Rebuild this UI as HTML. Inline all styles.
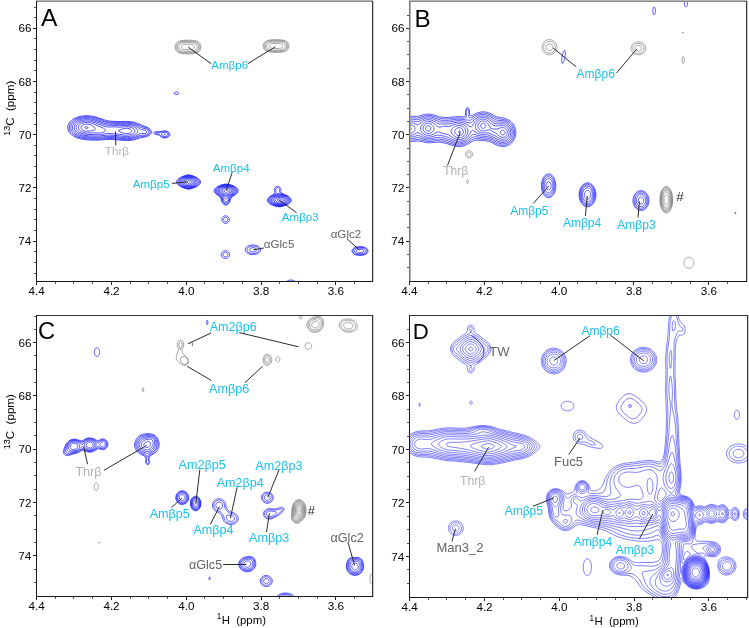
<!DOCTYPE html>
<html><head><meta charset="utf-8"><style>
html,body{margin:0;padding:0;background:#fff;width:749px;height:628px;overflow:hidden}
svg{display:block;will-change:transform}
text{font-family:"Liberation Sans",sans-serif}
</style></head><body>
<svg width="749" height="628" viewBox="0 0 749 628">
<rect width="749" height="628" fill="#fff"/>
<clipPath id="clipA"><rect x="37" y="2" width="335" height="279"/></clipPath>
<clipPath id="clipB"><rect x="410" y="2" width="336" height="279"/></clipPath>
<clipPath id="clipC"><rect x="37" y="316" width="335" height="280"/></clipPath>
<clipPath id="clipD"><rect x="410" y="316" width="337" height="281"/></clipPath>
<rect x="36.00" y="282.00" width="1.00" height="3.00" fill="#222"/>
<text x="28.40" y="295.20" font-size="11.70">4.4</text>
<rect x="55.00" y="282.00" width="1.00" height="2.00" fill="#555"/>
<rect x="73.00" y="282.00" width="1.00" height="2.00" fill="#555"/>
<rect x="92.00" y="282.00" width="1.00" height="2.00" fill="#555"/>
<rect x="111.00" y="282.00" width="1.00" height="3.00" fill="#222"/>
<text x="103.39" y="295.20" font-size="11.70">4.2</text>
<rect x="130.00" y="282.00" width="1.00" height="2.00" fill="#555"/>
<rect x="148.00" y="282.00" width="1.00" height="2.00" fill="#555"/>
<rect x="167.00" y="282.00" width="1.00" height="2.00" fill="#555"/>
<rect x="186.00" y="282.00" width="1.00" height="3.00" fill="#222"/>
<text x="178.18" y="295.20" font-size="11.70">4.0</text>
<rect x="204.00" y="282.00" width="1.00" height="2.00" fill="#555"/>
<rect x="223.00" y="282.00" width="1.00" height="2.00" fill="#555"/>
<rect x="242.00" y="282.00" width="1.00" height="2.00" fill="#555"/>
<rect x="261.00" y="282.00" width="1.00" height="3.00" fill="#222"/>
<text x="252.98" y="295.20" font-size="11.70">3.8</text>
<rect x="279.00" y="282.00" width="1.00" height="2.00" fill="#555"/>
<rect x="298.00" y="282.00" width="1.00" height="2.00" fill="#555"/>
<rect x="317.00" y="282.00" width="1.00" height="2.00" fill="#555"/>
<rect x="335.00" y="282.00" width="1.00" height="3.00" fill="#222"/>
<text x="327.84" y="295.20" font-size="11.70">3.6</text>
<rect x="354.00" y="282.00" width="1.00" height="2.00" fill="#555"/>
<rect x="34.00" y="7.00" width="2.00" height="1.00" fill="#555"/>
<rect x="34.00" y="17.00" width="2.00" height="1.00" fill="#555"/>
<rect x="33.00" y="28.00" width="3.00" height="1.00" fill="#222"/>
<text x="18.50" y="32.40" font-size="11.70">66</text>
<rect x="34.00" y="38.00" width="2.00" height="1.00" fill="#555"/>
<rect x="34.00" y="49.00" width="2.00" height="1.00" fill="#555"/>
<rect x="34.00" y="60.00" width="2.00" height="1.00" fill="#555"/>
<rect x="34.00" y="70.00" width="2.00" height="1.00" fill="#555"/>
<rect x="33.00" y="81.00" width="3.00" height="1.00" fill="#222"/>
<text x="18.49" y="85.60" font-size="11.70">68</text>
<rect x="34.00" y="92.00" width="2.00" height="1.00" fill="#555"/>
<rect x="34.00" y="102.00" width="2.00" height="1.00" fill="#555"/>
<rect x="34.00" y="113.00" width="2.00" height="1.00" fill="#555"/>
<rect x="34.00" y="124.00" width="2.00" height="1.00" fill="#555"/>
<rect x="33.00" y="134.00" width="3.00" height="1.00" fill="#222"/>
<text x="18.44" y="138.80" font-size="11.70">70</text>
<rect x="34.00" y="145.00" width="2.00" height="1.00" fill="#555"/>
<rect x="34.00" y="155.00" width="2.00" height="1.00" fill="#555"/>
<rect x="34.00" y="166.00" width="2.00" height="1.00" fill="#555"/>
<rect x="34.00" y="177.00" width="2.00" height="1.00" fill="#555"/>
<rect x="33.00" y="187.00" width="3.00" height="1.00" fill="#222"/>
<text x="18.57" y="192.00" font-size="11.70">72</text>
<rect x="34.00" y="198.00" width="2.00" height="1.00" fill="#555"/>
<rect x="34.00" y="209.00" width="2.00" height="1.00" fill="#555"/>
<rect x="34.00" y="219.00" width="2.00" height="1.00" fill="#555"/>
<rect x="34.00" y="230.00" width="2.00" height="1.00" fill="#555"/>
<rect x="33.00" y="241.00" width="3.00" height="1.00" fill="#222"/>
<text x="18.33" y="245.20" font-size="11.70">74</text>
<rect x="34.00" y="251.00" width="2.00" height="1.00" fill="#555"/>
<rect x="34.00" y="262.00" width="2.00" height="1.00" fill="#555"/>
<rect x="34.00" y="273.00" width="2.00" height="1.00" fill="#555"/>
<path d="M177.2 94.5L176.8 94.6L176.0 94.6L175.5 94.5L174.8 94.2L174.5 94.0L174.2 93.8L174.1 93.5L174.1 93.2L174.2 93.0L174.3 92.8L174.8 92.4L175.2 92.2L175.8 92.1L176.2 92.0L176.8 92.0L177.2 92.1L177.8 92.2L178.2 92.5L178.5 92.8L178.6 93.0L178.7 93.2L178.7 93.5L178.6 93.8L178.2 94.1L177.8 94.3ZM129.0 140.5L126.8 140.6L124.2 140.5L122.0 140.3L115.2 139.7L112.8 139.5L110.2 139.4L107.0 139.5L101.8 139.9L99.0 140.1L95.8 140.1L92.0 140.1L88.5 139.9L85.5 139.6L83.0 139.3L80.5 138.8L79.0 138.4L77.5 138.0L76.0 137.4L74.8 136.8L73.5 136.1L72.5 135.4L71.5 134.7L70.5 133.7L69.8 132.9L69.1 132.0L68.5 131.0L68.1 130.0L67.9 129.0L67.7 128.0L67.7 127.0L67.9 125.8L68.3 124.5L68.8 123.5L69.5 122.5L70.3 121.5L71.3 120.5L72.5 119.6L73.8 118.8L75.2 118.0L76.8 117.4L78.2 116.9L80.0 116.4L81.8 116.1L83.5 115.9L85.2 115.7L87.0 115.7L89.0 115.8L90.5 116.0L92.0 116.2L93.5 116.5L95.2 116.9L98.5 117.8L104.0 119.7L105.5 120.2L107.5 120.7L109.2 121.0L112.2 121.3L117.5 121.5L120.2 121.5L125.8 121.4L128.5 121.5L130.2 121.6L131.8 121.8L133.2 122.1L134.8 122.4L136.2 122.8L137.8 123.4L142.5 125.5L146.5 126.9L148.0 127.6L148.7 128.0L149.2 128.4L150.1 129.2L150.7 130.2L151.6 132.0L151.7 132.5L151.7 132.8L151.6 133.0L151.2 133.5L150.7 134.0L149.9 134.8L149.0 135.5L148.2 135.9L147.2 136.4L146.5 136.6L145.5 136.9L142.0 137.5L140.8 137.7L139.5 138.1L136.2 139.2L134.0 139.8L131.8 140.2L130.5 140.4ZM166.5 137.8L165.5 137.9L164.2 138.0L163.2 137.8L162.2 137.5L161.6 137.2L161.0 136.9L160.5 136.5L159.4 135.5L158.8 135.1L157.8 134.8L155.5 134.2L154.8 134.0L154.3 133.8L153.9 133.5L153.6 133.2L153.5 133.0L153.5 132.8L153.7 132.5L154.1 132.2L154.8 132.0L155.5 131.8L156.8 131.7L159.2 131.7L160.0 131.6L161.0 131.5L162.8 131.0L163.8 130.9L164.8 130.8L165.5 130.8L166.5 131.0L167.2 131.3L168.0 131.6L168.5 131.9L168.9 132.2L169.3 132.8L169.6 133.2L169.8 133.8L169.9 134.2L169.9 134.8L169.7 135.2L169.5 135.8L169.2 136.2L168.8 136.7L168.3 137.0L167.8 137.3L167.2 137.5ZM189.8 189.0L188.8 189.2L188.2 189.2L186.8 188.9L184.8 188.3L183.0 187.7L181.5 187.1L180.2 186.4L179.0 185.6L178.2 185.0L177.5 184.2L177.0 183.5L176.7 182.8L176.6 182.2L176.6 181.5L176.9 180.8L177.3 180.0L178.0 179.2L179.0 178.4L180.2 177.6L181.8 176.8L183.2 176.2L185.0 175.6L186.8 175.1L188.5 174.8L189.5 174.9L191.2 175.3L193.0 175.9L194.5 176.4L196.0 177.1L197.2 177.8L198.4 178.5L199.2 179.2L199.7 179.8L200.2 180.5L200.5 181.2L200.6 182.0L200.5 182.8L200.2 183.5L199.9 184.0L199.2 184.7L198.5 185.4L197.6 186.0L196.5 186.7L195.5 187.2L194.0 187.8L192.5 188.3L191.2 188.7ZM226.0 205.0L225.5 205.0L225.0 204.9L224.2 204.6L223.5 204.2L222.8 203.5L222.3 202.8L221.9 202.0L221.6 201.0L221.0 198.8L220.6 198.0L220.3 197.5L219.9 197.0L219.4 196.5L218.8 196.0L216.5 194.4L215.7 193.8L215.3 193.2L214.9 192.8L214.4 192.0L214.3 191.5L214.2 190.8L214.2 190.2L214.4 189.8L214.6 189.2L215.1 188.5L215.6 188.0L216.2 187.5L216.8 187.0L217.8 186.4L219.5 185.6L220.8 185.1L221.8 184.8L223.2 184.4L224.2 184.2L225.2 184.1L226.2 184.0L227.2 184.1L228.5 184.3L230.8 184.8L231.8 185.2L233.0 185.6L234.7 186.5L235.6 187.0L236.2 187.5L236.8 188.0L237.3 188.5L237.6 189.0L237.9 189.5L238.1 190.2L238.2 190.8L238.1 191.5L237.8 192.2L237.4 193.0L236.9 193.5L236.4 194.0L235.5 194.7L233.0 196.2L232.3 196.8L231.7 197.2L231.3 197.8L231.0 198.2L230.6 199.0L230.0 201.0L229.7 202.0L229.2 202.8L228.8 203.5L228.2 204.0L227.5 204.6L226.8 204.9ZM280.0 206.8L279.2 206.8L278.2 206.7L277.2 206.6L276.0 206.3L274.5 205.9L273.5 205.6L272.2 205.1L271.2 204.6L269.7 203.8L269.1 203.2L268.5 202.8L268.1 202.2L267.6 201.5L267.4 201.0L267.3 200.5L267.3 199.8L267.6 199.0L267.8 198.5L268.4 197.8L269.0 197.2L269.9 196.5L272.6 194.8L273.3 194.2L273.9 193.8L274.3 193.2L274.5 192.8L274.6 192.2L274.6 191.8L274.4 190.5L274.3 189.8L274.4 189.0L274.6 188.2L275.1 187.5L275.8 186.9L276.5 186.5L277.2 186.3L277.8 186.3L278.2 186.4L279.0 186.6L279.8 187.1L280.3 187.8L280.7 188.5L280.9 189.2L280.9 190.0L280.9 191.2L281.0 191.8L281.2 192.2L281.5 192.8L282.1 193.2L283.0 193.8L287.0 195.6L288.0 196.1L289.0 196.8L289.9 197.5L290.6 198.2L291.0 199.0L291.3 199.8L291.3 200.2L291.2 201.0L291.0 201.5L290.7 202.0L290.3 202.5L289.8 203.0L289.2 203.5L288.5 204.0L287.8 204.4L286.8 204.9L285.8 205.3L284.5 205.8L282.2 206.4L281.0 206.6ZM226.5 223.3L225.8 223.4L225.0 223.4L224.2 223.2L223.5 222.8L222.9 222.2L222.5 221.8L222.2 221.2L221.9 220.5L221.8 219.8L221.8 219.0L222.0 218.2L222.4 217.5L223.0 216.8L223.5 216.4L224.0 216.2L224.8 215.9L225.5 215.8L226.2 215.9L227.0 216.1L227.5 216.3L228.1 216.8L228.6 217.2L229.0 218.0L229.3 218.8L229.4 219.5L229.3 220.2L229.1 221.0L228.9 221.5L228.3 222.2L227.8 222.7L227.2 223.0ZM254.5 254.5L253.5 254.6L252.2 254.6L251.2 254.5L250.2 254.3L249.2 254.0L248.5 253.7L247.6 253.2L246.8 252.8L246.2 252.2L245.7 251.5L245.4 251.0L245.2 250.2L245.2 249.5L245.3 249.0L245.6 248.2L245.9 247.8L246.4 247.2L247.0 246.7L247.8 246.3L248.5 245.9L249.2 245.6L250.2 245.3L251.2 245.1L252.2 245.0L253.2 245.0L254.2 245.1L255.2 245.2L256.2 245.4L257.2 245.8L258.0 246.1L258.7 246.5L259.2 246.9L259.8 247.5L260.2 248.0L260.5 248.5L260.7 249.2L260.8 250.0L260.7 250.5L260.6 251.0L260.3 251.5L259.9 252.0L259.4 252.5L258.8 253.0L258.0 253.5L257.2 253.8L256.2 254.2L255.5 254.3ZM362.5 255.3L361.2 255.4L360.0 255.4L358.8 255.4L357.5 255.3L356.5 255.1L355.8 254.9L355.0 254.7L354.2 254.3L353.5 253.8L352.9 253.2L352.5 252.7L352.2 252.0L352.0 251.5L352.0 250.8L352.2 250.0L352.4 249.5L352.7 249.0L353.2 248.5L353.8 248.0L354.2 247.7L355.0 247.3L355.8 247.1L356.5 246.9L357.5 246.7L358.8 246.6L360.0 246.6L361.2 246.6L362.5 246.7L363.5 246.9L364.2 247.1L365.0 247.3L365.8 247.7L366.5 248.2L367.0 248.7L367.5 249.2L367.7 249.8L367.9 250.2L368.0 251.0L367.9 251.8L367.7 252.2L367.5 252.8L367.0 253.3L366.5 253.8L365.8 254.2L365.0 254.7L364.2 254.9L363.5 255.1ZM226.5 258.3L225.8 258.4L225.0 258.4L224.2 258.3L223.5 258.0L222.8 257.5L222.1 257.0L221.8 256.5L221.4 255.8L221.2 255.0L221.2 254.2L221.4 253.5L221.6 253.0L222.0 252.4L222.5 251.9L223.0 251.5L223.8 251.1L224.5 250.9L225.2 250.8L226.2 250.9L227.0 251.1L227.8 251.4L228.5 252.0L229.0 252.6L229.3 253.2L229.6 254.0L229.6 254.8L229.5 255.5L229.2 256.2L228.8 256.9L228.1 257.5L227.3 258.0ZM286.7 281.5L287.0 281.2L287.5 280.9L288.5 280.4L289.8 280.1L291.0 280.0L292.2 280.1L293.5 280.4L294.5 280.9L295.0 281.2L295.3 281.5M130.0 139.5L127.5 139.7L124.8 139.6L122.2 139.5L118.0 139.0L115.2 138.8L112.2 138.6L109.8 138.5L106.8 138.6L101.5 139.0L99.2 139.2L96.5 139.2L93.0 139.2L89.5 139.0L86.5 138.8L83.8 138.5L81.5 138.1L80.0 137.7L78.8 137.3L77.5 136.9L76.0 136.2L74.8 135.5L73.8 134.9L72.9 134.2L72.0 133.5L71.2 132.7L70.5 131.8L70.1 131.0L69.6 130.0L69.3 129.0L69.2 128.0L69.2 127.0L69.4 126.0L69.6 125.0L70.1 124.0L70.7 123.0L71.5 122.1L72.5 121.1L73.5 120.3L74.5 119.6L75.8 119.0L77.0 118.4L78.5 117.9L80.0 117.4L81.5 117.1L83.0 116.9L84.8 116.7L86.5 116.6L88.2 116.7L90.0 116.9L91.5 117.1L93.0 117.3L94.5 117.7L97.8 118.6L104.8 121.0L106.5 121.5L108.5 121.9L111.2 122.1L118.0 122.4L120.5 122.4L125.5 122.3L128.0 122.3L130.8 122.6L133.2 123.0L134.8 123.4L136.2 123.9L138.0 124.6L140.8 126.0L141.8 126.4L143.0 126.8L145.8 127.6L147.0 128.1L148.0 128.7L148.8 129.2L149.4 130.0L149.8 130.8L150.1 131.5L150.2 132.0L150.1 132.8L149.8 133.2L149.3 134.0L148.8 134.5L148.1 135.0L147.2 135.4L146.2 135.8L145.2 136.0L141.8 136.5L140.5 136.7L139.2 137.0L136.2 138.1L134.5 138.7L132.2 139.2ZM165.5 137.3L164.8 137.3L164.0 137.2L163.2 137.1L162.5 136.8L162.0 136.6L161.5 136.2L160.9 135.8L160.0 134.8L159.5 134.4L158.8 134.1L157.0 133.8L156.2 133.6L155.9 133.5L155.6 133.2L155.5 133.0L155.6 132.8L155.8 132.7L156.1 132.5L156.5 132.4L157.5 132.4L159.2 132.5L160.0 132.5L160.8 132.3L163.0 131.7L164.0 131.5L164.8 131.5L165.5 131.5L166.2 131.7L167.0 131.9L167.5 132.2L167.9 132.5L168.2 132.8L168.6 133.2L168.8 133.6L168.9 134.0L168.9 134.5L168.8 135.0L168.6 135.5L168.4 135.8L168.0 136.2L167.6 136.5L167.2 136.8L166.6 137.0ZM188.8 188.8L188.0 188.7L186.5 188.4L185.0 187.9L183.5 187.4L182.2 186.8L181.0 186.1L180.0 185.5L179.1 184.8L178.6 184.2L178.1 183.5L177.9 183.0L177.7 182.2L177.7 181.8L177.9 181.0L178.3 180.2L178.9 179.5L179.7 178.8L180.5 178.2L181.6 177.5L183.0 176.9L184.2 176.4L185.8 175.9L187.2 175.5L188.5 175.2L189.5 175.4L191.2 175.8L193.0 176.4L194.2 176.9L195.6 177.5L196.8 178.2L197.5 178.8L198.3 179.5L198.9 180.2L199.2 180.8L199.5 181.5L199.5 182.2L199.4 182.8L199.1 183.5L198.6 184.2L198.1 184.8L197.2 185.4L196.4 186.0L195.2 186.7L194.2 187.1L193.0 187.6L191.5 188.1L189.8 188.6ZM226.5 204.1L226.0 204.2L225.5 204.1L224.8 204.0L224.0 203.6L223.6 203.2L223.2 202.8L222.8 202.2L222.5 201.5L222.2 200.8L221.5 198.5L221.3 198.0L221.0 197.4L220.5 196.8L220.0 196.2L217.3 194.2L216.2 193.2L215.8 192.8L215.4 192.0L215.2 191.2L215.2 190.8L215.2 190.2L215.4 189.8L215.6 189.2L215.9 188.8L216.4 188.2L216.9 187.8L217.6 187.2L218.4 186.8L219.2 186.3L220.2 185.8L222.2 185.1L223.2 184.9L224.5 184.6L225.5 184.5L226.2 184.4L228.0 184.6L229.2 184.9L230.2 185.2L232.2 185.9L233.2 186.3L234.0 186.8L234.8 187.2L235.5 187.8L236.0 188.2L236.5 188.8L236.8 189.2L237.0 189.8L237.2 190.2L237.2 190.8L237.2 191.5L237.0 192.0L236.5 192.8L236.0 193.4L235.3 194.0L234.7 194.5L232.5 195.9L231.8 196.5L231.2 197.0L230.8 197.5L230.4 198.0L230.1 198.5L229.9 199.2L229.3 201.0L229.0 201.8L228.8 202.3L228.2 203.0L227.8 203.4L227.2 203.8ZM280.8 206.3L279.2 206.4L278.5 206.3L277.2 206.1L276.0 205.9L275.0 205.6L273.8 205.2L272.8 204.8L271.8 204.3L271.0 203.9L270.2 203.3L269.8 202.9L269.3 202.5L268.9 202.0L268.6 201.5L268.3 200.8L268.3 200.0L268.4 199.2L268.8 198.5L269.4 197.8L270.0 197.2L270.9 196.5L273.8 194.8L274.9 194.0L275.5 193.5L275.9 193.0L276.2 192.5L276.2 192.0L275.7 190.2L275.6 189.8L275.7 189.2L275.9 188.8L276.2 188.2L276.8 187.8L277.2 187.7L277.8 187.6L278.0 187.7L278.5 187.9L279.0 188.2L279.4 188.8L279.5 189.2L279.6 189.8L279.6 190.2L279.5 191.2L279.5 191.8L279.7 192.2L280.1 192.8L280.8 193.2L281.7 193.8L286.0 195.7L287.0 196.2L287.9 196.8L288.9 197.5L289.6 198.2L290.1 199.0L290.3 199.8L290.3 200.2L290.3 200.8L290.1 201.2L289.9 201.8L289.5 202.2L289.1 202.8L288.0 203.6L287.2 204.1L286.5 204.5L284.8 205.2L282.8 205.8ZM226.0 221.8L225.2 221.8L225.0 221.7L224.5 221.5L224.2 221.2L223.8 220.8L223.6 220.5L223.4 220.0L223.4 219.2L223.6 218.8L223.8 218.4L224.0 218.1L224.4 217.8L224.8 217.6L225.2 217.4L226.0 217.4L226.5 217.6L226.8 217.8L227.2 218.2L227.5 218.5L227.7 219.0L227.8 219.2L227.8 220.0L227.6 220.5L227.5 220.8L227.2 221.0L226.8 221.5L226.5 221.6ZM253.5 253.5L252.5 253.5L251.8 253.4L251.0 253.3L250.2 253.1L249.5 252.8L248.8 252.5L248.2 252.1L247.9 251.8L247.4 251.2L247.2 250.8L247.0 250.2L247.0 249.8L247.0 249.2L247.2 248.8L247.5 248.2L248.0 247.8L248.5 247.3L249.0 247.0L249.5 246.8L250.2 246.5L251.0 246.3L251.8 246.2L253.2 246.1L254.8 246.2L255.5 246.4L256.2 246.7L257.0 247.0L257.4 247.2L257.8 247.5L258.2 248.0L258.5 248.3L258.8 248.8L259.0 249.2L259.0 249.8L259.0 250.2L258.8 250.8L258.4 251.5L258.0 251.9L257.5 252.3L257.0 252.6L256.2 252.9L255.0 253.3L254.2 253.4ZM362.8 254.5L361.8 254.7L360.8 254.7L359.2 254.7L358.0 254.6L357.0 254.5L356.2 254.3L355.5 254.0L355.0 253.8L354.5 253.5L353.9 253.0L353.5 252.5L353.2 252.0L353.1 251.5L353.0 250.8L353.1 250.2L353.3 249.8L353.7 249.2L354.0 248.9L354.5 248.5L355.0 248.2L355.5 248.0L356.2 247.7L357.0 247.5L357.8 247.4L358.8 247.3L359.8 247.3L361.0 247.3L362.0 247.4L363.0 247.5L363.8 247.7L364.5 248.0L365.0 248.2L365.5 248.5L366.0 248.9L366.3 249.2L366.7 249.8L366.9 250.2L367.0 250.8L367.0 251.2L366.9 251.8L366.7 252.2L366.3 252.8L366.0 253.1L365.5 253.5L365.0 253.8L364.2 254.1L363.5 254.4ZM225.8 256.8L225.2 256.8L224.8 256.7L224.2 256.5L224.0 256.4L223.5 256.0L223.3 255.8L223.2 255.5L223.0 255.0L223.0 254.8L223.0 254.2L223.2 253.8L223.3 253.5L223.5 253.2L224.0 252.8L224.8 252.5L225.2 252.4L225.8 252.4L226.2 252.5L226.8 252.8L227.2 253.2L227.5 253.5L227.7 254.0L227.8 254.2L227.8 254.8L227.7 255.2L227.5 255.7L227.3 256.0L227.0 256.3L226.6 256.5L226.2 256.7ZM289.6 281.5L290.2 281.3L291.0 281.3L291.8 281.3L292.4 281.5M130.0 138.5L127.5 138.7L124.8 138.7L122.8 138.5L118.2 138.0L116.0 137.8L112.2 137.6L109.5 137.5L108.0 137.5L106.5 137.6L101.8 138.0L99.5 138.2L96.8 138.2L93.5 138.2L89.8 138.0L86.8 137.8L84.5 137.6L82.2 137.2L80.8 136.8L79.5 136.5L78.5 136.1L77.2 135.6L76.0 134.9L75.0 134.3L74.2 133.8L73.4 133.0L72.6 132.2L72.1 131.5L71.6 130.8L71.1 129.8L70.9 128.8L70.8 128.0L70.8 127.0L70.9 126.2L71.2 125.2L71.5 124.5L72.1 123.5L72.8 122.7L73.5 121.9L74.5 121.1L75.5 120.4L76.8 119.7L78.0 119.2L79.2 118.7L80.5 118.4L82.0 118.0L83.5 117.8L85.0 117.7L86.5 117.6L88.2 117.7L89.8 117.8L91.2 118.0L92.8 118.3L94.2 118.7L97.5 119.6L102.7 121.5L104.3 122.0L106.1 122.5L107.8 122.8L110.2 123.0L118.5 123.4L120.8 123.4L125.5 123.2L127.8 123.3L130.2 123.5L132.5 123.9L134.2 124.4L136.0 125.0L137.5 125.7L140.2 127.2L141.2 127.6L142.5 128.0L145.0 128.6L146.3 129.0L147.0 129.3L147.8 129.9L148.2 130.5L148.6 131.0L148.7 131.5L148.8 132.0L148.7 132.5L148.5 133.0L148.1 133.5L147.8 133.9L147.2 134.2L146.5 134.6L145.8 134.8L144.8 135.0L141.5 135.3L140.2 135.5L139.0 135.8L135.8 137.1L134.2 137.6L132.2 138.2ZM165.8 136.3L165.0 136.4L164.5 136.4L164.0 136.4L163.2 136.1L162.6 135.8L162.0 135.2L161.8 135.0L161.6 134.5L161.5 134.0L161.5 133.8L161.7 133.5L161.9 133.2L162.2 133.0L162.8 132.8L163.5 132.5L164.2 132.4L165.0 132.4L165.8 132.5L166.5 132.8L166.9 133.0L167.2 133.3L167.5 133.8L167.7 134.2L167.6 134.8L167.4 135.2L166.9 135.8L166.5 136.0ZM188.8 188.3L188.2 188.3L187.2 188.1L186.0 187.7L185.0 187.4L183.2 186.6L181.6 185.8L180.5 184.9L180.0 184.5L179.6 184.0L179.3 183.5L179.0 183.0L178.9 182.5L178.8 182.0L178.9 181.5L179.0 181.0L179.3 180.5L179.6 180.0L180.3 179.2L180.9 178.8L181.5 178.3L182.2 177.9L183.2 177.4L185.0 176.6L186.8 176.1L187.8 175.8L188.5 175.7L189.0 175.8L190.0 176.0L191.2 176.3L192.2 176.6L194.0 177.4L195.6 178.2L196.8 179.1L197.2 179.5L197.6 180.0L197.9 180.5L198.2 181.0L198.3 181.5L198.4 182.0L198.3 182.5L198.2 183.0L197.8 183.8L197.4 184.2L196.9 184.8L195.8 185.6L195.0 186.1L194.0 186.6L192.2 187.4L190.5 187.9L189.5 188.2ZM226.5 203.0L225.8 203.1L225.0 203.0L224.5 202.8L224.2 202.5L223.8 202.0L223.4 201.5L223.1 201.0L222.9 200.2L222.2 198.2L222.0 197.8L221.7 197.2L221.2 196.7L220.6 196.0L218.1 194.0L217.5 193.5L217.1 193.0L216.7 192.5L216.4 192.0L216.2 191.2L216.2 190.8L216.2 190.2L216.4 189.8L216.6 189.2L217.0 188.8L217.4 188.2L218.0 187.8L219.1 187.0L220.8 186.2L222.5 185.6L224.5 185.1L225.5 184.9L226.2 184.8L227.0 184.9L228.0 185.1L230.0 185.6L231.8 186.2L233.3 187.0L234.5 187.8L235.0 188.2L235.4 188.8L235.8 189.2L236.0 189.8L236.2 190.2L236.2 190.8L236.1 191.5L236.0 192.0L235.7 192.5L235.1 193.2L234.6 193.8L233.9 194.2L231.1 196.2L230.5 196.8L230.1 197.2L229.7 197.8L229.4 198.5L228.7 200.5L228.2 201.5L227.9 202.0L227.5 202.4L227.0 202.8ZM281.0 205.8L280.0 205.9L279.2 206.0L278.0 205.8L276.8 205.6L275.2 205.2L273.8 204.6L272.5 204.0L271.6 203.5L270.8 202.9L270.1 202.2L269.6 201.5L269.4 201.0L269.3 200.5L269.3 199.8L269.4 199.2L269.8 198.5L270.5 197.8L271.0 197.2L272.0 196.5L273.0 195.9L275.0 194.8L276.5 194.1L277.5 193.7L278.2 193.5L279.0 193.5L279.5 193.6L282.2 194.6L284.0 195.3L285.2 195.9L286.2 196.4L287.2 197.0L288.0 197.7L288.6 198.2L288.9 198.8L289.2 199.5L289.3 200.0L289.3 200.8L289.1 201.2L288.7 202.0L288.0 202.7L287.4 203.2L286.6 203.8L285.7 204.2L284.8 204.7L283.5 205.1L282.0 205.6ZM254.2 251.8L253.2 251.9L252.2 251.9L251.2 251.7L250.5 251.3L250.1 251.0L249.9 250.8L249.6 250.2L249.5 250.0L249.5 249.5L249.8 249.0L250.2 248.5L250.8 248.2L251.5 247.9L252.2 247.7L253.2 247.7L254.0 247.7L254.8 247.9L255.4 248.2L255.8 248.5L256.0 248.8L256.4 249.2L256.5 249.8L256.4 250.2L256.1 250.8L255.6 251.2L255.0 251.6ZM362.0 253.8L360.5 253.9L358.5 253.8L357.2 253.6L356.7 253.5L356.1 253.2L355.2 252.7L355.0 252.5L354.6 252.0L354.5 251.8L354.3 251.2L354.3 250.8L354.5 250.2L354.8 249.8L355.0 249.5L355.6 249.0L356.5 248.6L357.8 248.3L359.2 248.1L361.5 248.2L362.8 248.4L363.3 248.5L363.9 248.8L364.8 249.3L365.0 249.5L365.4 250.0L365.5 250.2L365.7 250.8L365.7 251.2L365.5 251.8L365.2 252.2L365.0 252.5L364.7 252.8L364.2 253.1L363.2 253.5ZM129.5 137.5L127.2 137.7L124.8 137.6L122.8 137.5L117.0 136.8L112.0 136.5L109.5 136.4L108.0 136.4L106.5 136.5L100.2 137.1L98.5 137.2L96.8 137.2L92.2 137.1L88.2 136.9L85.5 136.7L83.2 136.3L82.0 136.0L80.8 135.7L79.8 135.4L78.5 134.9L77.5 134.4L76.5 133.8L75.7 133.2L74.8 132.5L74.2 131.9L73.7 131.2L73.2 130.5L72.9 129.8L72.6 129.0L72.4 128.2L72.4 127.2L72.5 126.5L72.7 125.8L73.1 124.8L73.5 124.0L74.1 123.2L74.9 122.5L75.8 121.8L76.8 121.1L77.8 120.6L78.8 120.1L80.0 119.7L81.2 119.3L82.5 119.0L83.8 118.8L85.2 118.7L86.8 118.7L88.2 118.7L89.5 118.9L91.0 119.1L92.5 119.4L93.8 119.7L96.8 120.6L102.1 122.5L103.8 123.1L105.5 123.6L107.2 123.9L109.5 124.1L113.8 124.2L119.0 124.4L121.0 124.4L125.5 124.3L127.5 124.3L129.8 124.5L131.8 124.8L133.8 125.4L134.8 125.8L135.7 126.2L137.2 127.1L139.8 128.8L140.8 129.4L141.2 129.6L142.0 129.7L144.5 130.1L145.0 130.2L145.5 130.4L146.0 130.7L146.2 130.9L146.5 131.2L146.6 131.5L146.7 132.0L146.5 132.5L146.3 132.8L146.0 133.0L145.5 133.3L145.0 133.4L144.2 133.5L143.5 133.5L141.5 133.5L140.8 133.5L140.2 133.7L139.0 134.1L135.8 135.8L134.0 136.5L133.0 136.8L131.8 137.2ZM165.0 134.7L164.8 134.7L164.5 134.7L164.3 134.5L164.3 134.2L164.5 134.1L164.8 134.1L165.0 134.1L165.2 134.2L165.2 134.5ZM188.8 187.8L188.5 187.8L187.5 187.6L185.8 187.1L184.0 186.3L182.5 185.5L181.5 184.7L181.0 184.2L180.6 183.8L180.3 183.2L180.1 182.8L180.0 182.0L180.1 181.2L180.3 180.8L180.6 180.2L181.0 179.8L181.5 179.3L182.5 178.5L183.8 177.8L185.2 177.1L187.0 176.5L188.5 176.2L189.0 176.3L189.8 176.4L191.5 177.0L193.2 177.7L194.7 178.5L195.8 179.3L196.2 179.8L196.6 180.2L196.9 180.8L197.1 181.2L197.2 182.0L197.1 182.8L196.9 183.2L196.6 183.8L196.2 184.2L195.8 184.7L194.8 185.4L193.5 186.2L192.0 186.8L190.2 187.4ZM226.5 201.5L226.0 201.7L225.5 201.7L225.0 201.5L224.5 201.0L224.2 200.7L224.0 200.2L223.2 198.2L222.7 197.2L222.3 196.8L221.6 196.0L219.2 194.0L218.1 193.0L217.6 192.2L217.4 191.8L217.2 191.2L217.2 190.8L217.3 190.2L217.4 189.8L217.9 189.0L218.3 188.5L218.8 188.1L219.2 187.7L220.0 187.2L221.2 186.6L223.0 185.9L224.8 185.5L225.5 185.4L226.2 185.3L227.8 185.5L229.5 186.0L231.2 186.6L232.5 187.3L233.2 187.8L233.8 188.2L234.5 189.0L235.0 189.8L235.1 190.2L235.2 190.8L235.1 191.2L235.0 191.8L234.8 192.2L234.4 192.8L234.0 193.2L233.4 193.8L230.4 196.0L229.8 196.5L229.3 197.0L228.9 197.5L228.5 198.2L227.8 200.0L227.5 200.5L227.0 201.2ZM279.5 205.5L279.0 205.5L278.0 205.4L276.2 205.0L274.5 204.3L273.0 203.6L272.4 203.2L271.8 202.8L271.0 202.0L270.6 201.2L270.4 200.8L270.3 200.2L270.4 199.5L270.6 199.0L270.9 198.5L271.6 197.8L272.8 196.8L274.2 195.9L276.0 195.1L277.5 194.6L278.8 194.4L279.2 194.4L279.8 194.5L280.5 194.7L281.8 195.1L283.8 195.8L284.8 196.3L285.6 196.8L286.7 197.5L287.5 198.2L288.0 199.0L288.2 199.5L288.3 200.0L288.3 200.5L288.1 201.0L287.8 201.8L287.1 202.5L286.5 203.0L286.0 203.4L285.2 203.8L284.5 204.2L282.8 204.8L281.0 205.3ZM361.8 252.5L360.8 252.6L359.5 252.7L358.5 252.6L357.8 252.4L357.4 252.2L357.0 252.0L356.6 251.8L356.5 251.5L356.4 251.2L356.3 251.0L356.4 250.8L356.5 250.5L356.6 250.2L356.9 250.0L357.5 249.7L358.2 249.5L359.2 249.4L360.5 249.3L361.5 249.4L362.2 249.6L362.6 249.8L363.0 250.0L363.4 250.2L363.5 250.5L363.6 250.8L363.7 251.0L363.6 251.2L363.5 251.5L363.4 251.8L363.1 252.0L362.5 252.3ZM128.0 136.5L126.5 136.6L124.8 136.5L123.2 136.3L119.2 135.8L117.5 135.6L109.0 135.1L106.8 135.2L101.2 135.8L99.5 136.0L97.8 136.0L94.5 136.0L88.5 135.8L86.0 135.6L84.0 135.3L81.8 134.7L80.8 134.4L79.8 134.0L78.8 133.6L78.0 133.1L77.2 132.6L76.4 132.0L75.9 131.5L75.3 130.8L75.0 130.2L74.6 129.5L74.3 128.8L74.2 128.0L74.2 127.2L74.3 126.5L74.5 125.8L74.8 125.0L75.2 124.4L75.7 123.8L76.5 123.0L77.1 122.5L77.9 122.0L78.8 121.5L79.8 121.1L80.8 120.7L81.8 120.4L82.8 120.2L84.0 120.0L85.0 119.9L86.2 119.8L87.5 119.8L88.8 119.9L90.2 120.1L91.8 120.4L93.2 120.8L96.0 121.6L101.0 123.5L103.2 124.3L105.2 124.9L107.0 125.2L108.8 125.3L113.8 125.4L119.2 125.7L121.2 125.6L125.0 125.4L126.8 125.4L128.5 125.5L130.2 125.8L131.5 126.0L132.5 126.3L133.5 126.7L134.2 127.1L135.0 127.5L135.7 128.0L136.3 128.5L137.0 129.2L137.5 130.0L137.7 130.5L137.8 131.0L137.7 131.5L137.6 132.0L137.3 132.5L136.9 133.0L136.1 133.8L135.4 134.2L134.5 134.8L133.6 135.2L132.5 135.7L131.5 136.0L130.2 136.2L129.2 136.4ZM189.5 187.1L188.8 187.2L188.5 187.2L187.5 187.0L185.8 186.4L184.8 186.0L184.0 185.5L182.9 184.8L182.1 184.0L181.6 183.2L181.4 182.8L181.3 182.2L181.3 181.8L181.4 181.2L181.7 180.5L182.3 179.8L183.2 179.0L184.4 178.2L185.8 177.6L187.2 177.1L188.5 176.8L188.8 176.8L189.5 176.9L191.0 177.4L192.5 178.1L193.7 178.8L194.6 179.5L195.3 180.2L195.8 181.0L195.9 181.8L195.9 182.5L195.6 183.2L195.1 184.0L194.3 184.8L193.3 185.5L192.2 186.1L191.0 186.6ZM226.2 198.9L226.0 198.9L225.8 198.9L225.5 198.9L225.2 198.7L224.8 198.2L223.7 197.0L223.0 196.2L220.3 194.0L219.5 193.2L218.9 192.5L218.6 192.0L218.4 191.2L218.3 190.8L218.4 190.2L218.6 189.8L219.0 189.0L219.8 188.2L220.8 187.6L222.0 186.9L223.5 186.4L225.0 186.0L226.2 185.8L227.5 186.0L229.0 186.4L230.5 187.0L231.8 187.6L232.6 188.2L233.4 189.0L233.8 189.8L234.0 190.2L234.1 190.8L234.0 191.5L233.8 192.0L233.5 192.5L233.0 193.1L232.0 194.0L229.6 195.8L228.6 196.5L227.9 197.2L226.8 198.5ZM279.2 205.0L278.0 204.8L276.2 204.4L275.0 203.9L273.7 203.2L272.7 202.5L272.0 201.8L271.6 201.0L271.4 200.2L271.5 199.8L271.6 199.2L272.1 198.5L272.8 197.8L273.8 197.0L275.0 196.3L276.5 195.7L277.2 195.4L278.0 195.2L278.8 195.1L279.2 195.1L280.5 195.3L282.2 195.9L283.8 196.5L285.1 197.2L286.0 198.0L286.7 198.8L287.0 199.5L287.2 200.2L287.0 201.0L286.6 201.8L285.9 202.5L284.9 203.2L283.8 203.8L282.2 204.4L280.5 204.9ZM126.5 135.3L125.2 135.2L123.8 135.0L119.8 134.4L118.0 134.1L113.2 133.8L108.8 133.4L107.8 133.4L106.8 133.5L105.8 133.7L101.8 134.4L100.2 134.6L98.8 134.7L97.0 134.7L88.8 134.5L86.5 134.4L84.8 134.1L82.8 133.7L81.0 133.1L79.5 132.3L78.9 132.0L78.2 131.5L77.7 131.0L77.2 130.5L76.8 129.8L76.5 129.2L76.3 128.8L76.2 128.0L76.1 127.2L76.2 126.8L76.4 126.0L76.6 125.5L77.0 124.9L77.5 124.3L78.1 123.8L78.7 123.2L80.0 122.5L80.8 122.1L81.8 121.8L83.5 121.3L84.5 121.2L85.5 121.1L87.5 121.1L88.8 121.2L90.2 121.4L91.5 121.7L93.0 122.1L95.0 122.8L99.5 124.5L102.8 125.7L105.0 126.5L106.5 126.8L107.5 127.0L108.5 127.0L113.5 126.9L115.0 126.9L117.8 127.1L119.2 127.2L121.0 127.1L125.2 126.7L126.8 126.7L128.0 126.8L129.0 126.9L130.0 127.1L131.0 127.4L132.0 127.8L132.8 128.2L133.3 128.5L133.9 129.0L134.3 129.5L134.6 130.0L134.8 130.5L134.9 131.0L134.8 131.5L134.7 132.0L134.4 132.5L133.9 133.0L133.3 133.5L132.8 133.8L132.0 134.2L131.2 134.5L130.2 134.8L128.5 135.1L127.5 135.2ZM189.0 186.6L188.5 186.6L187.8 186.4L187.0 186.2L185.8 185.7L184.6 185.0L184.0 184.5L183.2 183.8L182.8 183.0L182.5 182.2L182.6 181.5L182.9 180.8L183.4 180.0L184.0 179.5L185.0 178.8L186.0 178.2L187.2 177.7L188.5 177.4L188.8 177.4L189.2 177.5L190.5 177.9L191.7 178.5L192.8 179.1L193.5 179.8L194.2 180.5L194.4 181.0L194.7 181.8L194.6 182.5L194.3 183.2L193.8 184.0L193.2 184.5L192.2 185.2L191.3 185.8L190.2 186.2ZM226.8 196.5L226.2 196.7L226.0 196.7L225.5 196.6L225.0 196.4L224.0 195.8L222.5 194.8L221.2 193.8L220.7 193.2L220.3 192.8L219.9 192.2L219.7 191.8L219.5 191.0L219.6 190.2L219.9 189.5L220.5 188.8L221.2 188.2L222.2 187.6L223.5 187.0L224.8 186.7L226.0 186.4L226.5 186.4L227.0 186.5L228.5 186.9L229.8 187.4L230.9 188.0L231.6 188.5L232.3 189.2L232.7 190.0L232.9 190.8L232.8 191.2L232.6 192.0L232.1 192.8L231.6 193.2L230.7 194.0L229.5 194.9L227.8 196.0ZM280.5 204.3L279.2 204.4L278.5 204.3L277.5 204.1L276.5 203.8L275.5 203.4L274.8 203.0L274.0 202.5L273.5 202.0L273.1 201.5L272.8 201.0L272.7 200.5L272.7 200.0L272.8 199.5L273.0 199.0L273.3 198.5L273.8 198.0L274.5 197.5L275.2 197.0L276.0 196.6L276.8 196.3L277.8 196.0L278.5 195.9L279.2 195.8L280.0 195.9L280.8 196.1L282.2 196.6L283.6 197.2L284.7 198.0L285.4 198.8L285.7 199.2L285.9 199.8L285.9 200.2L285.9 200.8L285.5 201.5L285.1 202.0L284.8 202.3L284.2 202.8L283.5 203.2L282.8 203.6L282.0 203.8ZM90.8 133.0L89.0 133.0L87.5 133.0L86.2 132.9L85.0 132.7L83.8 132.4L82.8 132.1L81.8 131.7L80.9 131.2L80.0 130.6L79.4 130.0L79.0 129.5L78.6 128.8L78.4 128.0L78.4 127.2L78.5 126.5L78.9 125.8L79.2 125.2L79.5 124.9L79.9 124.5L80.5 124.1L81.5 123.5L82.8 123.0L84.2 122.6L85.8 122.5L87.2 122.4L89.0 122.6L90.8 123.0L92.8 123.6L94.3 124.2L98.0 125.9L102.2 127.6L103.5 128.2L104.3 128.8L104.9 129.2L105.1 129.5L105.4 130.0L105.4 130.2L105.4 130.5L105.3 130.8L105.1 131.0L104.5 131.5L103.8 131.9L103.1 132.2L102.4 132.5L101.5 132.7L100.2 132.9L99.0 133.0L94.2 132.9ZM128.2 133.5L127.0 133.6L125.8 133.6L124.5 133.4L123.2 133.1L122.1 132.8L120.4 132.0L119.1 131.2L118.8 131.0L118.7 130.8L118.8 130.5L119.1 130.2L120.2 129.8L122.3 129.0L124.0 128.6L125.5 128.4L126.8 128.3L128.0 128.4L129.2 128.7L130.0 129.0L130.5 129.2L131.2 129.8L131.5 130.1L131.7 130.5L131.8 130.8L131.8 131.2L131.6 131.8L131.4 132.0L131.0 132.4L130.5 132.8L129.5 133.2ZM189.2 185.8L188.8 185.9L188.5 185.9L188.0 185.8L187.0 185.4L185.8 184.8L185.2 184.2L184.5 183.5L184.2 183.0L183.9 182.2L183.9 181.8L184.2 181.0L184.7 180.2L185.2 179.8L185.8 179.2L186.8 178.7L187.8 178.3L188.5 178.1L189.0 178.2L190.0 178.5L191.0 179.0L191.7 179.5L192.3 180.0L192.7 180.5L193.0 181.0L193.3 181.8L193.2 182.5L193.0 183.0L192.7 183.5L192.3 184.0L191.7 184.5L191.0 185.0L190.0 185.5ZM226.8 195.3L226.2 195.4L226.0 195.4L225.5 195.3L225.0 195.2L224.0 194.7L223.0 194.0L222.1 193.2L221.4 192.5L221.0 191.8L220.8 191.0L220.8 190.5L220.9 190.2L221.1 189.8L221.5 189.2L222.2 188.6L223.0 188.1L224.0 187.6L225.0 187.3L226.0 187.1L226.8 187.2L227.8 187.4L228.8 187.8L229.8 188.3L230.5 188.9L231.1 189.5L231.4 190.0L231.5 190.2L231.6 190.8L231.5 191.2L231.4 191.8L231.1 192.2L230.5 193.0L229.8 193.6L228.8 194.3L227.8 194.9ZM279.5 203.8L278.8 203.7L277.5 203.4L276.5 203.0L275.6 202.5L274.9 202.0L274.5 201.5L274.2 201.0L274.1 200.8L274.0 200.2L274.0 199.8L274.1 199.5L274.4 199.0L274.8 198.5L275.5 197.9L276.2 197.4L277.2 197.0L278.2 196.7L279.2 196.5L280.2 196.7L281.2 197.0L282.2 197.4L283.2 198.0L283.8 198.5L284.2 199.0L284.5 199.5L284.6 199.8L284.6 200.2L284.6 200.5L284.4 201.0L284.1 201.5L283.7 202.0L283.0 202.5L282.1 203.0L281.2 203.4L280.2 203.6ZM90.2 131.0L88.2 131.2L87.2 131.2L86.2 131.2L85.2 131.0L84.5 130.8L83.8 130.6L83.0 130.2L82.5 129.9L82.0 129.5L81.5 129.0L81.2 128.5L81.0 128.0L81.0 127.5L81.1 127.0L81.3 126.5L81.5 126.1L81.8 125.8L82.2 125.4L82.8 125.0L83.3 124.8L84.0 124.5L84.8 124.3L85.5 124.2L87.0 124.1L88.5 124.3L90.0 124.7L91.4 125.2L92.3 125.8L93.0 126.2L94.2 127.2L94.7 127.8L95.1 128.2L95.3 128.8L95.3 129.0L95.2 129.2L95.0 129.5L94.7 129.8L94.1 130.0L92.5 130.5L91.5 130.8ZM188.5 185.0L188.0 184.8L187.3 184.5L186.8 184.1L186.3 183.8L186.0 183.4L185.7 183.0L185.5 182.5L185.4 182.0L185.5 181.5L185.7 181.0L186.0 180.6L186.3 180.2L186.8 179.9L187.3 179.5L188.0 179.2L188.5 179.0L188.8 179.0L189.0 179.1L189.8 179.4L190.3 179.8L190.9 180.2L191.2 180.6L191.5 181.0L191.7 181.5L191.8 182.0L191.7 182.5L191.5 183.0L191.2 183.4L190.9 183.8L190.3 184.2L189.8 184.6L189.0 184.9L188.8 185.0ZM226.2 194.3L225.8 194.2L225.0 194.0L224.2 193.6L223.5 193.1L222.9 192.5L222.6 192.0L222.4 191.5L222.3 191.0L222.3 190.5L222.5 190.0L222.9 189.5L223.4 189.0L224.0 188.6L224.8 188.2L225.5 188.0L226.2 187.9L227.0 188.1L227.8 188.3L228.5 188.7L229.0 189.0L229.5 189.5L229.9 190.0L230.0 190.5L230.1 191.0L230.0 191.5L229.7 192.0L229.4 192.5L228.9 193.0L228.2 193.4L227.5 193.9L226.8 194.2ZM280.2 202.8L279.8 202.9L279.2 203.0L278.2 202.8L277.6 202.5L277.1 202.2L276.5 201.9L276.1 201.5L275.7 201.0L275.6 200.8L275.5 200.2L275.6 199.8L275.7 199.5L276.0 199.0L276.2 198.8L276.8 198.2L277.5 197.9L278.5 197.5L279.2 197.4L280.0 197.5L281.0 197.8L281.7 198.2L282.4 198.8L282.8 199.2L283.0 199.8L283.1 200.0L283.1 200.5L282.9 201.0L282.5 201.5L281.9 202.0L281.0 202.5ZM87.5 128.3L87.0 128.4L86.5 128.5L86.0 128.4L85.5 128.2L85.2 128.0L85.0 127.8L85.0 127.5L85.1 127.2L85.3 127.0L85.5 126.9L86.0 126.7L86.8 126.7L87.2 126.8L87.6 127.0L87.8 127.1L87.9 127.2L88.0 127.5L88.0 127.8L87.9 128.0ZM189.0 183.6L188.8 183.7L188.5 183.7L188.1 183.5L187.6 183.0L187.4 182.8L187.3 182.2L187.3 181.8L187.3 181.5L187.5 181.2L187.8 180.8L188.0 180.6L188.5 180.3L188.8 180.3L189.1 180.5L189.4 180.8L189.8 181.2L189.9 181.8L189.9 182.2L189.8 182.8L189.4 183.2ZM226.8 192.8L226.2 192.9L226.0 192.9L225.6 192.8L225.2 192.6L224.8 192.2L224.5 192.0L224.2 191.5L224.2 191.2L224.1 190.8L224.2 190.5L224.5 190.0L224.7 189.8L225.1 189.5L225.5 189.3L226.0 189.1L226.2 189.1L226.8 189.2L227.2 189.5L227.5 189.6L227.9 190.0L228.0 190.2L228.2 190.8L228.2 191.2L228.0 191.8L227.5 192.3L227.2 192.5ZM279.5 201.8L279.2 201.8L278.8 201.7L278.4 201.5L278.0 201.2L277.8 201.0L277.6 200.8L277.5 200.2L277.6 199.8L277.9 199.2L278.2 199.0L278.5 198.8L279.0 198.6L279.2 198.6L279.8 198.7L280.4 199.0L280.7 199.2L280.9 199.5L281.1 200.0L281.1 200.5L280.8 201.0L280.6 201.2L280.2 201.5Z" fill="none" stroke="#0505ff" stroke-width="0.70" stroke-linejoin="round"/>
<path d="M279.5 52.3L273.8 52.3L272.0 52.2L270.5 52.1L269.0 51.9L267.8 51.6L266.7 51.2L265.8 50.8L265.0 50.2L264.3 49.5L263.8 48.8L263.5 48.2L263.4 47.8L263.3 47.2L263.2 46.5L263.2 45.0L263.5 44.0L263.7 43.5L263.9 43.0L264.5 42.2L265.0 41.8L265.7 41.2L266.5 40.9L267.5 40.5L268.5 40.2L269.8 40.0L271.2 39.8L273.5 39.7L277.5 39.7L279.8 39.8L281.5 39.9L283.0 40.1L284.2 40.4L285.5 40.9L286.5 41.4L287.3 42.0L287.9 42.8L288.3 43.5L288.7 44.5L288.8 45.5L288.8 47.0L288.5 48.0L288.3 48.5L288.1 49.0L287.5 49.8L286.8 50.4L286.0 50.9L285.0 51.4L284.0 51.7L282.8 51.9L281.2 52.1ZM191.5 53.8L189.5 53.8L185.8 53.8L184.0 53.7L182.5 53.6L181.0 53.4L179.8 53.0L178.8 52.7L177.8 52.1L176.9 51.5L176.2 50.7L175.9 50.2L175.7 49.8L175.4 48.8L175.2 47.5L175.2 46.5L175.3 45.8L175.4 45.0L175.6 44.5L175.8 44.0L176.1 43.5L176.7 42.8L177.2 42.2L177.9 41.8L178.8 41.3L179.8 41.0L180.8 40.7L182.0 40.5L183.5 40.3L185.8 40.2L189.5 40.2L191.5 40.2L193.2 40.4L194.8 40.6L196.0 40.9L197.2 41.3L198.2 41.9L199.1 42.5L199.8 43.3L200.1 43.8L200.3 44.2L200.6 45.2L200.8 46.5L200.8 48.0L200.6 48.8L200.5 49.2L200.1 50.2L199.6 51.0L198.8 51.8L198.0 52.3L197.0 52.8L196.0 53.1L194.8 53.4L193.2 53.6ZM281.0 51.5L279.5 51.6L277.5 51.7L273.8 51.7L271.8 51.6L270.2 51.4L269.0 51.2L268.0 50.9L267.0 50.5L266.1 50.0L265.5 49.5L264.9 48.8L264.5 48.0L264.2 47.0L264.2 45.8L264.3 44.8L264.4 44.2L264.6 43.8L265.0 43.1L265.5 42.5L266.1 42.0L266.8 41.6L267.5 41.2L268.5 40.9L269.5 40.7L270.8 40.5L272.2 40.4L274.2 40.3L278.0 40.3L280.2 40.4L281.8 40.6L283.0 40.8L284.0 41.1L285.0 41.5L285.9 42.0L286.5 42.5L287.1 43.2L287.5 44.0L287.8 45.0L287.8 46.0L287.8 47.0L287.5 48.0L287.1 48.8L286.8 49.3L286.0 49.9L285.2 50.4L284.5 50.8L283.5 51.1L282.2 51.4ZM192.5 53.0L190.5 53.1L187.0 53.1L185.0 53.1L183.2 53.0L182.0 52.8L180.8 52.6L179.8 52.2L178.8 51.8L178.0 51.2L177.2 50.5L176.7 49.8L176.5 49.2L176.4 48.8L176.2 47.8L176.2 46.2L176.4 45.2L176.5 44.8L176.8 44.2L177.2 43.5L177.7 43.0L178.3 42.5L179.2 42.0L180.0 41.7L181.0 41.4L182.0 41.2L183.2 41.0L185.0 40.9L187.0 40.9L190.5 40.9L192.5 41.0L194.0 41.2L195.2 41.4L196.2 41.8L197.2 42.2L198.0 42.8L198.8 43.5L199.3 44.2L199.6 45.0L199.8 46.0L199.8 47.5L199.7 48.5L199.4 49.5L199.0 50.2L198.5 50.8L197.8 51.4L197.0 51.9L196.0 52.3L195.0 52.6L193.8 52.9ZM280.8 50.8L279.5 50.9L277.8 50.9L274.2 50.9L272.2 50.9L271.0 50.7L270.0 50.6L269.0 50.3L268.0 50.0L267.1 49.5L266.5 49.0L266.0 48.4L265.6 47.8L265.4 47.0L265.3 46.0L265.4 45.0L265.6 44.2L265.9 43.8L266.2 43.2L266.8 42.8L267.5 42.3L268.2 41.9L269.0 41.7L270.0 41.4L271.0 41.3L272.2 41.1L274.0 41.1L277.5 41.1L279.5 41.1L280.8 41.2L282.0 41.4L283.0 41.7L284.0 42.0L284.9 42.5L285.5 43.0L286.0 43.6L286.4 44.2L286.6 45.0L286.7 46.0L286.6 47.0L286.4 47.8L286.1 48.2L285.8 48.8L285.2 49.2L284.5 49.8L283.8 50.1L282.8 50.4L281.8 50.6ZM191.5 52.3L189.8 52.3L186.5 52.3L184.8 52.3L183.5 52.2L182.2 52.0L181.2 51.8L180.2 51.4L179.5 51.0L178.8 50.5L178.2 50.0L177.8 49.2L177.5 48.5L177.4 47.5L177.4 46.2L177.6 45.2L177.9 44.5L178.3 44.0L178.8 43.5L179.4 43.0L180.2 42.6L181.0 42.3L182.0 42.0L183.0 41.9L184.0 41.8L185.8 41.7L188.8 41.7L190.8 41.7L192.2 41.8L193.5 42.0L194.8 42.2L195.8 42.6L196.5 43.0L197.2 43.5L197.8 44.0L198.2 44.8L198.5 45.5L198.6 46.5L198.6 47.5L198.5 48.5L198.2 49.2L197.8 50.0L197.2 50.5L196.6 51.0L195.8 51.4L195.0 51.7L194.0 52.0L192.8 52.2ZM280.8 49.8L279.5 49.9L278.2 50.0L273.5 50.0L272.2 49.9L271.2 49.8L270.2 49.6L269.5 49.3L268.7 49.0L268.0 48.5L267.5 48.0L267.2 47.6L267.0 47.0L266.9 46.2L266.9 45.5L267.1 44.8L267.3 44.2L267.7 43.8L268.2 43.3L268.7 43.0L269.2 42.7L270.0 42.5L271.5 42.2L272.8 42.1L274.0 42.0L278.8 42.1L280.0 42.1L280.9 42.2L281.8 42.4L282.5 42.7L283.2 43.0L283.8 43.3L284.3 43.8L284.7 44.2L284.9 44.8L285.1 45.5L285.1 46.2L285.0 47.0L284.8 47.5L284.5 48.0L284.0 48.5L283.7 48.8L283.2 49.0L282.5 49.3L281.8 49.6ZM191.0 51.3L187.0 51.3L184.5 51.2L183.5 51.1L182.5 50.9L181.8 50.7L181.0 50.4L180.3 50.0L179.8 49.5L179.4 49.0L179.2 48.5L179.0 47.8L178.9 46.8L179.0 46.0L179.3 45.2L179.6 44.8L180.0 44.3L180.5 43.9L181.0 43.6L181.8 43.3L182.5 43.1L183.2 42.9L184.2 42.8L185.5 42.7L187.2 42.7L190.0 42.7L191.5 42.8L192.8 42.9L193.8 43.1L194.5 43.4L195.3 43.8L195.8 44.1L196.2 44.5L196.6 45.0L196.9 45.8L197.1 46.5L197.1 47.5L196.9 48.2L196.6 49.0L196.2 49.5L195.8 49.9L195.2 50.3L194.5 50.6L193.8 50.9L193.0 51.0L192.0 51.2ZM277.8 48.5L275.0 48.5L273.5 48.5L272.0 48.3L271.1 48.0L270.6 47.8L270.2 47.5L270.0 47.2L269.8 47.0L269.7 46.8L269.6 46.2L269.6 45.8L269.7 45.2L270.0 44.8L270.2 44.5L270.6 44.2L271.1 44.0L271.8 43.8L272.2 43.7L274.0 43.5L277.8 43.5L279.5 43.6L280.2 43.8L281.0 44.0L281.5 44.3L282.0 44.8L282.2 45.1L282.4 45.5L282.4 46.2L282.3 46.8L282.2 47.0L281.8 47.5L281.4 47.8L281.0 48.0L280.2 48.2L279.0 48.4ZM191.8 49.5L190.8 49.6L189.8 49.7L186.5 49.7L184.8 49.6L183.5 49.3L183.0 49.1L182.5 48.8L182.1 48.5L181.9 48.2L181.7 48.0L181.6 47.5L181.6 46.8L181.7 46.2L181.9 45.8L182.1 45.5L182.4 45.2L182.7 45.0L183.5 44.7L184.5 44.4L186.2 44.3L189.8 44.3L191.2 44.4L192.5 44.7L193.0 44.9L193.5 45.2L193.9 45.5L194.1 45.8L194.3 46.0L194.4 46.5L194.4 47.0L194.4 47.5L194.3 48.0L194.1 48.2L193.6 48.8L193.3 49.0L192.8 49.2Z" fill="none" stroke="#808080" stroke-width="0.70" stroke-linejoin="round"/>
<text x="40.95" y="25.80" font-size="24.56">A</text>
<line x1="188.20" y1="47.10" x2="211.30" y2="63.80" stroke="#2a2a2a" stroke-width="1.00"/>
<line x1="275.40" y1="46.70" x2="247.60" y2="63.80" stroke="#2a2a2a" stroke-width="1.00"/>
<text x="211.21" y="68.60" font-size="11.60" fill="#1ac2ea">Amβp6</text>
<line x1="115.50" y1="131.40" x2="115.80" y2="145.40" stroke="#2a2a2a" stroke-width="1.00"/>
<text x="104.86" y="154.60" font-size="11.60" fill="#b3b3b3">Thrβ</text>
<line x1="172.00" y1="183.40" x2="187.70" y2="181.80" stroke="#2a2a2a" stroke-width="1.00"/>
<text x="132.64" y="188.10" font-size="11.60" fill="#1ac2ea">Amβp5</text>
<line x1="232.20" y1="172.20" x2="226.20" y2="190.60" stroke="#2a2a2a" stroke-width="1.00"/>
<text x="212.67" y="171.60" font-size="11.60" fill="#1ac2ea">Amβp4</text>
<line x1="278.40" y1="199.60" x2="296.50" y2="212.60" stroke="#2a2a2a" stroke-width="1.00"/>
<text x="281.76" y="221.20" font-size="11.60" fill="#1ac2ea">Amβp3</text>
<line x1="253.40" y1="249.70" x2="263.80" y2="248.00" stroke="#2a2a2a" stroke-width="1.00"/>
<text x="263.82" y="248.20" font-size="11.60" fill="#636363">αGlc5</text>
<line x1="346.70" y1="238.50" x2="359.50" y2="250.20" stroke="#2a2a2a" stroke-width="1.00"/>
<text x="330.67" y="238.30" font-size="11.60" fill="#636363">αGlc2</text>
<rect x="36.00" y="0.00" width="337.00" height="1.00" fill="#b4b4b4"/>
<rect x="36.00" y="1.00" width="337.00" height="1.00" fill="#8a8a8a"/>
<rect x="36.00" y="1.00" width="1.00" height="281.00" fill="#1a1a1a"/>
<rect x="372.00" y="1.00" width="1.00" height="281.00" fill="#333"/>
<rect x="373.00" y="1.00" width="0.60" height="281.00" fill="#aaa"/>
<rect x="36.00" y="281.00" width="337.00" height="1.00" fill="#1a1a1a"/>
<rect x="409.00" y="282.00" width="1.00" height="3.00" fill="#222"/>
<text x="401.30" y="295.20" font-size="11.70">4.4</text>
<rect x="428.00" y="282.00" width="1.00" height="2.00" fill="#555"/>
<rect x="446.00" y="282.00" width="1.00" height="2.00" fill="#555"/>
<rect x="465.00" y="282.00" width="1.00" height="2.00" fill="#555"/>
<rect x="484.00" y="282.00" width="1.00" height="3.00" fill="#222"/>
<text x="476.29" y="295.20" font-size="11.70">4.2</text>
<rect x="502.00" y="282.00" width="1.00" height="2.00" fill="#555"/>
<rect x="521.00" y="282.00" width="1.00" height="2.00" fill="#555"/>
<rect x="540.00" y="282.00" width="1.00" height="2.00" fill="#555"/>
<rect x="559.00" y="282.00" width="1.00" height="3.00" fill="#222"/>
<text x="551.08" y="295.20" font-size="11.70">4.0</text>
<rect x="577.00" y="282.00" width="1.00" height="2.00" fill="#555"/>
<rect x="596.00" y="282.00" width="1.00" height="2.00" fill="#555"/>
<rect x="615.00" y="282.00" width="1.00" height="2.00" fill="#555"/>
<rect x="633.00" y="282.00" width="1.00" height="3.00" fill="#222"/>
<text x="625.88" y="295.20" font-size="11.70">3.8</text>
<rect x="652.00" y="282.00" width="1.00" height="2.00" fill="#555"/>
<rect x="671.00" y="282.00" width="1.00" height="2.00" fill="#555"/>
<rect x="690.00" y="282.00" width="1.00" height="2.00" fill="#555"/>
<rect x="708.00" y="282.00" width="1.00" height="3.00" fill="#222"/>
<text x="700.74" y="295.20" font-size="11.70">3.6</text>
<rect x="727.00" y="282.00" width="1.00" height="2.00" fill="#555"/>
<rect x="407.00" y="15.00" width="2.00" height="1.00" fill="#555"/>
<rect x="406.00" y="28.00" width="3.00" height="1.00" fill="#222"/>
<text x="391.50" y="32.40" font-size="11.70">66</text>
<rect x="407.00" y="41.00" width="2.00" height="1.00" fill="#555"/>
<rect x="407.00" y="54.00" width="2.00" height="1.00" fill="#555"/>
<rect x="407.00" y="68.00" width="2.00" height="1.00" fill="#555"/>
<rect x="406.00" y="81.00" width="3.00" height="1.00" fill="#222"/>
<text x="391.49" y="85.60" font-size="11.70">68</text>
<rect x="407.00" y="94.00" width="2.00" height="1.00" fill="#555"/>
<rect x="407.00" y="108.00" width="2.00" height="1.00" fill="#555"/>
<rect x="407.00" y="121.00" width="2.00" height="1.00" fill="#555"/>
<rect x="406.00" y="134.00" width="3.00" height="1.00" fill="#222"/>
<text x="391.44" y="138.80" font-size="11.70">70</text>
<rect x="407.00" y="148.00" width="2.00" height="1.00" fill="#555"/>
<rect x="407.00" y="161.00" width="2.00" height="1.00" fill="#555"/>
<rect x="407.00" y="174.00" width="2.00" height="1.00" fill="#555"/>
<rect x="406.00" y="187.00" width="3.00" height="1.00" fill="#222"/>
<text x="391.57" y="192.00" font-size="11.70">72</text>
<rect x="407.00" y="201.00" width="2.00" height="1.00" fill="#555"/>
<rect x="407.00" y="214.00" width="2.00" height="1.00" fill="#555"/>
<rect x="407.00" y="227.00" width="2.00" height="1.00" fill="#555"/>
<rect x="406.00" y="241.00" width="3.00" height="1.00" fill="#222"/>
<text x="391.33" y="245.20" font-size="11.70">74</text>
<rect x="407.00" y="254.00" width="2.00" height="1.00" fill="#555"/>
<rect x="407.00" y="267.00" width="2.00" height="1.00" fill="#555"/>
<path d="M687.1 1.5L687.3 2.2L687.5 3.0L687.5 4.0L687.4 4.8L687.2 5.5L687.0 5.9L686.8 6.2L686.5 6.6L686.2 6.7L686.0 6.8L685.8 6.8L685.5 6.7L685.2 6.5L685.0 6.2L684.7 5.8L684.5 5.0L684.3 4.2L684.3 3.2L684.5 2.2L684.7 1.5M654.2 14.9L654.0 14.9L653.8 14.8L653.5 14.4L653.2 13.9L653.0 12.8L652.8 11.2L652.9 9.8L653.0 8.8L653.1 8.2L653.2 7.9L653.5 7.4L653.8 7.0L654.0 6.9L654.2 6.9L654.5 7.1L654.8 7.4L655.0 8.0L655.2 9.0L655.4 10.5L655.3 12.0L655.2 12.8L655.1 13.5L654.8 14.4L654.5 14.7ZM562.8 63.3L562.5 63.4L562.2 63.4L562.1 63.2L562.0 63.0L561.8 62.2L561.7 61.2L561.7 60.2L561.7 59.0L561.9 57.8L562.3 55.5L562.5 54.5L563.0 52.9L563.2 52.3L563.8 51.3L564.0 51.0L564.2 50.7L564.5 50.6L564.8 50.6L565.0 50.9L565.2 51.5L565.3 52.0L565.4 53.0L565.3 54.0L565.3 55.2L565.1 56.2L564.7 58.5L564.5 59.5L564.0 61.1L563.8 61.7L563.2 62.7L563.0 63.0ZM409.5 116.9L410.8 116.5L412.2 116.3L413.5 116.3L416.5 116.3L418.2 116.2L419.8 115.9L423.2 114.8L424.8 114.5L426.5 114.2L428.2 114.1L430.2 114.2L432.2 114.5L434.2 115.1L437.9 116.2L439.7 116.8L441.8 117.2L443.8 117.4L446.2 117.5L448.8 117.4L450.8 117.2L455.5 116.7L457.8 116.6L459.8 116.6L462.8 116.8L463.8 116.8L464.2 116.6L464.8 116.3L465.0 116.0L465.2 115.5L465.4 115.0L465.5 114.2L465.7 111.0L466.0 109.5L466.4 108.5L466.8 107.8L467.0 107.6L467.2 107.4L467.5 107.4L467.8 107.4L467.9 107.5L468.2 107.8L468.5 108.1L468.8 108.8L469.1 109.5L469.3 110.5L469.7 113.8L469.9 114.5L470.0 114.9L470.2 115.4L470.5 115.6L470.8 115.7L471.2 115.7L472.0 115.5L472.8 115.2L475.0 114.0L476.2 113.4L477.5 112.8L479.0 112.4L480.2 112.1L481.8 111.9L483.2 111.8L484.8 111.9L486.0 112.1L487.0 112.3L488.0 112.6L489.2 113.1L491.0 113.9L495.0 116.0L496.0 116.4L497.0 116.8L498.0 117.1L499.0 117.3L502.8 117.9L504.5 118.3L506.2 118.8L508.0 119.6L509.0 120.2L509.8 120.6L510.5 121.2L511.2 121.8L511.9 122.5L512.6 123.2L513.2 124.0L513.7 124.8L514.1 125.5L514.6 126.5L515.0 127.5L515.3 128.5L515.6 129.5L515.7 130.5L515.8 131.5L515.9 132.5L515.8 133.8L515.7 135.0L515.4 136.2L515.1 137.5L514.5 138.8L513.9 140.0L513.3 141.0L512.5 142.0L511.5 143.0L510.7 143.8L509.5 144.6L508.5 145.2L507.5 145.6L506.2 146.1L505.0 146.3L503.8 146.5L502.5 146.5L501.0 146.4L499.5 146.1L498.2 145.8L497.2 145.4L496.0 144.9L492.1 142.8L491.0 142.2L489.8 141.7L488.2 141.2L487.0 141.0L485.5 140.8L478.5 140.2L477.2 140.2L476.0 140.2L475.0 140.4L474.0 140.6L473.2 140.9L472.2 141.4L467.8 144.2L466.5 144.8L465.2 145.3L463.8 145.9L462.2 146.2L460.8 146.5L459.0 146.6L458.0 146.6L456.8 146.4L454.5 146.1L452.2 145.5L447.8 143.9L445.5 143.3L443.2 142.8L440.8 142.4L439.0 142.2L437.2 142.2L435.5 142.3L431.2 142.7L429.8 142.8L428.5 142.8L427.0 142.7L425.5 142.4L424.0 142.1L420.8 141.3L419.0 141.1L418.2 141.0L417.2 141.0L413.8 141.4L412.5 141.5L411.0 141.4L410.2 141.2L409.5 141.0M549.2 197.8L548.5 197.8L547.8 197.7L547.2 197.6L546.5 197.3L545.8 196.8L545.2 196.4L544.6 195.8L544.0 195.0L543.5 194.2L543.0 193.2L542.5 192.2L542.2 191.2L541.9 190.2L541.7 189.0L541.5 187.8L541.4 186.5L541.4 185.2L541.5 184.0L541.6 182.8L541.8 181.8L542.1 180.5L542.5 179.5L542.9 178.5L543.4 177.5L543.9 176.8L544.5 175.9L545.2 175.2L545.8 174.8L546.2 174.5L547.0 174.1L547.8 173.9L548.5 173.8L549.2 173.8L550.0 174.0L550.8 174.3L551.2 174.6L552.0 175.2L552.5 175.7L553.0 176.3L553.5 177.0L554.0 177.9L554.4 178.8L554.8 179.8L555.1 180.8L555.4 181.8L555.6 183.0L555.7 184.0L555.8 185.2L555.8 186.2L555.7 187.5L555.6 188.5L555.4 189.8L555.2 190.8L554.9 191.8L554.5 192.8L554.0 193.7L553.5 194.6L553.0 195.3L552.5 195.9L551.9 196.5L551.2 197.0L550.5 197.4L549.8 197.6ZM588.2 206.8L587.5 206.8L586.5 206.7L585.8 206.5L585.0 206.3L584.2 205.9L583.5 205.4L582.8 204.7L582.0 203.9L581.4 203.0L580.8 202.0L580.3 201.0L579.9 200.0L579.6 199.0L579.4 197.8L579.2 196.5L579.1 195.5L579.1 194.2L579.2 193.0L579.4 191.8L579.6 190.8L579.9 189.8L580.3 188.5L580.8 187.5L581.3 186.8L581.8 186.0L582.5 185.2L583.2 184.4L584.0 183.9L584.8 183.5L585.5 183.1L586.5 182.9L587.2 182.8L588.2 182.8L589.0 183.0L589.8 183.2L590.5 183.6L591.2 184.1L592.0 184.7L592.6 185.2L593.2 186.0L593.8 186.8L594.3 187.8L594.8 188.8L595.1 189.8L595.4 190.8L595.6 191.8L595.8 193.0L595.9 194.0L595.9 195.2L595.8 196.2L595.7 197.5L595.5 198.5L595.2 199.5L594.9 200.5L594.5 201.5L593.9 202.5L593.3 203.5L592.8 204.2L592.2 204.8L591.5 205.4L590.8 205.9L590.0 206.3L589.0 206.6ZM642.0 210.5L641.2 210.6L640.2 210.6L639.5 210.4L638.8 210.2L638.0 209.9L637.2 209.4L636.7 209.0L636.0 208.4L635.4 207.8L634.9 207.0L634.4 206.2L633.9 205.2L633.6 204.5L633.3 203.5L633.1 202.5L633.0 201.5L633.0 200.5L633.0 199.5L633.2 198.5L633.4 197.5L633.7 196.5L634.1 195.5L634.5 194.8L635.0 194.0L635.6 193.2L636.2 192.6L636.8 192.1L637.5 191.6L638.2 191.2L639.0 190.9L639.8 190.7L640.5 190.6L641.2 190.6L642.0 190.7L642.8 190.8L643.5 191.1L644.2 191.5L645.0 191.9L645.7 192.5L646.2 193.1L646.8 193.8L647.3 194.5L647.8 195.2L648.1 196.0L648.4 196.8L648.7 197.8L648.9 198.8L649.0 199.8L649.0 200.8L648.9 201.8L648.9 202.5L648.7 203.5L648.4 204.5L648.1 205.2L647.7 206.0L647.2 206.8L646.8 207.5L646.2 208.1L645.6 208.8L645.0 209.3L644.2 209.7L643.5 210.1L642.8 210.4ZM735.5 213.6L735.2 213.6L735.0 213.4L734.9 213.2L734.8 213.0L734.9 212.8L735.0 212.6L735.2 212.4L735.5 212.4L735.8 212.5L735.9 212.8L736.0 213.0L735.9 213.2L735.8 213.5ZM409.5 118.3L410.8 118.0L412.0 117.8L413.2 117.7L416.5 117.9L417.5 117.9L418.2 117.8L419.8 117.4L423.0 116.3L424.8 115.8L426.5 115.5L428.2 115.4L430.0 115.5L431.0 115.6L432.0 115.8L434.0 116.3L437.8 117.7L439.2 118.1L441.2 118.6L443.2 118.8L446.0 118.9L448.8 118.8L450.8 118.6L455.5 118.0L458.0 117.9L460.5 117.9L463.8 118.2L464.8 118.2L465.2 118.0L465.8 117.8L466.0 117.5L466.2 117.2L466.4 116.8L466.5 116.2L466.5 115.8L466.2 112.8L466.3 111.8L466.3 111.0L466.5 110.2L466.8 109.5L467.1 109.0L467.2 108.8L467.5 108.8L467.8 108.8L468.0 109.0L468.3 109.5L468.6 110.2L468.8 111.2L468.8 112.2L468.9 113.5L468.7 115.8L468.8 116.5L468.9 117.0L469.1 117.2L469.3 117.5L469.8 117.8L470.0 117.8L470.5 117.8L471.0 117.7L471.5 117.6L472.5 117.0L474.8 115.6L476.0 114.9L477.2 114.3L478.8 113.8L480.2 113.4L481.5 113.2L482.8 113.1L484.2 113.1L485.5 113.3L486.5 113.5L487.8 113.9L488.8 114.3L490.8 115.2L494.8 117.5L495.8 117.9L496.6 118.2L497.5 118.5L498.5 118.7L502.5 119.3L504.2 119.6L506.0 120.1L507.5 120.8L509.0 121.6L509.8 122.2L510.4 122.8L511.6 124.0L512.2 124.8L512.7 125.5L513.5 127.0L513.8 127.8L514.2 128.8L514.4 129.8L514.6 130.8L514.7 132.5L514.7 133.8L514.5 135.0L514.2 136.2L513.9 137.2L513.5 138.2L512.9 139.2L512.3 140.2L511.5 141.3L510.8 142.0L509.8 142.9L508.8 143.6L507.8 144.1L506.8 144.6L505.8 144.9L504.8 145.1L503.5 145.3L502.2 145.3L501.0 145.2L499.8 144.9L498.5 144.5L497.5 144.1L496.2 143.5L492.5 141.5L491.2 140.9L489.8 140.3L488.2 139.8L487.2 139.6L486.0 139.4L481.8 139.1L477.0 138.6L475.8 138.6L474.8 138.7L473.8 139.0L473.0 139.2L472.2 139.6L471.5 140.1L468.8 142.0L467.2 143.0L466.0 143.6L464.5 144.3L463.2 144.7L462.0 145.0L460.8 145.2L459.2 145.3L458.2 145.3L457.0 145.2L456.0 145.1L454.8 144.8L452.5 144.2L448.0 142.6L446.0 142.0L443.2 141.3L440.8 140.9L439.0 140.8L437.2 140.8L435.5 140.9L431.2 141.4L429.8 141.5L428.5 141.5L427.0 141.4L425.2 141.1L423.8 140.7L420.5 139.8L419.5 139.6L418.8 139.5L418.0 139.4L417.0 139.5L414.0 139.9L412.5 140.1L411.8 140.0L411.0 140.0L410.2 139.8L409.5 139.6M549.8 196.3L549.0 196.4L548.2 196.4L547.5 196.3L547.0 196.1L546.3 195.8L545.8 195.3L545.2 194.9L544.8 194.3L544.2 193.6L543.8 192.8L543.4 192.0L543.0 191.0L542.7 190.0L542.5 189.0L542.3 188.0L542.3 187.0L542.2 186.0L542.2 184.8L542.3 183.8L542.5 182.8L542.7 181.8L543.0 180.8L543.3 179.8L543.7 179.0L544.1 178.2L544.6 177.5L545.2 176.8L545.8 176.3L546.2 175.9L547.0 175.5L547.5 175.3L548.2 175.2L549.0 175.2L549.5 175.3L550.2 175.5L550.8 175.8L551.2 176.1L551.8 176.5L552.2 177.1L552.8 177.7L553.5 179.0L553.9 179.8L554.2 180.8L554.7 182.5L554.8 183.5L554.9 184.5L555.0 186.5L554.8 188.5L554.6 189.5L554.3 190.5L553.8 192.1L553.0 193.5L552.5 194.2L552.0 194.8L551.5 195.3L551.0 195.7L550.5 196.0ZM588.2 205.8L587.5 205.8L586.8 205.8L586.0 205.6L585.2 205.4L584.5 205.0L583.8 204.5L583.0 203.8L582.5 203.2L582.0 202.5L581.4 201.5L580.9 200.5L580.6 199.8L580.3 198.8L580.1 197.8L579.9 196.8L579.8 195.5L579.8 194.2L579.8 193.2L580.0 192.2L580.2 191.2L580.5 190.2L580.8 189.2L581.3 188.2L581.8 187.4L582.2 186.7L582.8 186.0L583.5 185.4L584.2 184.8L585.0 184.4L585.8 184.0L586.5 183.9L587.2 183.8L588.0 183.8L588.8 183.9L589.5 184.1L590.0 184.4L590.8 184.8L591.4 185.2L592.0 185.8L592.6 186.5L593.1 187.2L593.6 188.0L594.0 188.8L594.4 189.8L594.7 190.8L594.9 191.8L595.1 192.8L595.2 194.0L595.2 195.2L595.2 196.2L595.0 197.2L594.8 198.2L594.6 199.2L594.2 200.2L593.8 201.2L593.4 202.0L592.9 202.8L592.2 203.5L591.8 204.0L591.0 204.6L590.5 205.0L589.8 205.4L589.0 205.6ZM642.5 209.3L642.0 209.4L641.2 209.5L640.5 209.5L639.8 209.3L639.0 209.1L638.2 208.8L637.5 208.3L637.0 207.9L636.5 207.5L635.9 206.8L635.4 206.0L635.0 205.3L634.6 204.5L634.4 203.8L634.2 203.0L634.0 202.0L633.9 201.2L633.9 200.2L634.0 199.5L634.1 198.5L634.3 197.5L634.6 196.8L634.9 196.0L635.3 195.2L635.8 194.6L636.3 194.0L636.8 193.5L637.5 192.9L638.1 192.5L638.8 192.2L639.5 191.9L640.2 191.8L641.0 191.7L641.8 191.8L642.5 191.9L643.0 192.1L643.8 192.4L644.2 192.7L645.3 193.5L645.8 194.0L646.2 194.6L646.7 195.2L647.1 196.0L647.4 196.8L647.7 197.5L647.8 198.2L648.0 199.2L648.1 200.0L648.1 201.0L647.9 202.5L647.6 204.0L647.3 204.8L646.9 205.5L646.5 206.2L646.0 206.9L645.5 207.5L645.0 207.9L644.5 208.3L643.8 208.8L643.0 209.1ZM409.5 119.9L410.0 119.7L410.8 119.5L411.5 119.3L412.2 119.3L413.5 119.3L416.5 119.7L417.2 119.7L418.0 119.6L418.8 119.4L419.5 119.2L423.0 117.8L424.8 117.2L426.5 116.8L427.5 116.7L428.5 116.7L430.2 116.8L432.0 117.2L434.0 117.8L437.2 119.1L438.8 119.6L440.5 120.0L442.2 120.3L443.8 120.4L445.5 120.4L448.5 120.3L450.8 120.1L455.8 119.4L457.2 119.2L458.8 119.2L461.0 119.3L465.0 119.9L467.2 120.0L468.8 120.2L469.5 120.3L470.0 120.2L470.5 120.1L471.5 119.6L472.5 119.0L474.5 117.5L475.8 116.7L477.2 115.8L478.5 115.3L480.0 114.8L481.5 114.5L483.0 114.4L484.5 114.5L485.5 114.7L486.5 114.9L487.5 115.2L488.5 115.6L489.5 116.1L490.5 116.7L493.2 118.4L494.2 119.0L495.2 119.5L496.0 119.8L497.0 120.1L498.0 120.3L502.0 120.6L504.0 120.9L505.0 121.2L506.0 121.5L507.0 122.0L508.0 122.6L509.2 123.5L510.2 124.4L511.2 125.5L512.0 126.8L512.6 128.0L513.1 129.5L513.4 131.0L513.5 132.5L513.4 133.8L513.3 134.8L513.0 135.8L512.7 136.8L512.3 137.8L511.8 138.8L511.1 139.8L510.5 140.5L509.8 141.2L509.0 141.8L508.2 142.4L507.2 142.9L506.2 143.3L505.2 143.6L504.2 143.8L503.2 143.9L502.0 143.9L501.0 143.8L500.0 143.6L498.8 143.2L497.8 142.8L496.8 142.3L493.6 140.5L492.0 139.7L490.2 138.9L488.5 138.4L487.5 138.2L486.2 138.0L482.5 137.7L481.0 137.6L477.0 136.9L475.8 136.8L474.8 136.8L474.0 136.9L473.2 137.1L472.5 137.4L471.2 138.2L468.5 140.5L467.2 141.4L466.0 142.1L464.5 142.9L463.2 143.4L462.0 143.7L460.8 143.9L459.2 144.0L458.2 144.0L457.2 143.9L456.2 143.8L455.0 143.5L452.8 142.8L448.5 141.2L446.4 140.5L443.8 139.8L440.8 139.3L438.8 139.2L437.0 139.2L435.5 139.4L431.2 140.0L429.8 140.1L428.5 140.1L426.8 140.0L425.0 139.6L423.5 139.2L420.2 138.0L419.5 137.8L418.8 137.7L418.0 137.6L417.0 137.7L413.8 138.4L412.5 138.5L411.8 138.5L411.0 138.5L410.2 138.3L409.5 138.0M549.2 194.8L548.8 194.9L548.0 194.8L547.5 194.7L547.0 194.5L546.5 194.2L546.0 193.8L545.5 193.3L545.1 192.8L544.8 192.2L544.4 191.5L543.8 190.0L543.6 189.2L543.4 188.2L543.2 186.5L543.2 184.8L543.4 183.0L543.7 182.0L543.9 181.2L544.2 180.5L544.5 179.8L545.0 179.0L545.4 178.5L545.8 178.1L546.2 177.6L546.8 177.3L547.2 177.0L547.8 176.8L548.5 176.7L549.0 176.8L549.5 176.9L550.0 177.0L550.5 177.3L551.0 177.7L551.5 178.1L552.2 179.1L552.7 179.8L553.0 180.5L553.5 181.9L553.9 183.5L554.0 185.2L554.0 187.0L553.7 188.8L553.3 190.2L552.8 191.7L552.4 192.2L552.0 192.9L551.2 193.7L550.8 194.1L550.2 194.4L549.8 194.7ZM589.0 204.5L588.5 204.6L587.8 204.7L587.0 204.7L586.2 204.6L585.5 204.3L584.8 203.9L584.1 203.5L583.5 202.9L583.0 202.4L582.5 201.7L582.0 200.9L581.6 200.0L581.3 199.2L581.0 198.2L580.8 197.2L580.6 196.2L580.5 195.2L580.6 194.2L580.6 193.2L580.8 192.2L581.0 191.2L581.3 190.2L581.7 189.2L582.1 188.5L582.5 187.9L583.0 187.2L583.7 186.5L584.2 186.0L584.8 185.7L585.5 185.3L586.2 185.0L587.0 184.9L587.8 184.9L588.2 184.9L589.0 185.1L589.5 185.3L590.2 185.7L590.8 186.0L591.2 186.4L591.8 187.0L592.2 187.5L592.7 188.2L593.2 189.0L593.5 189.8L593.8 190.5L594.1 191.5L594.4 193.2L594.4 194.2L594.5 195.2L594.3 197.0L594.1 198.0L593.9 198.8L593.6 199.5L593.2 200.4L592.5 201.8L592.0 202.4L591.4 203.0L590.9 203.5L590.2 203.9L589.8 204.2ZM642.0 208.1L641.5 208.1L640.8 208.2L639.8 208.0L639.0 207.8L638.5 207.5L638.0 207.2L637.5 206.8L637.0 206.3L636.6 205.8L636.2 205.2L635.8 204.5L635.5 203.8L635.3 203.0L635.1 202.2L635.0 201.5L635.0 200.0L635.1 199.2L635.2 198.5L635.4 197.8L635.7 197.0L636.0 196.4L636.4 195.8L636.8 195.2L637.2 194.7L637.8 194.2L638.2 193.9L639.2 193.4L639.8 193.2L640.5 193.1L641.2 193.0L641.8 193.1L642.8 193.4L643.8 193.9L644.3 194.2L644.8 194.8L645.2 195.2L645.6 195.8L646.0 196.4L646.3 197.0L646.7 198.2L646.9 199.0L647.0 199.8L647.0 201.2L646.9 202.0L646.8 202.8L646.4 204.0L645.8 205.2L645.0 206.3L644.5 206.8L644.0 207.2L643.0 207.7ZM409.5 121.6L410.0 121.4L410.8 121.1L411.5 121.0L412.2 121.0L413.5 121.1L416.5 121.7L417.2 121.8L418.0 121.7L418.8 121.5L419.5 121.2L422.8 119.5L424.5 118.8L425.5 118.5L426.5 118.3L427.5 118.2L428.5 118.1L429.2 118.2L430.2 118.3L432.0 118.7L433.8 119.3L436.8 120.7L438.0 121.2L439.5 121.7L441.0 121.9L442.5 122.0L444.5 122.1L446.8 122.1L448.5 122.0L450.8 121.7L454.5 121.0L456.0 120.8L457.8 120.6L459.2 120.6L460.8 120.7L462.5 121.0L464.2 121.4L468.2 122.7L469.0 122.8L469.8 122.8L470.2 122.8L470.8 122.6L471.2 122.4L471.8 122.0L472.5 121.4L474.6 119.5L475.8 118.5L477.0 117.7L478.2 117.0L479.8 116.4L481.2 116.0L482.8 115.9L484.2 115.9L485.2 116.1L486.2 116.3L487.2 116.7L488.2 117.1L490.0 118.1L492.5 119.9L493.5 120.6L494.5 121.1L495.5 121.5L496.5 121.8L497.5 122.0L498.5 122.0L501.8 122.1L503.5 122.3L504.5 122.6L505.5 122.9L506.5 123.3L507.2 123.7L508.2 124.4L509.2 125.3L510.0 126.2L510.8 127.5L511.4 128.8L511.8 130.0L512.1 131.2L512.1 132.5L512.1 133.5L512.0 134.5L511.7 135.5L511.5 136.2L511.0 137.2L510.6 138.0L510.1 138.8L509.5 139.5L508.8 140.2L508.1 140.8L507.2 141.3L506.5 141.7L505.5 142.1L504.8 142.3L504.0 142.4L503.0 142.5L502.0 142.5L501.0 142.4L500.0 142.1L499.0 141.8L497.5 141.1L494.3 139.2L492.8 138.5L490.5 137.5L488.8 136.9L487.8 136.7L486.5 136.5L482.8 136.2L480.8 136.0L479.0 135.6L475.5 134.7L474.2 134.5L473.5 134.5L473.0 134.6L472.5 134.8L471.8 135.3L470.8 136.2L468.7 138.2L467.6 139.2L466.4 140.2L465.0 141.1L463.8 141.7L462.2 142.2L460.8 142.5L459.2 142.7L458.2 142.7L457.2 142.6L456.2 142.4L455.2 142.2L454.2 141.9L453.0 141.4L449.0 139.7L447.0 138.9L445.5 138.5L444.0 138.2L441.9 137.8L440.2 137.5L438.5 137.4L437.0 137.4L435.5 137.7L432.5 138.3L431.2 138.5L429.8 138.7L428.5 138.7L426.8 138.5L425.0 138.1L423.2 137.5L420.0 136.0L419.2 135.7L418.5 135.6L417.8 135.5L417.0 135.6L416.2 135.8L414.0 136.6L413.2 136.8L412.5 136.9L411.8 136.9L411.0 136.8L410.2 136.6L409.5 136.3M549.5 192.8L548.8 192.9L548.2 192.9L547.8 192.8L547.0 192.4L546.2 191.7L545.9 191.2L545.5 190.8L545.0 189.6L544.6 188.2L544.4 186.8L544.3 185.2L544.5 183.8L544.8 182.5L545.3 181.2L545.6 180.8L546.0 180.2L546.8 179.4L547.5 178.9L548.0 178.8L548.5 178.7L549.2 178.8L550.0 179.1L550.8 179.7L551.4 180.5L552.0 181.5L552.4 182.5L552.7 183.8L552.8 185.0L552.9 186.2L552.7 187.5L552.5 188.8L552.0 190.0L551.5 191.0L550.9 191.8L550.2 192.4ZM588.8 203.3L588.2 203.4L587.5 203.4L586.8 203.4L586.2 203.3L585.6 203.0L585.0 202.7L584.5 202.3L584.0 201.8L583.5 201.3L583.1 200.8L582.7 200.0L582.3 199.2L581.8 197.8L581.7 197.0L581.5 196.0L581.5 195.2L581.5 194.2L581.6 193.2L581.7 192.5L582.1 191.0L582.4 190.2L582.8 189.5L583.2 188.8L583.6 188.2L584.0 187.8L584.6 187.2L585.2 186.8L585.8 186.5L586.2 186.3L587.0 186.2L587.8 186.2L588.2 186.2L588.8 186.3L589.2 186.5L589.8 186.8L590.2 187.1L590.8 187.5L591.2 188.0L591.8 188.7L592.1 189.2L592.7 190.5L593.2 192.0L593.5 193.5L593.5 194.2L593.5 195.2L593.4 196.8L593.0 198.2L592.8 199.0L592.5 199.8L591.8 200.9L591.3 201.5L590.8 202.0L590.2 202.5L589.8 202.8L589.2 203.1ZM641.2 206.5L640.8 206.5L640.2 206.5L639.8 206.3L639.2 206.1L638.5 205.6L637.8 204.9L637.1 204.0L636.7 203.0L636.4 202.0L636.3 200.8L636.3 199.5L636.6 198.5L637.0 197.4L637.6 196.5L638.3 195.8L638.8 195.4L639.2 195.1L640.0 194.8L640.5 194.7L641.0 194.7L641.5 194.7L642.0 194.8L642.8 195.1L643.5 195.6L644.2 196.3L644.9 197.2L645.4 198.2L645.6 199.2L645.7 200.5L645.7 201.8L645.4 202.8L645.0 203.8L644.5 204.6L643.8 205.4L643.0 206.0L642.2 206.3L641.8 206.5ZM409.5 123.6L410.2 123.1L411.0 122.9L411.8 122.8L412.5 122.9L413.2 123.0L414.0 123.3L416.0 124.3L416.8 124.5L417.5 124.7L418.0 124.6L418.5 124.5L419.2 124.0L422.2 121.8L423.2 121.1L424.2 120.6L425.2 120.2L426.5 119.8L427.5 119.7L428.8 119.7L430.2 119.8L431.2 120.1L432.0 120.3L433.8 121.1L436.5 122.7L437.8 123.3L439.0 123.8L439.8 123.9L440.5 124.0L441.8 124.0L446.8 124.0L448.5 123.9L449.5 123.8L450.8 123.6L455.0 122.6L457.0 122.2L458.2 122.1L459.2 122.1L460.2 122.2L461.2 122.3L462.2 122.5L463.2 122.8L465.0 123.5L466.8 124.5L470.0 126.6L470.5 126.8L471.0 126.9L471.2 126.9L471.5 126.8L471.8 126.6L472.0 126.3L472.5 125.6L473.9 123.2L474.9 121.8L476.0 120.5L477.2 119.4L478.0 118.9L478.8 118.5L479.5 118.1L480.2 117.8L481.0 117.6L482.0 117.4L482.8 117.4L483.8 117.4L484.8 117.5L485.8 117.8L486.8 118.1L487.8 118.6L489.2 119.6L491.8 121.6L492.8 122.4L493.9 123.0L495.0 123.5L496.0 123.7L497.2 123.9L498.5 123.9L501.2 123.7L503.0 123.9L504.0 124.0L504.8 124.2L505.5 124.5L506.2 124.9L507.2 125.5L508.1 126.2L508.8 127.0L509.5 128.0L510.0 129.0L510.4 130.2L510.6 131.2L510.7 132.5L510.7 133.5L510.6 134.2L510.4 135.0L510.1 135.8L509.8 136.5L509.4 137.2L509.0 137.8L508.5 138.4L507.9 139.0L507.3 139.5L506.8 139.9L506.0 140.3L505.2 140.6L504.5 140.8L503.8 140.9L503.0 141.0L502.0 141.0L501.2 140.8L500.5 140.7L499.5 140.3L498.0 139.6L495.2 138.0L494.0 137.4L490.8 136.0L488.8 135.2L487.8 135.0L486.8 134.8L483.2 134.7L482.0 134.6L480.5 134.3L479.2 133.9L478.2 133.5L477.1 133.0L475.8 132.2L473.5 130.8L473.0 130.6L472.5 130.4L472.2 130.4L472.0 130.5L471.8 130.6L471.5 130.9L471.0 131.6L469.4 134.5L468.4 136.0L467.2 137.5L466.0 138.6L465.2 139.2L464.5 139.7L463.8 140.1L463.0 140.4L461.5 140.9L460.5 141.1L459.8 141.2L458.8 141.2L457.8 141.1L456.8 141.0L455.8 140.7L454.8 140.4L453.5 139.9L449.5 137.9L448.5 137.4L447.5 137.1L445.4 136.5L440.8 135.5L439.5 135.3L438.8 135.2L438.0 135.2L436.8 135.3L435.5 135.6L433.0 136.4L431.5 136.8L430.0 137.1L428.5 137.1L427.5 137.1L426.5 136.9L425.5 136.6L424.5 136.2L423.5 135.8L422.6 135.2L419.5 133.1L418.8 132.8L418.2 132.6L417.8 132.6L417.0 132.8L416.2 133.2L414.9 134.0L414.0 134.5L413.2 134.8L412.5 135.0L411.8 135.1L411.0 135.0L410.2 134.8L409.5 134.4M548.8 190.0L548.2 190.0L547.8 189.8L547.2 189.4L547.0 189.0L546.5 188.2L546.3 187.5L546.1 186.8L546.1 186.0L546.1 185.0L546.2 184.2L546.5 183.5L546.8 182.9L547.0 182.5L547.5 182.0L548.0 181.7L548.5 181.6L549.0 181.6L549.5 181.9L550.0 182.2L550.2 182.6L550.6 183.2L550.9 184.0L551.0 184.8L551.1 185.5L551.1 186.2L551.0 187.1L550.8 188.0L550.5 188.6L550.2 189.0L549.8 189.6L549.2 189.9ZM587.8 201.8L587.2 201.8L586.8 201.7L586.2 201.6L585.8 201.3L585.0 200.8L584.2 200.0L583.6 199.0L583.1 197.8L582.8 196.5L582.6 195.0L582.7 193.5L582.9 192.2L583.4 191.0L584.0 189.9L584.8 189.0L585.5 188.4L586.0 188.2L586.5 188.0L587.0 187.9L587.5 187.8L588.0 187.9L588.5 188.0L589.2 188.3L589.8 188.6L590.2 189.0L590.9 189.8L591.5 190.8L592.0 192.0L592.3 193.2L592.4 194.5L592.3 196.0L592.1 197.2L591.6 198.5L591.1 199.5L590.8 200.0L590.3 200.5L589.5 201.2L588.8 201.6L588.2 201.7ZM641.5 204.1L640.8 204.1L640.2 204.0L639.8 203.7L639.2 203.3L638.8 202.8L638.5 202.2L638.3 201.5L638.2 201.0L638.2 200.2L638.3 199.8L638.5 199.0L638.8 198.5L639.2 197.9L639.7 197.5L640.2 197.2L640.8 197.1L641.2 197.1L641.8 197.2L642.2 197.5L642.8 197.9L643.1 198.2L643.4 198.8L643.6 199.2L643.8 200.0L643.8 200.8L643.7 201.5L643.5 202.2L643.2 202.7L642.8 203.2L642.5 203.6L642.0 203.9ZM503.5 139.3L502.8 139.3L501.8 139.2L501.0 139.1L500.0 138.7L498.8 138.1L496.2 136.5L495.0 135.8L489.8 133.5L488.8 133.2L488.0 133.0L487.0 132.9L483.8 132.9L482.8 132.9L482.0 132.8L481.0 132.6L480.2 132.3L479.5 132.0L478.8 131.6L478.2 131.2L477.6 130.8L477.1 130.2L476.7 129.8L476.0 128.8L475.7 127.8L475.6 127.2L475.5 126.5L475.5 126.0L475.6 125.2L476.0 124.0L476.4 123.2L476.6 122.8L477.2 121.9L478.0 121.1L478.8 120.5L479.8 119.9L480.8 119.4L481.8 119.2L482.8 119.1L484.0 119.1L485.0 119.3L485.8 119.6L486.5 119.9L487.2 120.3L488.0 120.9L488.7 121.5L490.8 123.5L491.6 124.2L492.8 125.0L494.0 125.5L495.5 125.9L496.2 126.0L497.0 126.0L498.2 125.9L501.0 125.6L502.0 125.5L502.8 125.6L503.5 125.7L504.2 125.9L505.0 126.1L505.8 126.5L506.5 127.0L507.3 127.8L507.9 128.5L508.5 129.5L508.8 130.5L509.1 131.5L509.1 132.8L509.0 133.8L508.8 134.8L508.4 135.8L507.8 136.8L507.1 137.5L506.2 138.2L505.5 138.7L504.5 139.1ZM460.2 139.5L459.2 139.6L458.0 139.6L457.0 139.4L455.8 139.0L454.8 138.6L453.6 138.0L452.4 137.2L450.0 135.6L449.2 135.2L448.5 134.8L447.8 134.5L447.0 134.3L444.2 133.9L443.0 133.6L441.8 133.2L439.5 132.2L439.0 132.0L438.5 131.9L437.8 131.9L437.0 132.2L436.0 132.6L434.1 133.8L433.0 134.3L431.8 134.8L430.8 135.2L429.5 135.4L428.5 135.4L427.2 135.3L426.2 135.1L425.0 134.6L424.2 134.2L423.7 133.8L423.1 133.2L422.5 132.8L422.1 132.2L421.5 131.5L421.1 130.8L420.9 130.2L420.6 129.5L420.6 129.0L420.5 128.0L420.6 127.5L420.8 126.8L421.3 125.8L421.9 124.8L422.8 123.8L423.6 123.0L424.5 122.4L425.5 121.9L426.5 121.6L427.8 121.3L429.0 121.4L430.0 121.5L431.0 121.8L432.0 122.2L433.0 122.8L433.9 123.5L434.9 124.2L436.8 126.0L437.5 126.5L438.2 126.9L439.0 127.1L439.5 127.1L440.0 127.0L442.5 126.5L443.8 126.3L445.0 126.3L448.0 126.4L448.8 126.4L449.5 126.3L451.0 125.9L453.8 124.8L455.0 124.4L456.2 124.0L457.5 123.8L458.8 123.7L459.8 123.8L461.0 123.9L462.0 124.2L463.2 124.7L464.5 125.4L465.6 126.2L466.6 127.2L467.2 128.2L467.7 129.2L467.8 130.0L467.9 130.5L467.9 131.8L467.7 133.0L467.4 133.8L467.1 134.5L466.3 135.8L465.8 136.5L465.3 137.0L464.2 137.9L463.0 138.7L461.8 139.2L461.0 139.4ZM409.5 126.1L409.8 125.8L410.2 125.4L411.0 125.1L411.8 125.1L412.2 125.2L412.8 125.3L413.2 125.6L413.7 126.0L414.3 126.8L414.6 127.2L414.8 127.8L414.9 128.2L415.0 128.8L414.9 129.5L414.8 130.0L414.6 130.5L414.3 131.0L413.8 131.8L413.2 132.2L412.8 132.5L412.5 132.7L412.0 132.8L411.5 132.9L411.0 132.8L410.2 132.5L409.9 132.2L409.5 131.9M588.2 199.1L587.5 199.2L587.0 199.2L586.5 199.0L586.2 198.8L585.8 198.4L585.2 197.8L584.9 197.2L584.6 196.5L584.4 195.5L584.4 194.8L584.5 193.8L584.7 193.0L585.0 192.2L585.5 191.4L586.0 190.9L586.5 190.6L586.8 190.5L587.2 190.4L587.8 190.4L588.2 190.5L588.8 190.8L589.3 191.2L589.8 191.8L590.1 192.5L590.4 193.2L590.5 194.0L590.6 194.8L590.5 195.8L590.4 196.5L590.1 197.2L589.8 197.8L589.2 198.4L588.8 198.8ZM503.8 137.3L503.0 137.4L502.0 137.3L501.0 137.0L500.2 136.7L499.5 136.2L498.9 135.8L496.8 133.8L496.0 133.3L495.2 132.8L493.5 132.0L492.5 131.5L491.8 131.0L490.8 130.1L490.2 129.8L489.8 129.7L489.0 129.7L488.2 129.9L485.5 130.6L484.5 130.8L483.8 130.9L482.8 130.9L482.0 130.7L481.2 130.5L480.5 130.2L479.8 129.7L479.0 128.9L478.5 128.2L478.1 127.2L478.0 126.5L478.0 125.5L478.2 124.5L478.5 123.8L479.0 123.0L479.4 122.5L480.0 122.0L480.8 121.5L481.5 121.2L482.2 121.1L483.0 121.0L484.0 121.1L484.8 121.3L485.5 121.6L486.2 122.1L487.1 122.8L487.7 123.5L488.2 124.2L488.8 125.2L489.8 127.0L490.2 127.8L490.8 128.3L491.2 128.5L491.8 128.7L494.8 129.1L496.0 129.2L496.5 129.1L497.2 129.0L500.2 127.9L501.0 127.7L501.8 127.6L502.5 127.6L503.2 127.6L504.0 127.8L504.8 128.2L505.3 128.5L505.9 129.0L506.3 129.5L506.8 130.2L507.1 131.0L507.3 131.8L507.3 132.5L507.3 133.2L507.1 134.0L507.0 134.5L506.6 135.2L506.2 135.8L505.7 136.2L505.1 136.8L504.5 137.0ZM429.8 133.3L428.8 133.5L427.8 133.4L426.8 133.2L425.8 132.8L425.0 132.2L424.2 131.5L423.7 130.8L423.3 129.8L423.1 128.8L423.1 127.8L423.3 126.8L423.7 126.0L424.2 125.2L425.0 124.4L425.8 123.9L426.8 123.5L427.8 123.3L428.2 123.2L429.0 123.3L430.0 123.5L431.0 124.0L432.0 124.7L432.8 125.5L433.4 126.5L433.8 127.5L433.9 128.0L434.0 128.5L434.0 129.2L433.8 129.8L433.6 130.2L433.2 131.0L432.5 131.8L431.6 132.5L430.8 133.0ZM460.0 137.8L458.8 137.8L458.0 137.7L457.2 137.6L456.0 137.1L454.8 136.4L453.6 135.5L453.1 135.0L452.5 134.2L451.7 133.0L451.3 132.2L451.2 131.8L451.1 131.0L451.2 130.2L451.6 129.5L452.0 129.0L452.4 128.5L453.6 127.5L454.7 126.8L456.0 126.1L457.2 125.8L458.0 125.6L458.8 125.6L460.0 125.6L461.2 125.9L462.0 126.2L462.5 126.4L463.5 127.1L463.9 127.5L464.4 128.0L464.8 128.5L465.1 129.0L465.3 129.5L465.5 130.2L465.6 130.8L465.7 131.5L465.6 132.2L465.5 132.8L465.3 133.5L465.1 134.0L464.8 134.7L464.4 135.2L464.0 135.8L463.5 136.2L462.5 136.9L461.9 137.2L461.2 137.5L460.8 137.6ZM411.2 129.4L411.0 129.4L410.9 129.2L410.8 129.0L410.9 128.8L411.0 128.6L411.2 128.6L411.4 128.8L411.4 129.0L411.4 129.2ZM483.8 128.3L483.2 128.3L482.8 128.3L482.2 128.2L481.9 128.0L481.5 127.7L481.0 127.2L480.9 127.0L480.7 126.5L480.6 126.0L480.6 125.5L480.8 125.0L480.9 124.8L481.2 124.2L481.5 124.0L481.9 123.8L482.2 123.6L482.8 123.5L483.2 123.5L483.8 123.5L484.2 123.7L484.6 124.0L485.0 124.3L485.3 124.8L485.5 125.2L485.6 125.8L485.7 126.2L485.5 126.8L485.3 127.2L485.1 127.5L484.8 127.8L484.2 128.1ZM428.2 131.0L427.8 131.0L427.2 130.8L426.8 130.6L426.4 130.2L426.2 130.0L425.8 129.5L425.7 129.0L425.6 128.5L425.6 128.0L425.7 127.5L425.9 127.0L426.2 126.5L426.6 126.2L427.0 126.0L427.5 125.8L428.0 125.7L428.5 125.7L429.0 125.8L429.5 126.0L430.0 126.4L430.3 126.8L430.6 127.2L430.8 127.8L430.9 128.2L430.9 128.8L430.7 129.2L430.5 129.8L430.1 130.2L429.8 130.5L429.2 130.8L428.8 131.0ZM460.5 135.5L459.8 135.7L458.8 135.7L458.0 135.6L457.2 135.3L456.5 134.8L455.9 134.2L455.5 133.8L455.1 133.0L454.8 132.2L454.8 131.5L454.9 130.8L455.1 130.2L455.5 129.5L456.0 129.0L456.6 128.5L457.2 128.1L458.0 127.9L459.0 127.7L460.0 127.8L460.8 128.0L461.5 128.4L462.2 129.0L462.8 129.6L463.1 130.2L463.3 131.0L463.4 131.5L463.4 132.0L463.2 132.8L462.9 133.5L462.5 134.2L461.9 134.8L461.2 135.2ZM503.5 134.8L503.0 134.9L502.5 134.9L501.8 134.7L501.5 134.5L501.0 134.1L500.7 133.8L500.5 133.2L500.3 132.8L500.3 132.2L500.4 131.8L500.5 131.5L500.8 131.1L501.0 130.8L501.4 130.5L501.8 130.3L502.2 130.2L502.8 130.1L503.2 130.2L503.8 130.4L504.2 130.7L504.5 131.0L504.8 131.3L504.9 131.8L505.0 132.2L505.1 132.8L504.9 133.5L504.6 134.0L504.4 134.2L504.0 134.6ZM459.8 132.6L459.5 132.6L459.2 132.6L459.0 132.5L458.7 132.2L458.5 132.0L458.5 131.8L458.6 131.5L458.7 131.2L459.0 131.0L459.2 130.9L459.5 130.9L459.8 131.0L460.0 131.2L460.2 131.5L460.3 131.8L460.2 132.0L460.0 132.4Z" fill="none" stroke="#0505ff" stroke-width="0.65" stroke-linejoin="round"/>
<path d="M683.2 33.3L683.0 33.4L682.8 33.3L682.6 33.2L682.4 33.0L682.4 32.8L682.5 32.5L682.8 32.3L683.0 32.2L683.2 32.3L683.5 32.5L683.6 32.8L683.6 33.0L683.4 33.2ZM550.2 54.8L549.5 54.8L548.8 54.8L548.0 54.6L547.2 54.5L546.0 53.9L545.3 53.5L544.8 53.1L544.2 52.6L543.7 52.0L543.2 51.4L542.9 50.8L542.4 49.5L542.2 48.8L542.0 48.0L542.0 47.2L542.0 46.5L542.1 45.8L542.3 45.0L542.8 43.8L543.2 43.0L543.6 42.5L544.2 41.8L544.8 41.3L545.2 40.9L546.0 40.5L546.5 40.2L547.2 39.9L548.0 39.8L548.8 39.6L549.5 39.6L550.2 39.6L551.0 39.8L551.8 39.9L553.0 40.5L553.8 40.9L554.2 41.3L554.8 41.8L555.4 42.5L555.8 43.0L556.2 43.8L556.7 45.0L556.9 45.8L557.0 46.5L557.0 47.2L557.0 48.0L556.8 48.8L556.6 49.5L556.1 50.8L555.8 51.4L555.3 52.0L554.8 52.6L554.2 53.1L553.7 53.5L553.0 53.9L551.8 54.5L551.0 54.6ZM639.2 54.8L638.5 54.8L637.8 54.8L636.5 54.6L635.2 54.2L634.5 53.8L634.0 53.5L633.0 52.8L632.5 52.2L632.1 51.8L631.5 50.8L631.3 50.2L631.1 49.5L631.0 49.0L631.0 48.2L631.1 47.5L631.2 47.0L631.5 46.0L631.8 45.5L632.2 44.8L632.8 44.3L633.2 43.8L634.2 43.1L635.5 42.5L636.8 42.2L637.5 42.0L638.2 42.0L639.0 42.0L639.8 42.1L640.5 42.3L641.2 42.5L642.5 43.1L643.5 43.8L644.0 44.2L644.5 44.8L644.8 45.2L645.3 46.0L645.5 46.5L645.7 47.2L645.8 47.8L645.8 48.5L645.7 49.2L645.6 49.8L645.4 50.5L645.2 51.0L644.8 51.7L644.3 52.2L643.8 52.8L643.2 53.2L642.8 53.6L642.0 54.0L640.8 54.5L640.0 54.6ZM683.5 63.4L683.2 63.5L683.0 63.4L682.8 63.2L682.5 62.8L682.2 61.8L682.1 60.5L682.2 59.0L682.2 58.2L682.4 57.8L682.5 57.3L682.8 56.8L683.0 56.6L683.2 56.5L683.5 56.6L683.8 57.0L684.0 57.5L684.2 58.5L684.3 59.5L684.3 61.0L684.1 62.0L684.0 62.4L683.8 63.0ZM470.0 157.8L469.2 157.9L468.5 157.8L467.8 157.6L467.2 157.4L466.7 157.0L466.3 156.5L465.9 156.0L465.6 155.2L465.5 154.5L465.5 153.8L465.7 153.0L466.0 152.5L466.5 151.8L467.0 151.4L467.5 151.1L468.2 150.8L469.0 150.7L469.8 150.8L470.5 151.0L471.0 151.2L471.6 151.8L472.1 152.2L472.3 152.8L472.6 153.5L472.7 154.2L472.6 155.0L472.4 155.8L472.1 156.2L471.7 156.8L471.2 157.2L470.7 157.5ZM467.5 183.5L467.2 183.4L467.0 183.2L466.8 182.8L466.6 182.2L466.5 181.5L466.6 180.8L466.8 180.2L467.0 179.8L467.2 179.6L467.5 179.5L467.8 179.6L468.0 179.8L468.2 180.2L468.4 180.8L468.5 181.5L468.4 182.2L468.2 182.8L468.0 183.2L467.8 183.4ZM667.5 212.8L666.8 213.0L666.0 213.0L665.5 212.9L664.8 212.6L664.0 212.1L663.5 211.7L663.0 211.1L662.5 210.4L662.0 209.5L661.5 208.5L661.1 207.5L660.7 206.2L660.4 205.0L660.2 203.8L660.0 202.5L659.9 201.0L659.9 198.5L660.0 197.0L660.2 195.8L660.4 194.5L660.7 193.2L661.1 192.0L661.6 190.8L662.1 189.8L662.7 188.8L663.2 188.0L663.8 187.5L664.2 187.1L665.0 186.7L665.8 186.4L666.2 186.4L666.8 186.4L667.5 186.6L668.0 186.9L668.5 187.2L669.0 187.6L669.6 188.2L670.1 189.0L670.5 189.8L670.9 190.5L671.3 191.5L672.0 193.5L672.4 195.8L672.7 198.2L672.7 200.8L672.6 202.0L672.5 203.2L672.1 205.5L671.8 206.5L671.4 207.8L671.1 208.5L670.6 209.5L670.2 210.2L669.7 211.0L669.0 211.8L668.5 212.2L668.0 212.5ZM690.0 268.1L689.0 268.2L688.0 268.1L687.5 268.0L687.0 267.8L686.2 267.4L685.5 266.7L685.1 266.2L684.8 265.8L684.3 264.8L684.0 263.8L683.9 263.2L683.9 262.5L684.0 261.5L684.3 260.5L684.8 259.5L685.5 258.7L686.3 258.0L687.2 257.5L688.2 257.2L689.2 257.2L690.2 257.4L691.1 257.8L691.8 258.2L692.5 258.9L693.1 259.8L693.6 260.8L693.8 261.8L693.9 262.8L693.8 263.8L693.5 264.8L693.1 265.8L692.5 266.5L691.8 267.2L690.9 267.8ZM550.2 53.0L549.8 53.1L549.0 53.1L548.0 52.9L547.0 52.5L546.5 52.2L546.0 51.9L545.2 51.2L544.9 50.8L544.5 50.2L544.2 49.7L544.0 49.1L543.7 48.0L543.7 47.5L543.7 46.8L543.8 46.0L543.9 45.5L544.3 44.5L545.0 43.5L545.8 42.7L546.2 42.3L546.8 42.0L547.8 41.6L548.8 41.4L549.2 41.3L550.0 41.3L551.0 41.5L552.0 41.9L553.0 42.5L553.8 43.2L554.2 43.8L554.5 44.2L555.0 45.2L555.1 45.8L555.3 46.5L555.3 47.0L555.3 47.8L555.1 48.8L554.7 49.8L554.1 50.8L553.5 51.5L553.0 51.9L552.5 52.2L551.5 52.7L551.0 52.9ZM639.5 53.3L638.5 53.4L637.5 53.3L636.5 53.1L635.5 52.7L634.8 52.2L633.9 51.5L633.4 50.8L633.1 50.2L632.9 49.8L632.7 49.0L632.7 48.0L632.8 47.5L632.9 47.0L633.2 46.2L633.8 45.5L634.5 44.8L635.3 44.2L636.2 43.8L636.8 43.7L637.5 43.5L638.8 43.5L640.0 43.6L641.0 44.0L642.0 44.5L642.8 45.2L643.4 46.0L643.7 46.5L643.9 47.0L644.0 47.5L644.1 48.0L644.1 49.0L644.0 49.5L643.8 50.0L643.6 50.5L643.3 51.0L642.9 51.5L642.5 51.9L641.6 52.5L640.5 53.0ZM469.8 156.3L469.5 156.3L469.0 156.4L468.5 156.3L468.2 156.2L467.9 156.0L467.6 155.8L467.4 155.5L467.1 155.0L467.1 154.8L467.0 154.2L467.1 153.8L467.2 153.4L467.5 153.0L467.8 152.7L468.1 152.5L468.5 152.3L468.8 152.2L469.2 152.2L469.8 152.3L470.1 152.5L470.5 152.8L470.7 153.0L471.0 153.5L471.1 153.8L471.2 154.0L471.2 154.5L471.1 155.0L470.9 155.2L470.8 155.6L470.5 155.8L470.2 156.0ZM667.2 212.0L666.8 212.1L666.0 212.2L665.2 212.0L664.8 211.7L664.0 211.2L663.5 210.8L663.0 210.1L662.6 209.5L662.2 208.8L661.7 207.8L661.3 206.8L661.1 205.8L660.8 204.8L660.6 203.5L660.4 202.0L660.3 200.8L660.3 198.2L660.4 197.0L660.6 195.8L660.8 194.5L661.2 193.2L661.5 192.2L661.9 191.2L662.4 190.2L662.8 189.5L663.4 188.8L663.9 188.2L664.5 187.8L665.0 187.5L665.5 187.3L666.2 187.2L667.0 187.3L667.5 187.5L668.0 187.7L668.5 188.1L669.0 188.6L669.5 189.1L669.9 189.8L670.4 190.5L670.7 191.2L671.1 192.2L671.7 194.2L672.1 196.5L672.3 198.8L672.3 201.0L672.1 203.2L671.7 205.2L671.4 206.2L671.1 207.2L670.7 208.2L670.2 209.1L669.8 209.9L669.3 210.5L668.8 211.1L668.2 211.5L667.8 211.8ZM550.2 50.5L549.8 50.6L549.0 50.6L548.2 50.4L547.8 50.1L547.2 49.7L546.8 49.2L546.5 48.7L546.2 48.0L546.2 47.5L546.2 46.8L546.4 46.0L546.6 45.5L547.0 44.9L547.5 44.5L548.0 44.2L548.8 43.9L549.2 43.8L550.0 43.8L550.6 44.0L551.2 44.3L551.8 44.8L552.2 45.2L552.5 45.8L552.8 46.5L552.8 47.0L552.8 47.8L552.6 48.5L552.3 49.0L552.0 49.5L551.5 49.9L551.0 50.2ZM638.5 51.3L637.8 51.2L637.2 51.1L636.8 50.9L636.2 50.5L635.7 50.0L635.3 49.5L635.2 49.0L635.1 48.5L635.1 48.0L635.3 47.5L635.5 47.0L635.9 46.5L636.5 46.1L637.0 45.8L637.5 45.6L638.2 45.5L639.0 45.6L639.5 45.7L640.0 45.9L640.6 46.2L641.1 46.8L641.4 47.2L641.6 47.8L641.7 48.2L641.7 48.8L641.6 49.2L641.3 49.8L640.9 50.2L640.3 50.8L639.8 51.0L639.2 51.2ZM667.2 211.1L666.8 211.2L666.0 211.2L665.5 211.1L665.0 210.9L664.3 210.5L663.8 210.0L663.2 209.4L662.9 208.8L662.4 208.0L662.1 207.2L661.7 206.2L661.4 205.2L661.1 204.0L661.0 203.0L660.8 200.8L660.7 199.5L660.8 198.2L661.0 196.0L661.5 194.0L661.8 193.0L662.2 192.0L662.5 191.2L663.0 190.4L663.5 189.7L664.0 189.2L664.5 188.8L665.0 188.5L665.5 188.3L666.2 188.2L666.8 188.2L667.2 188.3L667.8 188.6L668.2 188.9L668.8 189.3L669.2 189.9L669.7 190.5L670.1 191.2L670.4 192.0L670.8 193.0L671.3 194.8L671.7 196.8L671.8 198.8L671.8 201.0L671.6 203.0L671.2 205.0L670.7 206.8L670.0 208.2L669.6 209.0L669.2 209.5L668.8 210.1L668.2 210.5L667.8 210.8ZM667.0 210.1L666.5 210.2L666.0 210.2L665.5 210.0L665.0 209.8L664.5 209.5L664.0 209.0L663.5 208.4L663.1 207.8L662.7 207.0L662.4 206.2L661.8 204.5L661.4 202.5L661.3 200.5L661.3 198.2L661.5 196.2L661.7 195.2L662.0 194.2L662.3 193.2L662.6 192.5L663.3 191.2L663.8 190.7L664.2 190.1L664.8 189.7L665.2 189.4L665.8 189.3L666.2 189.2L666.8 189.3L667.2 189.4L667.8 189.7L668.2 190.0L669.0 190.8L669.8 192.1L670.4 193.5L670.9 195.2L671.2 197.0L671.3 199.0L671.3 201.0L671.1 202.8L670.8 204.5L670.2 206.2L669.9 207.0L669.5 207.8L669.2 208.2L668.8 208.9L668.0 209.6L667.5 209.9ZM667.0 208.8L666.5 208.9L666.0 208.9L665.2 208.6L664.8 208.3L664.4 208.0L664.0 207.6L663.6 207.0L663.0 205.8L662.4 204.2L662.1 202.5L661.9 200.5L661.9 198.5L662.1 196.8L662.5 195.0L663.0 193.6L663.4 192.8L663.8 192.2L664.1 191.8L664.5 191.3L665.2 190.8L665.8 190.6L666.2 190.5L667.0 190.6L667.8 191.0L668.5 191.7L668.9 192.2L669.2 192.8L669.8 194.0L670.2 195.5L670.6 197.2L670.7 199.0L670.7 200.8L670.5 202.5L670.2 204.0L669.8 205.5L669.2 206.8L668.5 207.7L667.8 208.4ZM666.5 207.3L666.1 207.2L665.8 207.2L665.3 207.0L665.0 206.8L664.7 206.5L664.3 206.0L663.8 205.2L663.4 204.2L663.0 202.9L662.8 201.5L662.7 200.0L662.7 198.5L662.9 197.0L663.2 195.6L663.7 194.5L664.2 193.5L664.8 192.9L665.2 192.5L665.5 192.3L665.8 192.2L666.2 192.1L666.8 192.2L667.0 192.3L667.4 192.5L667.7 192.8L668.2 193.3L668.8 194.2L669.2 195.3L669.7 196.8L669.8 198.0L669.9 199.5L669.9 201.0L669.7 202.2L669.4 203.5L669.0 204.8L668.5 205.7L667.9 206.5L667.2 207.0L667.0 207.1ZM666.8 204.6L666.2 204.7L665.8 204.5L665.2 204.2L664.9 203.8L664.5 203.0L664.2 202.2L664.0 201.2L663.9 200.2L663.9 199.2L664.0 198.2L664.2 197.2L664.5 196.4L664.9 195.8L665.2 195.2L665.8 194.9L666.2 194.7L666.8 194.8L667.1 195.0L667.5 195.4L667.9 196.0L668.2 196.8L668.4 197.5L668.6 198.2L668.7 199.2L668.7 200.0L668.6 201.0L668.5 201.8L668.2 202.6L668.0 203.2L667.5 204.0L667.2 204.2Z" fill="none" stroke="#808080" stroke-width="0.70" stroke-linejoin="round"/>
<text x="414.51" y="26.80" font-size="24.27">B</text>
<line x1="553.20" y1="48.00" x2="576.20" y2="66.90" stroke="#2a2a2a" stroke-width="1.00"/>
<line x1="636.60" y1="49.20" x2="616.50" y2="73.00" stroke="#2a2a2a" stroke-width="1.00"/>
<text x="576.58" y="78.10" font-size="12.00" fill="#1ac2ea">Amβp6</text>
<line x1="460.30" y1="132.20" x2="447.50" y2="165.50" stroke="#2a2a2a" stroke-width="1.00"/>
<text x="443.15" y="174.80" font-size="12.00" fill="#b3b3b3">Thrβ</text>
<line x1="548.90" y1="185.90" x2="533.40" y2="203.30" stroke="#2a2a2a" stroke-width="1.00"/>
<text x="510.22" y="214.70" font-size="12.00" fill="#1ac2ea">Amβp5</text>
<line x1="587.30" y1="196.00" x2="585.40" y2="216.00" stroke="#2a2a2a" stroke-width="1.00"/>
<text x="562.94" y="226.80" font-size="12.00" fill="#1ac2ea">Amβp4</text>
<line x1="639.40" y1="201.40" x2="638.00" y2="217.40" stroke="#2a2a2a" stroke-width="1.00"/>
<text x="617.33" y="229.40" font-size="12.00" fill="#1ac2ea">Amβp3</text>
<text x="676.18" y="201.20" font-size="13.40" fill="#222">#</text>
<rect x="409.00" y="0.00" width="338.00" height="1.00" fill="#b4b4b4"/>
<rect x="409.00" y="1.00" width="338.00" height="1.00" fill="#8a8a8a"/>
<rect x="409.00" y="1.00" width="1.00" height="281.00" fill="#707070"/>
<rect x="410.00" y="1.00" width="0.70" height="281.00" fill="#9a9a9a"/>
<rect x="746.00" y="1.00" width="1.00" height="281.00" fill="#333"/>
<rect x="747.00" y="1.00" width="0.60" height="281.00" fill="#aaa"/>
<rect x="409.00" y="281.00" width="338.00" height="1.00" fill="#1a1a1a"/>
<rect x="36.00" y="597.00" width="1.00" height="3.00" fill="#222"/>
<text x="28.40" y="610.20" font-size="11.70">4.4</text>
<rect x="55.00" y="597.00" width="1.00" height="2.00" fill="#555"/>
<rect x="73.00" y="597.00" width="1.00" height="2.00" fill="#555"/>
<rect x="92.00" y="597.00" width="1.00" height="2.00" fill="#555"/>
<rect x="111.00" y="597.00" width="1.00" height="3.00" fill="#222"/>
<text x="103.39" y="610.20" font-size="11.70">4.2</text>
<rect x="130.00" y="597.00" width="1.00" height="2.00" fill="#555"/>
<rect x="148.00" y="597.00" width="1.00" height="2.00" fill="#555"/>
<rect x="167.00" y="597.00" width="1.00" height="2.00" fill="#555"/>
<rect x="186.00" y="597.00" width="1.00" height="3.00" fill="#222"/>
<text x="178.18" y="610.20" font-size="11.70">4.0</text>
<rect x="204.00" y="597.00" width="1.00" height="2.00" fill="#555"/>
<rect x="223.00" y="597.00" width="1.00" height="2.00" fill="#555"/>
<rect x="242.00" y="597.00" width="1.00" height="2.00" fill="#555"/>
<rect x="261.00" y="597.00" width="1.00" height="3.00" fill="#222"/>
<text x="252.98" y="610.20" font-size="11.70">3.8</text>
<rect x="279.00" y="597.00" width="1.00" height="2.00" fill="#555"/>
<rect x="298.00" y="597.00" width="1.00" height="2.00" fill="#555"/>
<rect x="317.00" y="597.00" width="1.00" height="2.00" fill="#555"/>
<rect x="335.00" y="597.00" width="1.00" height="3.00" fill="#222"/>
<text x="327.84" y="610.20" font-size="11.70">3.6</text>
<rect x="354.00" y="597.00" width="1.00" height="2.00" fill="#555"/>
<rect x="34.00" y="316.00" width="2.00" height="1.00" fill="#555"/>
<rect x="34.00" y="329.00" width="2.00" height="1.00" fill="#555"/>
<rect x="33.00" y="342.00" width="3.00" height="1.00" fill="#222"/>
<text x="18.50" y="346.78" font-size="11.70">66</text>
<rect x="34.00" y="355.00" width="2.00" height="1.00" fill="#555"/>
<rect x="34.00" y="369.00" width="2.00" height="1.00" fill="#555"/>
<rect x="34.00" y="382.00" width="2.00" height="1.00" fill="#555"/>
<rect x="33.00" y="395.00" width="3.00" height="1.00" fill="#222"/>
<text x="18.49" y="400.04" font-size="11.70">68</text>
<rect x="34.00" y="409.00" width="2.00" height="1.00" fill="#555"/>
<rect x="34.00" y="422.00" width="2.00" height="1.00" fill="#555"/>
<rect x="34.00" y="435.00" width="2.00" height="1.00" fill="#555"/>
<rect x="33.00" y="449.00" width="3.00" height="1.00" fill="#222"/>
<text x="18.44" y="453.30" font-size="11.70">70</text>
<rect x="34.00" y="462.00" width="2.00" height="1.00" fill="#555"/>
<rect x="34.00" y="475.00" width="2.00" height="1.00" fill="#555"/>
<rect x="34.00" y="489.00" width="2.00" height="1.00" fill="#555"/>
<rect x="33.00" y="502.00" width="3.00" height="1.00" fill="#222"/>
<text x="18.57" y="506.56" font-size="11.70">72</text>
<rect x="34.00" y="515.00" width="2.00" height="1.00" fill="#555"/>
<rect x="34.00" y="529.00" width="2.00" height="1.00" fill="#555"/>
<rect x="34.00" y="542.00" width="2.00" height="1.00" fill="#555"/>
<rect x="33.00" y="555.00" width="3.00" height="1.00" fill="#222"/>
<text x="18.33" y="559.82" font-size="11.70">74</text>
<rect x="34.00" y="569.00" width="2.00" height="1.00" fill="#555"/>
<rect x="34.00" y="582.00" width="2.00" height="1.00" fill="#555"/>
<path d="M207.2 324.6L207.0 324.5L206.8 324.1L206.6 323.2L206.5 322.5L206.6 321.5L206.8 320.7L207.0 320.3L207.2 320.2L207.5 320.4L207.8 321.0L207.9 321.8L207.9 322.5L207.8 323.2L207.8 323.8L207.5 324.4ZM97.5 356.3L97.0 356.4L96.5 356.4L96.0 356.2L95.5 355.8L95.0 355.2L94.7 354.5L94.4 353.8L94.2 352.8L94.2 351.8L94.3 351.0L94.5 350.2L94.8 349.5L95.2 348.8L95.7 348.2L96.2 347.9L96.8 347.8L97.2 347.8L97.8 348.0L98.2 348.4L98.6 348.8L99.0 349.4L99.2 350.0L99.5 350.8L99.6 351.5L99.6 352.2L99.5 353.0L99.4 353.8L99.1 354.5L98.9 355.0L98.5 355.6L98.0 356.0ZM148.0 464.5L147.5 464.5L147.2 464.5L146.8 464.3L146.2 463.8L145.9 463.2L145.7 462.8L145.7 462.0L145.9 460.0L145.8 459.0L145.7 458.5L145.5 457.8L145.2 457.1L145.0 456.7L144.5 456.1L144.0 455.7L141.5 454.8L140.5 454.3L139.8 453.9L138.5 452.9L137.8 452.3L137.3 451.8L136.6 451.0L136.1 450.2L135.7 449.5L135.2 448.5L134.9 447.5L134.7 446.8L134.6 446.0L134.5 445.0L134.6 443.8L134.8 442.8L135.1 441.5L135.5 440.5L136.0 439.5L136.7 438.5L137.5 437.6L138.2 436.9L139.0 436.2L140.0 435.6L141.0 435.0L142.2 434.5L143.5 434.1L144.8 433.9L146.0 433.7L147.2 433.6L148.5 433.6L149.8 433.7L151.0 433.9L152.0 434.1L153.0 434.5L154.0 434.9L155.0 435.5L155.8 436.1L156.5 436.9L157.2 437.8L157.6 438.5L158.1 439.5L158.6 440.8L158.8 441.8L159.1 443.0L159.1 444.0L159.1 445.0L159.0 446.0L158.9 446.8L158.6 447.8L158.4 448.5L157.9 449.5L157.5 450.2L157.0 451.0L155.9 452.2L154.8 453.2L154.0 453.8L153.2 454.2L150.8 455.5L150.2 455.9L149.8 456.5L149.5 457.1L149.3 457.8L149.1 458.5L149.1 459.0L149.1 459.8L149.5 461.2L149.6 461.8L149.7 462.2L149.6 462.8L149.3 463.5L149.0 464.0L148.5 464.3ZM68.5 455.5L67.8 455.6L67.2 455.7L66.2 455.5L65.8 455.3L65.2 455.1L64.5 454.5L63.9 453.8L63.6 453.2L63.5 452.8L63.3 451.8L63.3 451.2L63.4 450.5L63.6 449.8L63.9 449.0L64.6 447.2L65.9 444.5L66.8 443.0L67.8 441.9L68.8 441.0L69.2 440.6L70.0 440.2L71.2 439.6L72.2 439.3L73.2 439.2L74.2 439.1L75.5 439.2L76.5 439.3L77.5 439.6L80.2 440.6L81.0 440.8L81.5 440.8L82.0 440.7L82.8 440.5L85.2 439.1L86.0 438.7L86.8 438.4L87.5 438.2L88.2 438.0L89.0 437.9L90.0 437.9L90.8 437.9L91.5 438.1L92.8 438.4L94.0 438.9L96.5 440.2L97.2 440.5L97.8 440.5L98.2 440.4L98.8 440.3L100.5 439.5L101.5 439.1L102.5 438.9L103.2 438.9L104.0 439.0L104.8 439.3L105.2 439.5L105.9 440.0L106.4 440.5L106.8 441.0L107.3 441.8L107.6 442.5L107.8 443.5L107.8 444.0L107.8 444.8L107.7 445.8L107.3 446.8L107.0 447.2L106.7 447.8L106.0 448.5L105.2 449.1L104.8 449.3L104.2 449.5L103.2 449.7L102.2 449.7L101.2 449.5L99.0 448.8L98.5 448.8L98.0 448.8L97.5 448.9L97.0 449.2L94.8 450.7L93.5 451.3L92.8 451.6L92.0 451.8L91.0 452.0L90.2 452.1L89.0 452.1L87.8 451.9L86.5 451.6L83.8 450.5L83.0 450.4L82.2 450.4L81.8 450.6L81.2 450.8L78.8 452.2L77.2 452.9L75.8 453.4L72.5 454.2L69.5 455.3ZM183.8 504.3L183.2 504.4L182.5 504.5L181.8 504.5L181.2 504.4L180.8 504.3L180.0 504.1L179.3 503.8L178.8 503.4L178.2 503.0L177.8 502.6L177.3 502.0L176.9 501.5L176.6 501.0L176.3 500.2L175.9 499.0L175.8 497.8L175.8 497.0L175.9 496.2L176.3 495.0L176.6 494.2L176.9 493.8L177.2 493.2L177.8 492.6L178.2 492.2L178.8 491.8L179.8 491.2L180.2 491.0L181.0 490.8L181.8 490.7L182.2 490.7L182.8 490.7L183.5 490.8L184.2 491.1L184.8 491.3L185.8 491.9L186.2 492.3L186.8 492.7L187.5 493.8L187.8 494.2L188.1 495.0L188.5 496.2L188.7 497.5L188.7 498.8L188.6 499.2L188.4 500.0L187.9 501.0L187.4 501.8L187.0 502.2L186.0 503.2L185.0 503.8L184.2 504.1ZM268.0 503.3L267.0 503.3L266.2 503.2L265.8 503.0L264.8 502.7L263.8 502.1L263.2 501.7L262.8 501.2L262.2 500.5L261.7 499.5L261.4 498.5L261.3 497.5L261.4 496.5L261.8 495.5L262.0 495.0L262.3 494.5L263.0 493.8L263.5 493.3L264.0 493.0L265.0 492.5L265.5 492.4L266.2 492.2L267.5 492.1L268.5 492.2L269.2 492.4L269.8 492.6L270.8 493.1L271.2 493.5L271.8 493.9L272.4 494.8L273.0 495.8L273.2 496.8L273.3 497.2L273.3 498.0L273.1 499.0L272.7 500.0L272.4 500.5L272.1 501.0L271.2 501.8L270.2 502.5L269.2 503.0L268.8 503.1ZM196.2 510.8L195.8 510.8L195.0 510.7L194.5 510.6L194.0 510.4L193.5 510.1L193.0 509.8L192.2 509.0L191.9 508.5L191.5 507.8L190.9 506.5L190.6 505.0L190.4 503.2L190.4 502.0L190.5 500.8L190.9 499.8L191.5 498.8L191.9 498.2L192.5 497.6L193.0 497.2L193.5 496.8L194.0 496.6L194.5 496.4L195.0 496.3L195.5 496.2L196.0 496.2L196.5 496.3L197.0 496.4L197.5 496.6L198.0 497.0L198.4 497.2L199.1 498.0L199.8 499.0L200.4 500.2L200.7 501.5L200.9 503.0L200.9 504.5L200.7 505.8L200.3 507.0L199.9 507.8L199.7 508.2L198.9 509.2L198.5 509.7L198.1 510.0L197.2 510.5L196.8 510.7ZM230.8 524.5L229.2 524.4L228.5 524.2L227.7 524.0L227.0 523.7L226.2 523.4L225.7 523.0L225.0 522.5L224.5 522.0L224.1 521.5L223.4 520.5L222.9 519.2L222.2 517.0L221.9 516.2L221.4 515.2L220.8 514.3L220.2 513.8L219.5 513.2L218.7 512.8L216.5 511.7L215.2 510.9L214.2 509.9L213.8 509.3L213.4 508.8L213.1 508.2L212.8 507.5L212.6 507.0L212.5 506.2L212.4 505.0L212.6 503.8L212.8 503.0L213.0 502.5L213.6 501.5L214.0 501.0L214.5 500.5L215.0 500.1L215.5 499.7L216.2 499.3L217.2 498.9L218.2 498.7L219.2 498.7L220.2 498.8L221.2 499.1L222.1 499.5L222.9 500.0L223.5 500.5L224.0 501.0L224.6 501.8L225.0 502.5L225.3 503.2L225.6 504.0L226.1 506.5L226.4 507.5L226.7 508.2L227.0 508.8L227.5 509.5L228.0 510.1L229.0 511.0L229.5 511.4L230.0 511.6L231.0 512.0L233.8 512.9L234.5 513.3L235.2 513.7L236.0 514.2L236.5 514.6L237.1 515.2L237.5 515.8L237.9 516.5L238.1 517.2L238.3 518.0L238.3 518.8L238.2 519.5L238.0 520.2L237.6 521.0L237.1 521.8L236.6 522.2L236.0 522.8L235.2 523.3L234.4 523.8L233.5 524.1L232.5 524.3L231.8 524.4ZM270.0 519.0L269.0 519.0L268.0 518.9L267.0 518.7L266.2 518.3L265.5 517.9L264.8 517.2L264.2 516.6L263.9 516.0L263.6 515.2L263.4 514.5L263.4 513.5L263.6 512.8L263.9 512.0L264.3 511.2L265.0 510.5L265.5 510.0L266.0 509.7L266.8 509.3L267.5 509.0L268.2 508.8L269.0 508.7L269.8 508.7L273.2 509.0L274.2 509.0L275.2 508.9L276.5 508.7L277.5 508.4L278.5 508.1L280.5 507.5L281.5 507.2L282.2 507.2L282.8 507.3L283.2 507.5L283.6 507.8L283.8 508.0L284.1 508.5L284.2 509.0L284.1 509.5L283.9 510.2L283.5 510.9L283.0 511.5L282.2 512.2L281.2 513.1L279.7 514.2L278.3 515.2L276.2 516.5L274.5 517.5L273.2 518.1L272.2 518.5L271.0 518.9ZM249.0 571.5L248.0 571.7L247.0 571.7L246.0 571.6L245.2 571.5L244.5 571.3L243.5 571.0L242.6 570.5L241.8 570.0L241.0 569.4L240.4 568.8L239.8 568.0L239.4 567.2L239.1 566.5L238.9 565.8L238.7 564.8L238.7 564.0L238.8 563.2L239.0 562.5L239.2 561.8L239.6 561.0L240.1 560.2L240.7 559.5L241.3 559.0L242.0 558.4L242.8 558.0L243.5 557.6L244.5 557.2L245.5 557.0L246.5 556.8L247.8 556.6L248.8 556.5L249.8 556.6L250.5 556.6L251.2 556.7L252.0 557.0L252.5 557.2L253.0 557.4L253.5 557.7L254.0 558.2L254.3 558.5L254.7 559.0L254.9 559.5L255.2 560.0L255.4 560.8L255.6 561.5L255.7 562.5L255.8 563.5L255.8 564.2L255.6 565.5L255.2 566.8L254.9 567.5L254.6 568.0L253.8 569.0L253.3 569.5L252.8 569.9L251.8 570.6L250.5 571.1L249.8 571.4ZM356.5 575.3L355.8 575.4L355.0 575.4L354.2 575.4L353.5 575.3L352.8 575.1L352.0 574.9L351.2 574.5L350.5 574.1L349.8 573.6L349.2 573.2L348.8 572.7L348.2 572.1L347.8 571.5L347.4 570.8L346.8 569.5L346.6 568.8L346.4 567.8L346.4 567.0L346.4 566.0L346.4 565.0L346.6 564.0L346.8 562.8L347.1 561.8L347.4 561.0L347.7 560.2L348.0 559.8L348.4 559.2L348.8 558.9L349.2 558.5L349.8 558.1L350.5 557.8L351.0 557.7L351.8 557.5L353.2 557.4L357.5 557.5L358.5 557.6L359.2 557.7L359.8 557.9L360.4 558.2L361.0 558.7L361.4 559.0L361.8 559.5L362.1 560.0L362.5 560.8L362.8 561.5L363.1 562.5L363.4 563.8L363.6 565.0L363.7 566.2L363.6 567.2L363.5 568.2L363.3 569.2L362.9 570.2L362.4 571.2L361.8 572.1L361.0 573.0L360.2 573.6L359.5 574.1L358.5 574.7L357.5 575.0ZM266.2 586.5L265.0 586.4L264.0 586.1L263.0 585.6L262.5 585.3L262.0 584.8L261.3 584.0L261.0 583.5L260.7 583.0L260.4 582.0L260.3 581.0L260.4 580.0L260.7 579.0L261.0 578.5L261.3 578.0L262.0 577.2L262.5 576.7L263.0 576.4L264.0 575.9L265.0 575.6L266.2 575.5L267.5 575.6L268.5 575.9L269.5 576.3L270.0 576.7L270.5 577.1L271.2 577.9L271.8 578.8L272.1 579.8L272.2 580.2L272.3 581.0L272.2 581.8L272.1 582.2L271.8 583.2L271.2 584.1L270.5 584.9L270.0 585.3L269.5 585.7L268.5 586.1L267.5 586.4ZM209.8 579.9L209.5 580.0L209.2 579.7L209.1 579.2L209.0 578.8L209.0 578.2L209.1 577.8L209.2 577.3L209.5 577.0L209.8 577.1L210.0 577.4L210.1 577.8L210.2 578.2L210.2 578.8L210.1 579.2L210.0 579.6ZM276.9 596.5L277.5 595.8L278.2 595.0L279.2 594.4L280.2 593.9L281.5 593.5L282.8 593.2L284.0 593.1L285.5 593.0L287.0 593.1L288.2 593.2L289.5 593.5L290.8 593.9L291.8 594.4L292.8 595.0L293.5 595.8L294.1 596.5M148.2 463.5L148.0 463.6L147.8 463.7L147.5 463.7L147.2 463.6L146.8 463.2L146.5 462.8L146.4 462.2L146.4 461.8L146.7 460.0L146.7 459.2L146.6 458.8L146.1 457.2L145.8 456.5L145.4 455.8L145.0 455.3L144.5 454.9L144.0 454.7L141.8 453.8L141.0 453.4L140.3 453.0L139.0 452.0L138.0 451.0L137.4 450.2L136.9 449.5L136.5 448.8L136.2 448.0L136.0 447.2L135.8 446.5L135.7 445.8L135.6 444.8L135.7 443.8L135.9 442.8L136.2 441.8L136.6 440.8L137.1 439.8L137.8 438.9L138.5 438.0L139.4 437.2L140.2 436.6L141.2 436.0L142.2 435.6L143.2 435.2L144.5 434.9L145.8 434.7L147.0 434.6L148.2 434.5L149.5 434.6L150.5 434.7L151.5 434.9L152.5 435.1L153.2 435.4L154.0 435.8L154.8 436.3L155.5 437.0L156.0 437.5L156.5 438.2L157.0 439.0L157.4 440.0L157.7 441.0L157.9 442.0L158.1 443.0L158.1 444.0L158.1 445.0L158.0 445.8L157.9 446.5L157.6 447.5L157.3 448.2L157.0 449.0L156.5 449.8L156.0 450.5L155.2 451.5L154.2 452.3L153.5 452.9L152.8 453.3L150.8 454.3L150.2 454.6L149.8 455.1L149.5 455.4L149.2 455.8L149.0 456.5L148.6 457.5L148.3 458.5L148.3 459.0L148.3 459.8L148.4 460.2L148.8 461.5L148.9 462.2L148.8 462.8L148.7 463.0L148.5 463.3ZM68.8 454.5L67.8 454.6L67.2 454.6L66.8 454.5L66.0 454.2L65.6 454.0L65.2 453.7L64.7 453.0L64.4 452.2L64.4 451.8L64.3 451.2L64.4 450.2L64.9 448.8L65.8 446.2L66.7 444.5L67.4 443.2L68.3 442.2L68.8 441.8L69.4 441.2L70.5 440.6L71.8 440.1L72.8 439.8L73.8 439.7L74.8 439.7L75.8 439.8L76.5 439.9L77.5 440.2L80.5 441.5L81.2 441.6L81.8 441.6L82.2 441.5L82.8 441.3L85.5 439.6L86.2 439.2L87.0 438.9L88.0 438.7L88.8 438.5L89.8 438.5L90.5 438.5L91.8 438.7L92.5 438.9L93.2 439.2L94.5 439.8L96.5 441.1L97.0 441.3L97.5 441.5L98.0 441.5L98.5 441.3L99.0 441.1L100.8 440.1L101.8 439.8L102.5 439.6L103.0 439.6L103.5 439.7L104.0 439.8L104.5 440.0L105.0 440.2L105.8 440.8L106.2 441.2L106.5 441.8L106.7 442.2L106.9 442.8L107.1 443.8L107.2 444.8L107.0 445.8L106.7 446.5L106.2 447.2L105.5 448.0L104.8 448.5L104.0 448.8L103.5 448.9L103.0 449.0L102.0 448.9L101.0 448.7L99.0 447.9L98.5 447.8L98.0 447.8L97.5 448.0L97.0 448.2L94.8 449.9L94.0 450.4L93.2 450.8L92.5 451.1L91.8 451.3L91.0 451.5L90.0 451.5L88.8 451.5L87.5 451.2L86.2 450.8L84.2 450.0L83.5 449.7L82.8 449.6L82.2 449.6L81.8 449.7L81.2 450.0L78.5 451.7L77.8 452.1L76.8 452.5L75.2 452.9L72.0 453.7ZM183.2 503.8L182.8 503.8L182.0 503.9L181.0 503.7L180.5 503.6L179.8 503.3L179.2 503.0L178.8 502.6L178.2 502.2L177.8 501.8L177.2 500.8L176.7 499.8L176.6 499.2L176.4 498.5L176.4 497.2L176.6 496.0L176.8 495.2L177.0 494.8L177.6 493.8L178.3 493.0L178.8 492.6L179.2 492.2L180.2 491.7L180.8 491.5L181.5 491.4L182.0 491.3L182.8 491.4L183.8 491.6L184.8 492.0L185.2 492.3L185.8 492.6L186.6 493.5L187.2 494.5L187.7 495.5L188.0 496.8L188.0 498.0L188.0 498.8L187.9 499.2L187.5 500.2L187.0 501.2L186.6 501.8L186.1 502.2L185.2 502.9L184.2 503.5ZM268.0 502.0L267.0 502.1L266.2 502.0L265.5 501.7L264.6 501.2L263.9 500.8L263.3 500.0L262.8 499.2L262.6 498.5L262.5 497.8L262.5 497.2L262.6 496.8L262.8 496.0L263.2 495.2L263.8 494.6L264.5 494.0L265.2 493.6L266.2 493.3L267.2 493.2L268.2 493.3L269.2 493.6L270.0 494.0L270.8 494.5L271.4 495.2L271.8 496.0L272.0 496.8L272.1 497.5L272.1 498.0L272.0 498.5L271.8 499.3L271.2 500.1L270.9 500.5L270.5 500.9L269.8 501.4L269.0 501.8ZM195.8 510.3L195.2 510.2L194.8 510.1L194.2 509.9L193.8 509.7L193.0 509.1L192.2 508.2L192.0 507.8L191.6 507.0L191.1 505.8L190.9 504.5L190.8 503.0L190.9 501.8L191.1 500.8L191.5 499.8L192.1 498.8L192.6 498.2L193.0 497.8L193.8 497.3L194.2 497.0L194.8 496.9L195.2 496.8L195.8 496.7L196.2 496.8L196.8 496.9L197.5 497.2L198.2 497.8L198.7 498.2L199.1 498.8L199.7 499.8L200.2 501.0L200.4 502.2L200.5 503.5L200.4 504.8L200.2 506.0L199.7 507.2L199.1 508.2L198.7 508.8L198.2 509.2L197.5 509.8L196.8 510.1L196.2 510.2ZM231.0 523.3L230.2 523.2L229.5 523.2L228.2 522.9L227.5 522.5L227.0 522.3L226.5 521.9L226.0 521.5L225.3 520.8L224.8 519.8L224.3 518.8L223.8 516.8L223.4 515.8L222.8 514.5L222.2 513.7L221.7 513.0L221.0 512.3L220.2 511.7L219.5 511.4L217.5 510.6L216.4 510.0L215.5 509.2L215.0 508.8L214.6 508.2L214.1 507.2L213.8 506.2L213.8 505.2L213.9 504.2L214.2 503.2L214.6 502.5L215.2 501.7L216.0 501.0L216.8 500.6L217.5 500.3L218.2 500.1L219.2 500.1L220.0 500.2L220.8 500.4L221.5 500.7L222.2 501.2L222.8 501.6L223.3 502.2L223.6 502.8L224.0 503.5L224.3 504.8L224.8 507.2L225.0 508.0L225.2 508.5L225.9 509.5L227.5 511.4L228.0 511.9L228.5 512.3L229.0 512.6L229.5 512.9L230.2 513.2L232.8 513.9L234.0 514.5L234.5 514.8L235.1 515.2L235.6 515.8L236.0 516.2L236.3 516.8L236.5 517.2L236.7 517.8L236.7 518.5L236.7 519.2L236.5 519.8L236.3 520.2L236.0 520.8L235.6 521.2L235.1 521.8L234.5 522.2L234.0 522.5L233.2 522.8L232.5 523.0L231.8 523.2ZM270.5 518.0L269.5 518.1L268.8 518.0L268.0 517.9L267.2 517.7L266.5 517.3L266.0 516.9L265.5 516.4L265.0 515.8L264.8 515.1L264.6 514.5L264.6 513.8L264.6 513.2L264.9 512.5L265.2 512.0L265.8 511.3L266.2 510.9L266.8 510.5L267.5 510.2L268.2 510.0L269.0 509.8L270.2 509.8L273.2 509.9L275.2 509.9L276.8 509.8L278.0 509.6L279.0 509.3L280.7 508.8L281.2 508.6L281.8 508.6L282.0 508.7L282.2 508.8L282.4 509.0L282.5 509.2L282.5 509.8L282.3 510.2L282.0 510.7L281.4 511.2L278.8 513.5L277.9 514.2L275.7 515.8L273.8 516.9L272.8 517.4L272.0 517.6L271.2 517.9ZM249.0 570.8L248.2 570.9L247.2 571.0L246.2 570.9L245.5 570.8L244.5 570.5L243.8 570.2L243.0 569.9L242.2 569.4L241.5 568.8L241.0 568.2L240.7 567.8L240.2 567.0L239.9 566.2L239.7 565.5L239.6 564.8L239.6 564.0L239.6 563.2L239.8 562.5L240.1 561.8L240.4 561.2L240.9 560.5L241.3 560.0L241.9 559.5L242.5 559.0L243.2 558.6L243.9 558.2L244.8 557.9L245.5 557.7L246.5 557.5L247.5 557.3L248.5 557.2L249.5 557.2L250.8 557.4L251.5 557.6L252.0 557.7L252.5 558.0L252.9 558.2L253.2 558.5L253.7 559.0L254.0 559.5L254.2 559.9L254.6 561.0L254.9 562.5L255.0 564.0L254.8 565.2L254.6 566.0L254.4 566.5L253.9 567.5L253.2 568.4L252.3 569.2L251.2 570.0L250.2 570.4ZM356.5 574.5L355.2 574.7L354.5 574.7L353.8 574.6L353.0 574.4L352.2 574.2L351.0 573.6L350.0 572.9L349.5 572.4L349.0 571.9L348.5 571.3L348.2 570.8L347.6 569.5L347.4 568.8L347.2 568.0L347.1 567.2L347.1 566.2L347.2 564.5L347.4 563.5L347.6 562.5L347.9 561.8L348.2 561.0L348.8 560.0L349.2 559.5L349.8 559.1L350.2 558.8L350.8 558.6L351.2 558.4L352.0 558.2L353.5 558.1L357.0 558.2L358.0 558.2L358.8 558.4L359.2 558.6L359.8 558.8L360.2 559.1L360.8 559.5L361.2 560.0L361.5 560.5L361.8 561.0L362.1 561.8L362.4 562.8L362.7 564.0L362.9 565.2L362.9 566.2L362.9 567.2L362.8 568.2L362.6 569.0L362.2 570.0L361.8 570.8L361.2 571.6L360.7 572.2L359.9 573.0L359.0 573.6L358.2 574.0L357.2 574.4ZM266.5 585.3L265.5 585.2L264.8 585.0L264.0 584.7L263.2 584.2L262.8 583.7L262.2 583.0L261.9 582.2L261.7 581.8L261.7 581.2L261.7 580.5L261.9 579.8L262.2 579.0L262.8 578.2L263.5 577.6L264.2 577.2L265.0 576.9L266.0 576.7L267.0 576.8L267.8 577.0L268.5 577.2L269.3 577.8L269.8 578.2L270.4 579.0L270.7 579.8L270.9 580.2L270.9 580.8L270.9 581.2L270.9 581.8L270.6 582.5L270.2 583.2L269.8 583.9L269.0 584.5L268.2 584.9L267.5 585.1ZM278.4 596.5L278.8 596.0L279.5 595.4L280.2 594.9L281.2 594.5L282.2 594.2L283.2 594.0L284.2 593.8L285.5 593.8L286.8 593.8L287.8 594.0L288.8 594.2L289.8 594.5L290.8 594.9L291.5 595.4L292.2 596.0L292.6 596.5M147.8 456.8L147.5 457.0L147.2 457.0L147.0 456.7L146.8 456.3L146.1 455.0L145.7 454.5L145.2 454.1L144.5 453.7L142.5 452.9L141.2 452.3L140.0 451.4L139.3 450.8L138.8 450.2L138.3 449.5L137.8 448.8L137.5 448.0L137.2 447.2L136.9 446.2L136.8 445.5L136.8 444.5L136.9 443.8L137.1 442.8L137.4 441.8L137.9 440.8L138.3 440.0L138.9 439.2L139.6 438.5L140.5 437.8L141.3 437.2L142.2 436.8L143.2 436.3L144.2 436.0L145.5 435.8L146.8 435.6L148.2 435.5L149.5 435.5L150.8 435.6L151.5 435.7L152.2 436.0L153.0 436.3L153.8 436.7L154.2 437.0L154.8 437.5L155.3 438.0L155.8 438.6L156.1 439.2L156.4 440.0L156.7 440.8L156.8 441.5L157.0 442.2L157.0 443.2L157.0 444.2L156.9 445.2L156.7 446.5L156.3 447.8L155.7 449.0L155.0 450.0L154.1 451.0L153.0 451.9L152.0 452.5L150.0 453.5L149.2 454.1L148.7 454.8L148.4 455.2L148.0 456.3ZM69.5 453.3L68.5 453.4L68.0 453.3L67.5 453.3L66.8 453.0L66.2 452.6L65.9 452.0L65.7 451.2L65.6 450.2L65.8 449.2L66.3 447.5L66.9 445.8L67.5 444.5L68.2 443.3L69.0 442.5L70.0 441.6L71.0 441.0L72.2 440.6L73.0 440.4L74.0 440.3L75.0 440.3L76.0 440.5L76.8 440.7L77.8 441.0L80.2 442.3L80.8 442.5L81.2 442.7L81.8 442.7L82.2 442.6L82.8 442.4L83.2 442.0L85.2 440.5L86.0 440.1L86.8 439.7L87.5 439.5L88.5 439.2L89.5 439.1L90.5 439.1L91.2 439.2L92.0 439.4L92.8 439.7L93.5 440.1L94.8 440.9L96.8 442.5L97.2 442.8L97.5 442.9L98.0 443.0L98.5 442.8L100.2 441.5L101.2 440.9L101.8 440.7L102.2 440.6L103.0 440.5L103.5 440.6L104.0 440.7L104.5 440.9L105.0 441.3L105.5 441.8L105.8 442.1L106.1 442.8L106.2 443.2L106.4 444.0L106.3 444.8L106.2 445.5L105.9 446.2L105.5 446.8L105.0 447.3L104.5 447.7L103.8 448.0L103.2 448.1L102.8 448.1L102.2 448.1L101.8 448.0L101.2 447.8L100.6 447.5L98.8 446.5L98.2 446.3L98.0 446.3L97.8 446.4L97.2 446.7L95.0 448.9L94.2 449.5L93.5 449.9L92.8 450.3L91.8 450.6L91.0 450.8L90.0 450.9L88.8 450.8L88.0 450.7L87.2 450.5L86.0 450.0L83.5 448.7L82.8 448.5L82.2 448.5L81.8 448.6L81.2 448.9L79.1 450.5L78.2 451.1L77.5 451.5L76.5 451.9L75.5 452.2L74.5 452.4ZM183.0 503.0L182.0 503.1L181.0 502.9L180.0 502.6L179.2 502.1L178.5 501.4L177.9 500.5L177.4 499.5L177.2 498.5L177.1 498.0L177.1 497.2L177.3 496.2L177.6 495.2L178.2 494.2L178.8 493.5L179.2 493.1L179.8 492.8L180.5 492.4L181.5 492.1L182.5 492.1L183.5 492.3L184.0 492.4L184.5 492.7L185.2 493.2L186.0 493.9L186.6 494.8L187.0 495.8L187.2 496.8L187.3 497.8L187.2 498.8L186.9 499.8L186.4 500.8L185.8 501.6L184.9 502.2L184.0 502.8ZM268.0 500.3L267.5 500.3L267.0 500.3L266.5 500.2L265.9 500.0L265.4 499.8L265.0 499.3L264.7 499.0L264.5 498.5L264.4 498.0L264.3 497.5L264.4 497.0L264.6 496.5L264.9 496.0L265.2 495.6L265.8 495.3L266.2 495.0L266.8 494.9L267.5 494.9L268.0 494.9L268.5 495.1L269.0 495.4L269.5 495.8L269.9 496.2L270.1 496.8L270.3 497.2L270.3 498.0L270.1 498.5L269.9 499.0L269.5 499.5L269.0 499.9L268.5 500.1ZM196.5 509.5L196.0 509.6L195.5 509.6L194.8 509.5L194.2 509.3L193.8 509.0L193.0 508.3L192.4 507.5L191.9 506.5L191.5 505.2L191.3 504.0L191.3 502.8L191.5 501.5L191.8 500.5L192.3 499.5L193.0 498.6L193.8 498.0L194.5 497.6L195.0 497.4L195.5 497.4L196.2 497.4L197.0 497.6L197.8 498.1L198.5 498.8L199.0 499.5L199.5 500.5L199.8 501.5L200.0 502.8L200.1 504.0L199.9 505.0L199.7 506.0L199.2 507.1L198.7 508.0L198.0 508.7L197.2 509.2ZM221.2 508.8L220.5 509.0L219.8 509.0L219.0 508.9L218.2 508.6L217.8 508.4L217.1 508.0L216.6 507.5L216.3 507.0L216.0 506.4L215.8 505.8L215.8 505.0L215.9 504.5L216.1 504.0L216.4 503.5L216.8 503.1L217.2 502.6L217.8 502.4L218.5 502.2L219.0 502.1L219.8 502.2L220.5 502.5L220.9 502.8L221.5 503.2L221.8 503.6L222.1 504.2L222.3 505.0L222.4 505.8L222.4 506.8L222.2 507.5L222.0 508.2L221.8 508.5L221.5 508.7ZM271.2 516.5L270.5 516.7L270.0 516.7L269.2 516.7L268.8 516.6L268.2 516.5L267.8 516.3L267.4 516.0L267.0 515.7L266.7 515.2L266.5 514.9L266.3 514.5L266.3 514.0L266.4 513.5L266.5 513.0L266.8 512.6L267.1 512.2L267.7 511.8L268.5 511.4L269.2 511.2L270.2 511.1L272.0 511.2L274.5 511.5L275.5 511.7L275.8 511.8L276.1 512.0L276.3 512.2L276.4 512.5L276.3 513.0L276.0 513.5L275.3 514.2L274.4 515.0L273.2 515.7L272.2 516.2ZM231.8 521.3L231.2 521.4L230.5 521.4L229.8 521.3L229.2 521.2L228.5 520.8L228.0 520.5L227.7 520.2L227.3 519.8L227.0 519.2L226.8 518.8L226.6 518.2L226.5 517.5L226.5 516.5L226.6 515.8L226.8 515.4L227.0 515.1L227.2 515.0L227.5 515.0L228.2 515.0L230.2 515.3L231.4 515.5L232.1 515.8L232.8 516.0L233.4 516.5L233.8 517.0L234.1 517.5L234.2 517.8L234.3 518.2L234.3 519.0L234.1 519.5L233.8 520.1L233.2 520.6L232.5 521.0ZM248.2 570.0L247.5 570.1L246.8 570.1L246.0 570.0L245.2 569.8L244.5 569.6L243.8 569.3L243.0 568.8L242.5 568.4L242.0 567.9L241.5 567.2L241.2 566.8L240.8 566.0L240.7 565.5L240.6 564.8L240.6 564.0L240.7 563.2L240.9 562.5L241.1 562.0L241.4 561.5L241.8 561.0L242.2 560.5L242.8 560.0L243.4 559.5L244.0 559.2L244.8 558.9L245.5 558.6L246.2 558.4L247.2 558.2L248.2 558.1L249.0 558.1L249.8 558.1L250.5 558.2L251.5 558.5L252.2 559.0L252.8 559.5L253.3 560.2L253.7 561.2L253.9 562.5L254.0 563.8L253.9 565.0L253.6 566.0L253.2 566.8L252.8 567.5L252.0 568.3L251.2 568.9L250.2 569.5L249.2 569.8ZM356.2 573.8L355.0 573.9L353.8 573.8L352.5 573.4L351.5 572.9L350.5 572.2L350.0 571.8L349.5 571.2L348.8 570.2L348.6 569.8L348.3 569.0L348.1 568.2L347.9 567.5L347.9 566.8L347.9 566.0L347.9 565.2L348.1 564.2L348.4 562.8L348.9 561.5L349.5 560.6L349.8 560.2L350.2 559.9L350.8 559.6L351.2 559.4L351.8 559.2L352.5 559.1L354.2 559.0L357.0 559.0L357.8 559.1L358.5 559.3L359.0 559.5L359.5 559.7L360.2 560.3L360.6 560.8L360.9 561.2L361.2 561.8L361.5 562.5L361.8 563.5L362.0 564.5L362.1 565.5L362.1 566.5L362.1 567.5L361.9 568.2L361.7 569.0L361.4 569.8L361.0 570.5L360.5 571.2L360.0 571.8L359.2 572.4L358.5 572.9L357.8 573.3L357.0 573.6ZM267.2 583.3L266.8 583.4L266.2 583.5L265.8 583.4L265.2 583.3L264.8 583.0L264.4 582.8L264.2 582.5L263.9 582.0L263.7 581.8L263.6 581.2L263.6 580.8L263.7 580.2L264.0 579.8L264.2 579.4L264.5 579.2L265.0 578.9L265.5 578.7L266.0 578.6L266.8 578.6L267.2 578.7L267.8 578.9L268.2 579.2L268.5 579.6L268.8 580.0L268.9 580.5L269.0 581.0L268.9 581.5L268.8 582.0L268.5 582.4L268.2 582.8L267.8 583.1ZM280.3 596.5L280.8 596.1L281.2 595.8L281.8 595.5L282.5 595.2L283.2 595.0L284.0 594.8L285.5 594.7L287.0 594.8L287.8 595.0L288.5 595.2L289.2 595.5L289.8 595.8L290.2 596.1L290.7 596.5M147.5 453.3L147.2 453.3L146.8 453.2L145.5 452.8L143.8 452.2L142.8 451.7L142.0 451.3L141.2 450.8L140.5 450.2L140.1 449.8L139.5 449.0L139.0 448.2L138.6 447.5L138.3 446.5L138.2 445.8L138.1 444.8L138.2 443.8L138.3 443.0L138.6 442.2L138.9 441.5L139.4 440.8L139.9 440.0L140.5 439.4L141.2 438.8L142.0 438.3L142.8 437.8L143.8 437.4L144.8 437.1L145.8 436.9L147.0 436.7L148.2 436.5L149.5 436.5L150.5 436.6L151.5 436.7L152.2 437.0L152.8 437.2L153.2 437.5L153.8 437.8L154.2 438.2L154.6 438.8L155.0 439.2L155.2 439.8L155.5 440.2L155.7 441.0L155.8 441.8L155.9 442.5L155.9 443.2L155.9 444.2L155.6 445.8L155.2 447.0L154.6 448.2L154.0 449.2L153.1 450.2L152.2 450.9L151.2 451.5L148.0 453.1ZM73.8 451.8L72.2 451.9L70.8 452.0L69.5 451.9L68.8 451.8L68.2 451.6L67.8 451.2L67.4 450.8L67.2 450.0L67.1 449.5L67.1 448.8L67.4 447.2L67.8 445.8L68.4 444.5L69.1 443.5L70.0 442.6L71.0 441.9L72.0 441.4L73.0 441.2L74.2 441.0L75.5 441.1L76.5 441.4L77.4 441.8L78.3 442.2L79.4 443.0L81.2 444.4L81.8 444.7L82.0 444.7L82.2 444.6L82.8 444.2L84.2 442.5L85.0 441.8L85.8 441.2L86.4 440.8L87.5 440.3L88.5 440.0L89.5 439.9L90.5 439.9L91.5 440.1L92.2 440.3L93.0 440.7L93.8 441.1L94.5 441.8L95.2 442.5L95.7 443.2L96.1 444.0L96.2 444.8L96.1 445.5L95.9 446.2L95.3 447.2L94.7 448.0L93.9 448.8L93.0 449.3L92.0 449.8L91.0 450.0L89.8 450.2L88.5 450.0L87.5 449.8L86.5 449.4L85.4 448.8L84.7 448.2L82.8 446.7L82.5 446.6L82.2 446.5L82.0 446.5L81.8 446.7L81.5 446.9L80.0 448.5L79.3 449.2L78.7 449.8L78.0 450.3L77.0 450.9L76.0 451.3L75.0 451.5ZM103.5 446.8L103.0 446.8L102.5 446.8L102.0 446.7L101.5 446.5L101.0 446.2L100.5 445.8L100.2 445.2L100.0 444.8L100.0 444.5L100.0 444.0L100.2 443.5L100.5 443.0L101.0 442.5L101.4 442.2L101.8 442.0L102.2 441.8L102.8 441.8L103.2 441.8L103.8 442.0L104.0 442.1L104.5 442.5L104.7 442.8L105.0 443.2L105.1 443.5L105.2 444.0L105.2 444.5L105.1 445.0L104.9 445.5L104.8 445.8L104.4 446.2L104.0 446.5ZM183.0 502.0L182.5 502.1L182.0 502.1L181.2 502.0L180.5 501.7L179.8 501.3L179.2 500.8L178.6 500.0L178.3 499.2L178.1 498.5L178.0 497.8L178.1 496.8L178.4 495.8L178.8 495.0L179.2 494.4L180.0 493.8L180.8 493.4L181.5 493.1L182.2 493.1L183.0 493.2L183.8 493.4L184.5 493.8L185.0 494.2L185.6 495.0L186.0 495.8L186.3 496.8L186.4 497.8L186.3 498.5L186.1 499.2L185.8 500.0L185.2 500.8L184.5 501.4L183.8 501.8ZM196.5 508.8L195.8 508.9L195.0 508.8L194.2 508.5L193.5 507.9L192.9 507.2L192.4 506.2L192.1 505.2L191.9 504.0L191.9 502.8L192.0 501.8L192.3 500.8L192.7 500.0L193.3 499.2L194.0 498.7L194.8 498.3L195.5 498.1L196.2 498.2L196.8 498.3L197.5 498.7L198.1 499.2L198.6 500.0L199.0 500.8L199.3 501.8L199.5 502.8L199.5 503.8L199.4 504.8L199.2 505.8L198.9 506.5L198.5 507.2L197.8 508.0L197.2 508.4ZM248.8 568.8L248.2 568.9L247.5 569.0L246.8 569.0L246.2 568.9L245.5 568.8L245.0 568.6L244.0 568.1L243.5 567.7L243.0 567.2L242.5 566.5L242.2 566.0L242.0 565.5L241.9 565.0L241.8 564.5L241.8 564.0L241.9 563.5L242.0 563.0L242.2 562.5L242.5 562.0L242.9 561.5L243.7 560.8L244.5 560.2L245.0 560.0L245.8 559.7L247.0 559.3L248.5 559.2L249.5 559.2L250.5 559.5L251.1 559.8L251.7 560.2L252.1 560.8L252.4 561.5L252.7 562.5L252.7 563.5L252.7 564.5L252.5 565.2L252.2 566.0L251.8 566.8L251.1 567.5L250.5 568.0L249.8 568.4ZM356.2 572.8L355.2 572.9L354.5 572.9L354.0 572.8L353.0 572.6L352.0 572.1L351.1 571.5L350.3 570.8L350.0 570.2L349.7 569.8L349.2 568.8L348.9 567.5L348.8 566.2L349.0 564.8L349.1 564.0L349.3 563.2L349.8 562.2L350.1 561.8L350.5 561.2L350.8 561.0L351.2 560.6L352.0 560.3L352.5 560.2L353.2 560.0L355.0 560.0L356.8 560.0L357.5 560.2L358.0 560.3L358.8 560.6L359.2 561.0L359.5 561.2L359.9 561.8L360.2 562.2L360.7 563.2L360.9 564.0L361.1 565.0L361.2 565.8L361.2 566.5L361.1 567.2L361.0 568.0L360.8 568.8L360.6 569.2L360.2 569.9L359.9 570.5L359.4 571.0L358.9 571.5L358.2 572.0L357.7 572.2L357.0 572.6ZM283.4 596.5L284.0 596.3L284.5 596.2L285.5 596.1L286.5 596.2L287.0 596.3L287.6 596.5M148.2 451.3L147.5 451.4L146.8 451.4L146.0 451.4L145.0 451.1L144.0 450.8L143.2 450.5L142.5 450.0L141.8 449.4L141.2 448.9L140.7 448.2L140.2 447.5L139.9 446.8L139.7 446.0L139.6 445.2L139.6 444.5L139.7 443.8L139.9 443.0L140.2 442.2L140.5 441.6L140.9 441.0L141.4 440.5L142.0 439.9L142.6 439.5L143.2 439.1L144.0 438.7L145.0 438.4L146.0 438.1L147.0 437.9L148.2 437.7L149.2 437.7L150.2 437.7L151.0 437.8L152.0 438.1L152.8 438.5L153.5 439.2L153.8 439.5L154.1 440.0L154.5 441.0L154.6 442.0L154.6 443.2L154.4 444.8L154.1 446.0L153.7 447.0L153.1 448.0L152.3 449.0L151.5 449.7L150.5 450.4L149.5 450.9ZM91.2 449.0L90.5 449.2L89.5 449.2L88.5 449.1L87.8 448.9L86.8 448.4L86.0 447.8L85.4 447.2L84.8 446.5L84.6 446.0L84.5 445.2L84.5 444.8L84.7 444.0L85.1 443.2L85.8 442.5L86.3 442.0L87.0 441.5L88.0 441.1L89.0 440.8L90.0 440.8L91.0 440.9L92.0 441.2L92.9 441.8L93.2 442.0L93.7 442.5L94.3 443.2L94.6 444.0L94.8 444.8L94.8 445.2L94.7 445.8L94.4 446.5L93.9 447.2L93.2 448.0L92.8 448.3L92.2 448.6ZM74.0 450.8L72.8 450.9L71.5 450.8L70.5 450.6L69.8 450.3L69.2 449.8L68.9 449.2L68.6 448.5L68.6 447.5L68.7 447.0L68.8 446.2L69.2 445.2L69.8 444.2L70.5 443.4L71.0 443.0L71.4 442.8L72.0 442.5L72.5 442.3L73.5 442.0L74.0 442.0L74.8 442.0L75.8 442.1L76.7 442.5L77.5 442.9L78.3 443.5L78.8 444.0L79.3 444.8L79.6 445.5L79.6 446.2L79.5 447.0L79.1 447.8L78.6 448.5L77.8 449.2L77.0 449.8L76.0 450.3L75.0 450.6ZM182.8 500.5L182.2 500.6L181.6 500.5L181.0 500.3L180.6 500.0L180.2 499.7L179.9 499.2L179.7 498.8L179.5 498.1L179.5 497.5L179.5 497.0L179.8 496.3L180.0 495.8L180.3 495.5L180.8 495.1L181.2 494.8L181.8 494.7L182.2 494.6L182.8 494.7L183.2 494.9L183.8 495.2L184.1 495.5L184.5 496.0L184.8 496.5L184.9 497.0L184.9 497.5L184.9 498.2L184.7 498.8L184.5 499.2L184.1 499.8L183.8 500.0L183.2 500.3ZM196.5 507.8L196.0 507.9L195.2 507.9L194.8 507.8L194.5 507.6L194.0 507.2L193.5 506.7L193.1 506.0L192.8 505.1L192.6 504.2L192.5 503.2L192.6 502.5L192.9 501.5L193.2 500.8L193.7 500.0L194.2 499.6L194.8 499.2L195.5 499.1L196.0 499.1L196.6 499.2L197.1 499.5L197.6 500.0L198.0 500.5L198.4 501.2L198.7 502.0L198.8 502.8L198.8 503.8L198.8 504.5L198.6 505.2L198.3 506.0L198.0 506.5L197.5 507.1L197.0 507.5ZM247.5 567.3L246.8 567.2L246.0 567.1L245.2 566.7L244.6 566.2L244.2 565.8L243.9 565.0L243.8 564.5L243.9 563.8L244.1 563.0L244.5 562.5L245.0 562.0L245.5 561.6L246.3 561.2L247.2 561.0L248.0 560.9L248.8 561.0L249.2 561.1L249.8 561.4L250.2 561.8L250.5 562.2L250.7 562.8L250.8 563.2L250.8 564.0L250.7 564.5L250.5 565.2L250.2 565.7L250.0 566.0L249.5 566.5L249.0 566.8L248.5 567.0L248.0 567.2ZM356.2 571.5L355.5 571.7L354.5 571.7L353.5 571.5L352.8 571.1L352.0 570.7L351.2 569.9L350.8 569.2L350.3 568.2L350.1 567.2L350.0 566.2L350.2 565.0L350.4 564.0L350.8 563.2L351.3 562.5L352.0 561.9L352.8 561.6L353.8 561.3L355.0 561.2L356.2 561.3L357.2 561.6L358.0 561.9L358.7 562.5L359.2 563.2L359.6 564.0L359.8 564.6L359.9 565.2L360.0 566.5L359.9 567.2L359.8 567.8L359.5 568.8L359.2 569.2L358.9 569.8L358.2 570.5L357.8 570.8L357.2 571.1ZM148.2 449.5L147.8 449.6L147.0 449.7L146.2 449.7L145.5 449.6L144.8 449.3L144.2 449.1L143.6 448.8L143.0 448.3L142.5 447.8L142.1 447.2L141.8 446.8L141.6 446.2L141.5 445.8L141.4 445.0L141.4 444.2L141.5 443.8L141.7 443.2L141.9 442.8L142.2 442.2L142.5 441.8L143.3 441.0L144.0 440.5L144.5 440.3L145.2 440.0L146.0 439.7L147.0 439.4L148.0 439.3L149.5 439.1L150.2 439.2L150.8 439.3L151.5 439.6L152.0 439.9L152.5 440.5L152.8 441.0L153.0 441.8L153.1 442.5L153.0 443.5L152.9 444.5L152.5 445.5L152.2 446.2L151.8 447.0L151.2 447.8L150.7 448.2L150.0 448.8L149.2 449.2ZM90.8 447.8L90.2 447.9L89.5 447.9L88.8 447.8L88.2 447.6L87.8 447.3L87.2 447.0L86.8 446.5L86.5 446.0L86.4 445.5L86.3 445.0L86.4 444.5L86.5 444.0L86.8 443.6L87.1 443.2L87.5 442.9L88.0 442.5L88.7 442.2L89.2 442.1L90.0 442.1L90.8 442.2L91.5 442.5L92.0 442.8L92.5 443.2L92.8 443.8L93.0 444.2L93.2 445.0L93.0 445.8L92.8 446.2L92.5 446.8L92.0 447.2L91.5 447.5ZM75.0 449.3L74.2 449.4L73.5 449.5L72.8 449.5L72.2 449.4L71.8 449.2L71.2 448.9L70.8 448.5L70.5 448.0L70.3 447.5L70.3 446.8L70.5 446.0L70.8 445.3L71.1 444.8L71.6 444.2L72.2 443.8L72.9 443.5L73.5 443.3L74.2 443.3L75.0 443.3L75.8 443.5L76.5 443.9L77.0 444.3L77.5 445.0L77.7 445.5L77.8 446.0L77.7 446.8L77.6 447.2L77.3 447.8L76.8 448.2L76.2 448.7L75.7 449.0ZM196.2 506.3L195.8 506.4L195.5 506.4L195.0 506.2L194.7 506.0L194.2 505.6L194.0 505.1L193.8 504.5L193.7 504.0L193.6 503.2L193.7 502.8L193.8 502.2L194.0 501.8L194.4 501.2L194.8 500.9L195.0 500.8L195.5 500.6L195.8 500.6L196.2 500.7L196.8 501.0L197.0 501.2L197.2 501.6L197.5 502.1L197.7 503.0L197.8 503.5L197.7 504.0L197.6 504.5L197.5 505.0L197.2 505.4L197.0 505.8L196.8 506.0ZM355.5 569.8L354.8 569.8L354.2 569.7L353.8 569.6L353.2 569.3L352.8 568.9L352.5 568.5L352.2 568.0L351.9 567.2L351.9 566.8L351.9 566.0L352.0 565.4L352.3 564.8L352.6 564.2L353.0 563.9L353.6 563.5L354.2 563.3L354.8 563.2L355.5 563.3L356.2 563.4L356.8 563.7L357.2 564.1L357.6 564.5L357.9 565.0L358.1 565.8L358.2 566.5L358.1 567.2L357.8 568.0L357.5 568.5L357.2 568.9L356.8 569.3L356.2 569.6ZM148.0 447.3L147.2 447.5L146.5 447.5L145.8 447.3L145.0 446.9L144.5 446.5L144.2 446.1L144.0 445.8L143.9 445.0L143.9 444.2L144.2 443.5L144.5 443.0L145.1 442.5L145.8 442.1L146.5 441.8L147.5 441.6L148.2 441.5L149.0 441.6L149.5 441.7L149.8 441.9L150.0 442.1L150.3 442.5L150.4 442.8L150.5 443.2L150.5 443.8L150.5 444.2L150.3 444.8L150.1 445.2L149.9 445.8L149.5 446.2L149.2 446.5L148.8 446.9Z" fill="none" stroke="#0505ff" stroke-width="0.65" stroke-linejoin="round"/>
<path d="M301.0 318.8L300.5 318.8L300.0 318.6L299.8 318.5L299.5 318.2L299.4 318.0L299.2 317.5L299.3 317.0L299.4 316.8L299.6 316.5L300.0 316.2L300.5 316.1L301.0 316.2L301.2 316.3L301.5 316.5L301.7 316.8L301.9 317.0L302.0 317.5L301.9 318.0L301.7 318.2L301.5 318.5ZM316.5 332.3L315.5 332.4L314.5 332.5L313.5 332.4L312.8 332.2L311.8 331.9L311.0 331.6L310.2 331.1L309.5 330.5L308.8 329.8L308.2 329.0L307.7 328.2L307.3 327.2L307.1 326.5L306.9 325.5L306.9 324.5L307.0 323.5L307.2 322.8L307.5 322.0L307.9 321.2L308.4 320.5L308.8 320.0L309.5 319.4L310.2 318.8L311.0 318.4L312.0 317.9L313.0 317.5L314.2 317.1L315.8 316.8L316.8 316.6L317.8 316.5L318.8 316.5L319.5 316.5L320.5 316.8L321.0 317.1L321.5 317.4L321.9 317.8L322.3 318.2L322.6 318.8L322.9 319.2L323.1 319.8L323.3 320.5L323.5 322.0L323.6 323.8L323.5 324.8L323.4 325.5L323.1 326.8L322.5 328.0L321.9 329.0L321.0 330.0L320.0 330.8L319.0 331.4L317.8 331.9ZM349.5 332.3L348.0 332.2L346.8 332.0L345.2 331.7L344.0 331.2L342.8 330.6L341.6 329.8L340.8 329.0L340.0 328.0L339.5 327.0L339.1 326.0L339.0 325.0L339.1 324.0L339.5 323.0L339.7 322.5L340.1 322.0L340.8 321.2L341.7 320.5L342.6 320.0L343.5 319.6L344.5 319.3L345.5 319.1L346.5 319.0L347.5 318.9L348.8 319.0L349.8 319.2L350.8 319.4L351.8 319.8L352.8 320.2L353.8 320.7L354.5 321.2L355.2 321.8L355.9 322.5L356.4 323.2L356.8 324.0L357.1 324.8L357.3 325.5L357.4 326.2L357.3 327.0L357.1 327.8L356.8 328.5L356.3 329.2L355.8 329.9L355.0 330.5L354.2 331.0L353.5 331.4L352.5 331.7L351.5 332.0L350.5 332.2ZM308.8 349.3L308.0 349.3L307.5 349.2L306.9 349.0L306.2 348.6L305.8 348.1L305.4 347.5L305.2 347.0L305.0 346.2L305.0 345.5L305.2 345.0L305.4 344.5L305.8 343.9L306.2 343.4L306.8 343.1L307.2 342.9L308.0 342.7L308.8 342.7L309.2 342.8L309.8 343.0L310.2 343.3L310.7 343.8L311.1 344.2L311.4 344.8L311.6 345.5L311.6 346.2L311.5 346.8L311.2 347.5L310.9 348.0L310.5 348.5L310.0 348.8L309.5 349.1ZM268.0 365.3L267.2 365.4L266.5 365.3L265.8 365.1L265.2 364.8L264.9 364.5L264.3 363.8L263.8 362.9L263.3 361.8L263.2 360.8L263.1 359.5L263.2 358.5L263.5 357.5L263.9 356.5L264.3 355.8L265.0 355.0L265.8 354.5L266.2 354.3L266.8 354.2L267.5 354.2L268.0 354.3L268.5 354.5L269.2 354.9L269.9 355.5L270.6 356.2L271.2 357.2L271.7 358.2L271.9 359.2L271.9 360.0L271.7 361.0L271.3 362.0L270.8 363.0L270.2 363.8L269.5 364.5L268.8 365.0ZM278.2 361.8L277.8 361.8L277.3 361.8L277.0 361.6L276.5 361.3L276.2 361.0L275.9 360.5L275.7 360.0L275.6 359.5L275.6 359.0L275.7 358.5L276.1 357.8L276.5 357.4L277.0 357.0L277.5 356.8L277.8 356.8L278.2 356.8L278.5 356.9L279.0 357.2L279.2 357.5L279.5 358.0L279.7 358.5L279.8 359.0L279.8 359.5L279.7 360.0L279.5 360.8L279.2 361.1L279.0 361.4L278.8 361.5ZM143.2 391.6L143.0 391.7L142.8 391.6L142.5 391.3L142.3 390.5L142.2 390.0L142.2 389.0L142.5 388.2L142.8 387.8L143.0 387.7L143.2 387.8L143.5 388.1L143.7 388.8L143.8 389.2L143.8 390.0L143.7 390.5L143.5 391.3ZM96.5 490.6L96.2 490.6L96.0 490.6L95.8 490.5L95.5 490.3L95.2 490.1L95.0 489.8L94.7 489.2L94.4 488.5L94.3 487.5L94.2 486.8L94.2 486.0L94.3 485.2L94.5 484.5L94.8 483.8L95.1 483.2L95.5 482.9L95.8 482.7L96.0 482.6L96.2 482.6L96.7 482.8L97.0 482.9L97.2 483.2L97.5 483.6L97.8 484.1L98.0 484.8L98.1 485.5L98.2 486.2L98.2 487.0L98.1 487.8L98.0 488.5L97.8 489.1L97.5 489.6L97.2 490.0L97.0 490.3L96.8 490.4ZM297.5 523.3L296.8 523.3L296.2 523.3L295.5 523.1L295.0 522.9L294.5 522.6L293.9 522.2L293.5 521.9L293.0 521.2L292.6 520.8L292.2 520.0L291.8 519.2L291.6 518.5L291.5 517.8L291.4 517.0L291.4 515.5L291.7 512.8L291.9 509.5L292.1 508.0L292.4 506.8L292.6 505.8L292.9 505.0L293.3 504.0L293.9 503.0L294.5 502.1L295.2 501.2L296.0 500.6L296.8 500.1L297.5 499.8L298.2 499.6L299.2 499.6L300.0 499.7L300.8 499.9L301.2 500.1L302.0 500.6L302.8 501.2L303.2 501.8L303.8 502.5L304.4 503.5L304.9 504.5L305.2 505.2L305.6 506.5L305.8 507.5L305.9 508.5L306.0 509.8L306.1 510.8L306.0 511.8L305.9 513.0L305.7 514.0L305.2 515.8L304.9 516.5L304.4 517.5L304.0 518.2L303.5 518.9L303.0 519.6L302.2 520.3L301.5 521.0L300.5 521.8L299.5 522.5L298.8 522.9L298.0 523.2ZM99.2 543.3L99.0 543.3L98.8 543.1L98.6 542.8L98.6 542.5L98.8 542.2L99.0 542.1L99.2 542.1L99.6 542.2L99.8 542.5L99.8 542.8L99.7 543.0L99.5 543.2ZM372.5 582.7L372.2 583.3L372.0 583.7L371.8 583.9L371.5 584.0L371.2 583.9L371.0 583.7L370.8 583.3L370.5 582.8L370.2 581.8L370.1 580.5L370.0 579.0L370.1 577.5L370.2 576.2L370.5 575.2L370.8 574.7L371.0 574.3L371.2 574.1L371.5 574.0L371.8 574.1L372.0 574.3L372.2 574.7L372.5 575.3M315.8 331.3L314.8 331.3L314.0 331.3L313.2 331.1L312.5 330.9L311.8 330.6L311.0 330.2L310.2 329.6L309.8 329.1L309.2 328.5L308.8 327.8L308.4 327.0L308.2 326.2L308.1 325.5L308.0 324.8L308.1 324.0L308.3 323.2L308.5 322.6L308.8 322.0L309.2 321.3L309.7 320.8L310.2 320.2L310.8 319.8L311.2 319.4L312.0 319.0L313.0 318.6L314.0 318.3L315.2 317.9L316.5 317.6L317.5 317.4L318.2 317.4L319.0 317.4L319.5 317.5L320.0 317.7L320.5 318.0L321.2 318.5L321.8 319.2L322.0 319.8L322.2 320.2L322.5 321.5L322.5 322.8L322.5 324.2L322.2 325.8L321.9 326.8L321.4 327.8L320.6 328.8L319.9 329.5L319.0 330.1L318.0 330.7L317.0 331.0ZM351.0 330.8L350.0 330.9L348.8 331.0L347.5 330.9L346.5 330.7L345.2 330.3L344.2 329.9L343.2 329.3L342.5 328.6L341.9 328.0L341.4 327.2L341.0 326.5L340.9 326.0L340.8 325.5L340.8 325.0L340.8 324.5L341.0 323.8L341.4 323.0L342.0 322.2L342.5 321.8L343.0 321.4L343.8 321.0L344.5 320.7L345.2 320.5L346.0 320.3L346.8 320.2L347.8 320.2L348.5 320.3L349.5 320.4L351.0 320.8L351.8 321.1L352.5 321.5L353.2 322.0L353.8 322.5L354.3 323.0L354.7 323.5L355.0 324.0L355.4 324.8L355.5 325.2L355.6 326.0L355.5 326.8L355.4 327.2L355.1 328.0L354.8 328.5L354.3 329.0L353.8 329.5L353.2 329.9L352.5 330.3L351.8 330.5ZM268.0 364.0L267.5 364.1L266.8 364.1L266.0 363.9L265.5 363.5L265.0 363.0L264.5 362.2L264.2 361.5L264.1 360.8L264.0 360.0L264.1 359.0L264.3 358.0L264.6 357.2L265.0 356.6L265.5 356.1L266.0 355.7L266.8 355.5L267.5 355.5L268.0 355.6L268.5 355.8L269.1 356.2L269.5 356.8L270.0 357.5L270.3 358.2L270.5 359.0L270.6 359.8L270.5 360.5L270.3 361.2L270.0 362.0L269.6 362.8L269.1 363.2L268.5 363.8ZM297.5 522.5L296.8 522.6L296.0 522.5L295.2 522.3L294.5 521.9L293.8 521.3L293.3 520.8L292.8 520.0L292.4 519.2L292.3 518.8L292.1 518.0L292.0 517.2L292.0 516.5L292.2 513.0L292.4 509.8L292.7 507.8L293.1 506.0L293.7 504.5L294.1 503.8L294.6 503.0L295.0 502.4L295.5 501.9L296.0 501.4L296.8 500.9L297.2 500.7L298.0 500.4L298.5 500.3L299.2 500.3L300.0 500.4L300.8 500.7L301.5 501.1L302.0 501.4L302.5 501.9L303.1 502.5L303.6 503.2L304.1 504.0L304.4 504.8L304.8 505.8L305.1 506.8L305.3 507.8L305.5 508.8L305.6 509.8L305.6 510.8L305.5 511.8L305.3 513.5L305.1 514.2L304.8 515.2L304.4 516.2L304.1 517.0L303.2 518.3L302.7 519.0L302.0 519.7L300.5 520.9L299.5 521.6L298.8 522.1L298.0 522.4ZM316.5 329.8L315.8 329.9L315.0 329.9L314.2 329.9L313.8 329.8L313.0 329.6L312.5 329.4L311.8 329.0L311.2 328.6L310.8 328.1L310.3 327.5L310.0 327.0L309.8 326.5L309.6 326.0L309.5 325.2L309.5 324.5L309.6 324.0L309.9 323.0L310.1 322.5L310.5 321.9L310.9 321.5L311.4 321.0L312.0 320.6L312.5 320.3L313.2 319.9L314.0 319.6L316.0 319.0L317.5 318.7L318.2 318.7L318.8 318.7L319.5 319.0L320.0 319.3L320.5 319.8L320.9 320.5L321.1 321.2L321.2 322.2L321.2 323.5L321.0 324.8L320.8 325.8L320.5 326.5L320.0 327.2L319.5 328.0L318.9 328.5L318.2 329.0L317.5 329.4ZM348.8 329.0L348.0 329.0L347.2 328.9L346.8 328.7L346.0 328.4L345.5 328.2L344.9 327.8L344.3 327.2L344.0 326.8L343.7 326.2L343.6 325.8L343.5 325.2L343.6 324.8L343.7 324.2L344.1 323.8L344.5 323.3L344.9 323.0L345.8 322.5L346.8 322.3L347.8 322.2L348.5 322.2L349.0 322.3L350.0 322.6L351.0 323.1L351.5 323.4L351.9 323.8L352.5 324.5L352.8 325.2L352.9 326.0L352.7 326.8L352.5 327.2L352.3 327.5L352.0 327.8L351.5 328.2L350.8 328.6L349.8 328.9ZM267.5 362.3L267.0 362.3L266.8 362.3L266.2 362.0L266.0 361.8L265.8 361.5L265.5 361.0L265.3 360.2L265.3 359.8L265.4 359.2L265.5 358.8L265.7 358.2L266.0 357.8L266.2 357.6L266.5 357.4L267.0 357.3L267.2 357.3L267.8 357.4L268.3 357.8L268.5 358.0L268.8 358.5L269.0 359.0L269.0 359.5L269.1 360.0L269.0 360.5L268.7 361.2L268.5 361.6L268.2 361.9L268.0 362.1ZM296.8 521.8L296.0 521.7L295.5 521.6L295.0 521.3L294.5 521.0L294.0 520.5L293.5 519.9L293.2 519.2L292.9 518.5L292.7 517.5L292.6 516.2L292.8 513.5L292.9 510.5L293.0 508.8L293.4 507.0L293.9 505.5L294.5 504.2L295.0 503.5L295.4 503.0L295.8 502.6L296.2 502.1L296.8 501.8L297.2 501.5L297.8 501.3L298.2 501.2L298.8 501.1L299.5 501.1L300.2 501.3L300.8 501.5L301.5 501.9L302.0 502.3L302.5 502.8L303.0 503.5L303.5 504.2L303.9 505.0L304.3 506.0L304.6 506.8L304.9 508.5L305.0 509.5L305.1 510.5L305.0 511.5L304.9 512.5L304.6 514.2L304.0 515.8L303.4 517.0L303.0 517.6L302.5 518.2L302.0 518.8L301.2 519.4L300.2 520.2L299.2 520.8L298.0 521.5L297.2 521.7ZM316.0 327.8L315.5 327.9L315.0 327.9L314.2 327.8L313.8 327.7L313.4 327.5L312.7 327.0L312.2 326.5L312.1 326.2L311.8 325.5L311.7 324.8L311.8 324.0L312.1 323.2L312.5 322.8L313.0 322.2L313.8 321.8L315.0 321.2L316.0 321.0L317.0 320.9L317.8 320.9L318.2 321.1L318.5 321.3L318.8 321.8L319.0 322.2L319.1 322.8L319.1 323.5L319.1 324.2L318.9 324.8L318.8 325.3L318.5 325.9L318.2 326.3L317.8 326.8L317.5 327.1L317.0 327.4L316.5 327.7ZM297.8 520.5L297.0 520.7L296.5 520.7L296.0 520.7L295.5 520.5L295.0 520.2L294.5 519.8L294.1 519.2L293.8 518.5L293.5 517.5L293.4 516.5L293.4 511.2L293.5 509.8L293.7 508.0L294.1 506.5L294.6 505.2L295.0 504.6L295.4 504.0L296.2 503.1L296.8 502.7L297.2 502.4L297.8 502.2L298.2 502.0L298.8 502.0L299.2 502.0L300.0 502.1L300.5 502.3L301.0 502.5L301.5 502.9L302.0 503.3L302.4 503.8L302.8 504.2L303.2 505.0L303.6 505.8L303.9 506.5L304.3 508.0L304.4 508.8L304.5 509.8L304.5 511.5L304.3 513.0L303.9 514.5L303.6 515.2L303.2 515.9L302.5 517.1L301.8 518.0L300.8 518.8L299.2 519.8L298.5 520.2ZM297.5 519.3L297.0 519.3L296.5 519.3L296.0 519.2L295.8 519.1L295.5 518.9L295.1 518.5L294.7 517.8L294.6 517.2L294.4 516.5L294.1 513.5L294.0 511.2L294.1 509.5L294.3 508.2L294.6 507.0L295.2 505.8L295.8 504.8L296.5 503.9L297.0 503.5L297.5 503.2L298.2 503.0L298.8 502.9L299.2 502.9L299.8 503.0L300.2 503.1L300.8 503.4L301.2 503.7L302.0 504.5L302.5 505.1L302.8 505.8L303.4 507.0L303.7 508.5L303.9 510.0L303.9 511.0L303.9 511.8L303.6 513.2L303.2 514.5L302.6 515.8L301.8 516.8L301.0 517.6L300.0 518.3L298.8 518.9ZM298.8 517.6L298.2 517.7L297.8 517.7L297.0 517.6L296.5 517.3L296.2 517.1L295.8 516.5L295.4 515.5L295.0 513.9L294.8 512.2L294.7 510.5L294.8 509.2L295.1 508.0L295.5 506.8L296.0 505.8L296.4 505.2L296.8 504.9L297.5 504.3L298.2 504.0L299.0 503.9L299.5 504.0L300.0 504.1L300.8 504.5L301.5 505.2L302.1 506.0L302.6 507.0L303.0 508.2L303.2 509.5L303.3 510.8L303.1 512.0L302.9 513.2L302.5 514.3L302.0 515.2L301.2 516.1L300.5 516.8L299.8 517.2ZM299.5 516.0L298.8 516.2L298.0 516.1L297.5 515.9L297.2 515.8L296.8 515.3L296.2 514.5L295.9 513.5L295.6 512.5L295.5 511.2L295.5 510.0L295.6 509.0L295.9 508.0L296.3 507.0L296.8 506.2L297.5 505.6L298.0 505.3L298.8 505.1L299.5 505.1L300.0 505.3L300.7 505.8L301.2 506.3L301.8 507.1L302.1 508.0L302.4 509.0L302.5 510.0L302.5 511.0L302.4 512.0L302.1 513.0L301.8 513.9L301.2 514.7L300.8 515.2L300.2 515.6ZM299.2 514.6L298.8 514.6L298.2 514.5L297.8 514.2L297.2 513.7L296.9 513.0L296.6 512.2L296.5 511.5L296.4 510.8L296.4 510.0L296.5 509.2L296.8 508.5L297.1 507.8L297.5 507.2L298.0 506.8L298.5 506.6L299.0 506.5L299.5 506.6L300.0 506.8L300.5 507.2L300.8 507.6L301.0 508.0L301.3 508.8L301.5 509.5L301.6 510.2L301.6 511.0L301.5 511.8L301.2 512.5L301.0 513.0L300.7 513.5L300.2 514.0L299.8 514.4ZM299.5 512.3L299.2 512.4L299.0 512.5L298.8 512.4L298.5 512.3L298.2 512.1L298.0 511.8L297.8 511.0L297.7 510.2L297.9 509.5L298.2 508.9L298.5 508.7L298.8 508.6L299.0 508.6L299.2 508.6L299.5 508.7L299.8 508.9L300.0 509.3L300.2 510.0L300.2 510.8L300.2 511.2L300.0 511.8L299.8 512.1Z" fill="none" stroke="#808080" stroke-width="0.70" stroke-linejoin="round"/>
<g fill="none" stroke="#808080" stroke-width="0.7"><ellipse cx="180.5" cy="344.6" rx="3.2" ry="4.4"/><ellipse cx="180.6" cy="345.1" rx="1.8" ry="2.9"/><path d="M178.9 349 C177.5 352 176.3 356 176.1 359 C178.5 362 181 364.5 183.7 365.3 C185.5 365.8 187.5 365.6 188.4 361.8 C188.2 359.5 187.5 358 186.8 357.3 C185 355.5 183 354 182.3 352.9 C182 351 182 350 182 349"/><ellipse cx="184.2" cy="360.3" rx="3.6" ry="4.3" transform="rotate(-35 184.2 360.3)"/></g>
<text x="38.10" y="339.30" font-size="23.69">C</text>
<text x="209.63" y="330.90" font-size="12.60" fill="#1ac2ea">Am2βp6</text>
<line x1="211.00" y1="333.00" x2="188.00" y2="343.80" stroke="#2a2a2a" stroke-width="1.00"/>
<line x1="239.30" y1="332.60" x2="298.50" y2="346.80" stroke="#2a2a2a" stroke-width="1.00"/>
<line x1="192.20" y1="342.60" x2="192.40" y2="346.20" stroke="#444" stroke-width="0.80"/>
<text x="209.08" y="392.70" font-size="12.60" fill="#1ac2ea">Amβp6</text>
<line x1="187.20" y1="366.30" x2="211.40" y2="380.50" stroke="#2a2a2a" stroke-width="1.00"/>
<line x1="262.60" y1="366.30" x2="245.00" y2="382.60" stroke="#2a2a2a" stroke-width="1.00"/>
<text x="75.38" y="476.20" font-size="12.60" fill="#b3b3b3">Thrβ</text>
<line x1="83.70" y1="446.60" x2="87.50" y2="464.20" stroke="#2a2a2a" stroke-width="1.00"/>
<line x1="146.60" y1="445.50" x2="103.90" y2="470.30" stroke="#2a2a2a" stroke-width="1.00"/>
<text x="178.52" y="468.80" font-size="12.60" fill="#1ac2ea">Am2βp5</text>
<line x1="199.80" y1="469.70" x2="195.80" y2="504.40" stroke="#2a2a2a" stroke-width="1.00"/>
<text x="216.64" y="486.70" font-size="12.60" fill="#1ac2ea">Am2βp4</text>
<line x1="237.10" y1="487.40" x2="230.40" y2="518.10" stroke="#2a2a2a" stroke-width="1.00"/>
<text x="255.28" y="470.00" font-size="12.60" fill="#1ac2ea">Am2βp3</text>
<line x1="279.00" y1="470.00" x2="267.80" y2="497.40" stroke="#2a2a2a" stroke-width="1.00"/>
<text x="149.67" y="518.40" font-size="12.60" fill="#1ac2ea">Amβp5</text>
<line x1="182.00" y1="498.00" x2="171.40" y2="507.70" stroke="#2a2a2a" stroke-width="1.00"/>
<text x="193.44" y="533.80" font-size="12.60" fill="#1ac2ea">Amβp4</text>
<line x1="219.40" y1="506.70" x2="210.40" y2="524.10" stroke="#2a2a2a" stroke-width="1.00"/>
<text x="249.08" y="541.50" font-size="12.60" fill="#1ac2ea">Amβp3</text>
<line x1="269.40" y1="513.40" x2="266.50" y2="532.00" stroke="#2a2a2a" stroke-width="1.00"/>
<text x="307.84" y="514.70" font-size="12.80" fill="#222">#</text>
<text x="330.56" y="542.00" font-size="12.60" fill="#636363">αGlc2</text>
<line x1="347.90" y1="542.00" x2="354.60" y2="565.40" stroke="#2a2a2a" stroke-width="1.00"/>
<text x="189.00" y="568.60" font-size="12.60" fill="#636363">αGlc5</text>
<line x1="223.20" y1="564.50" x2="246.40" y2="564.50" stroke="#2a2a2a" stroke-width="1.00"/>
<rect x="36.00" y="315.00" width="337.00" height="1.00" fill="#333"/>
<rect x="36.00" y="315.00" width="1.00" height="282.00" fill="#1a1a1a"/>
<rect x="372.00" y="315.00" width="1.00" height="282.00" fill="#333"/>
<rect x="373.00" y="315.00" width="0.60" height="282.00" fill="#aaa"/>
<rect x="36.00" y="596.00" width="337.00" height="1.00" fill="#1a1a1a"/>
<rect x="409.00" y="598.00" width="1.00" height="3.00" fill="#222"/>
<text x="401.40" y="611.20" font-size="11.70">4.4</text>
<rect x="428.00" y="598.00" width="1.00" height="2.00" fill="#555"/>
<rect x="446.00" y="598.00" width="1.00" height="2.00" fill="#555"/>
<rect x="465.00" y="598.00" width="1.00" height="2.00" fill="#555"/>
<rect x="484.00" y="598.00" width="1.00" height="3.00" fill="#222"/>
<text x="476.39" y="611.20" font-size="11.70">4.2</text>
<rect x="503.00" y="598.00" width="1.00" height="2.00" fill="#555"/>
<rect x="521.00" y="598.00" width="1.00" height="2.00" fill="#555"/>
<rect x="540.00" y="598.00" width="1.00" height="2.00" fill="#555"/>
<rect x="559.00" y="598.00" width="1.00" height="3.00" fill="#222"/>
<text x="551.18" y="611.20" font-size="11.70">4.0</text>
<rect x="577.00" y="598.00" width="1.00" height="2.00" fill="#555"/>
<rect x="596.00" y="598.00" width="1.00" height="2.00" fill="#555"/>
<rect x="615.00" y="598.00" width="1.00" height="2.00" fill="#555"/>
<rect x="634.00" y="598.00" width="1.00" height="3.00" fill="#222"/>
<text x="625.98" y="611.20" font-size="11.70">3.8</text>
<rect x="652.00" y="598.00" width="1.00" height="2.00" fill="#555"/>
<rect x="671.00" y="598.00" width="1.00" height="2.00" fill="#555"/>
<rect x="690.00" y="598.00" width="1.00" height="2.00" fill="#555"/>
<rect x="708.00" y="598.00" width="1.00" height="3.00" fill="#222"/>
<text x="700.84" y="611.20" font-size="11.70">3.6</text>
<rect x="727.00" y="598.00" width="1.00" height="2.00" fill="#555"/>
<rect x="746.00" y="598.00" width="1.00" height="2.00" fill="#555"/>
<rect x="407.00" y="329.00" width="2.00" height="1.00" fill="#555"/>
<rect x="406.00" y="342.00" width="3.00" height="1.00" fill="#222"/>
<text x="391.50" y="346.50" font-size="11.70">66</text>
<rect x="407.00" y="355.00" width="2.00" height="1.00" fill="#555"/>
<rect x="407.00" y="369.00" width="2.00" height="1.00" fill="#555"/>
<rect x="407.00" y="382.00" width="2.00" height="1.00" fill="#555"/>
<rect x="406.00" y="395.00" width="3.00" height="1.00" fill="#222"/>
<text x="391.49" y="400.00" font-size="11.70">68</text>
<rect x="407.00" y="409.00" width="2.00" height="1.00" fill="#555"/>
<rect x="407.00" y="422.00" width="2.00" height="1.00" fill="#555"/>
<rect x="407.00" y="436.00" width="2.00" height="1.00" fill="#555"/>
<rect x="406.00" y="449.00" width="3.00" height="1.00" fill="#222"/>
<text x="391.44" y="453.50" font-size="11.70">70</text>
<rect x="407.00" y="462.00" width="2.00" height="1.00" fill="#555"/>
<rect x="407.00" y="476.00" width="2.00" height="1.00" fill="#555"/>
<rect x="407.00" y="489.00" width="2.00" height="1.00" fill="#555"/>
<rect x="406.00" y="502.00" width="3.00" height="1.00" fill="#222"/>
<text x="391.57" y="507.00" font-size="11.70">72</text>
<rect x="407.00" y="516.00" width="2.00" height="1.00" fill="#555"/>
<rect x="407.00" y="529.00" width="2.00" height="1.00" fill="#555"/>
<rect x="407.00" y="543.00" width="2.00" height="1.00" fill="#555"/>
<rect x="406.00" y="556.00" width="3.00" height="1.00" fill="#222"/>
<text x="391.33" y="560.50" font-size="11.70">74</text>
<rect x="407.00" y="569.00" width="2.00" height="1.00" fill="#555"/>
<rect x="407.00" y="583.00" width="2.00" height="1.00" fill="#555"/>
<path d="M655.5 597.5L647.0 592.5L645.0 591.1L643.3 589.8L641.9 588.5L640.6 587.0L639.6 585.5L637.2 582.0L636.5 581.0L635.8 580.1L634.8 579.0L633.9 578.2L633.0 577.5L631.9 576.8L631.0 576.3L630.2 576.0L629.5 575.7L628.5 575.5L626.8 575.4L623.2 575.2L621.5 575.1L620.0 575.0L618.5 574.7L617.0 574.2L615.8 573.7L614.5 573.1L613.5 572.5L612.6 571.8L611.8 571.0L611.0 570.0L610.4 569.0L609.9 568.0L609.6 567.0L609.5 565.8L609.5 564.8L609.6 564.0L609.8 563.2L610.0 562.5L610.4 561.8L610.8 561.0L611.2 560.4L611.9 559.8L612.5 559.1L613.2 558.5L614.0 558.1L614.8 557.7L615.5 557.3L616.2 557.0L617.2 556.7L618.2 556.6L619.2 556.4L620.8 556.4L622.2 556.5L623.8 556.9L625.2 557.3L626.5 557.9L628.0 558.6L629.2 559.4L631.8 561.0L633.0 561.7L633.8 562.1L634.5 562.3L635.2 562.5L636.0 562.6L637.8 562.7L643.0 562.5L649.2 562.5L651.5 562.5L653.2 562.3L654.8 562.0L656.2 561.6L657.5 561.1L658.5 560.5L659.2 559.8L659.9 559.0L660.5 558.0L661.0 556.8L661.4 555.2L661.8 553.8L662.1 551.8L662.3 549.8L662.4 547.5L662.3 545.8L662.1 544.5L661.8 543.2L661.4 542.2L660.8 541.2L660.0 540.4L659.5 540.1L658.8 539.7L658.2 539.6L657.5 539.6L656.2 539.8L652.2 540.6L649.8 541.0L648.0 541.2L646.2 541.3L642.5 541.3L639.0 541.1L635.5 540.8L632.0 540.3L628.5 539.7L625.8 539.1L623.0 538.4L620.5 537.6L618.2 536.8L616.2 536.0L614.2 535.1L608.7 532.2L606.6 531.2L604.1 530.2L601.9 529.5L599.8 528.9L597.1 528.2L589.5 526.6L582.8 525.0L580.8 524.7L579.5 524.6L578.5 524.7L577.5 524.9L576.8 525.2L576.0 525.6L575.2 526.0L572.5 528.0L571.0 529.0L569.8 529.6L568.2 530.2L567.5 530.4L566.5 530.5L565.0 530.6L563.5 530.4L562.8 530.2L562.0 529.9L561.2 529.6L560.5 529.2L559.0 528.3L557.2 526.9L555.0 524.9L553.6 523.5L552.5 522.2L551.5 520.8L550.6 519.2L550.2 518.2L549.7 517.0L549.3 515.8L549.0 514.5L548.7 512.5L548.3 508.8L548.0 507.2L547.8 505.9L546.9 502.8L546.6 501.2L546.4 499.8L546.3 498.2L546.4 497.5L546.6 496.5L547.0 495.0L547.3 494.2L547.6 493.5L548.4 492.2L549.0 491.6L549.5 491.0L550.1 490.5L550.8 490.1L552.0 489.4L552.8 489.1L553.5 488.9L554.8 488.7L555.5 488.6L556.2 488.7L557.8 488.9L559.0 489.2L560.2 489.8L561.5 490.4L562.4 491.0L564.8 492.6L565.5 493.1L566.2 493.5L567.0 493.7L567.5 493.8L568.0 493.8L569.0 493.6L570.8 493.0L572.8 492.2L573.2 492.0L573.8 491.6L574.0 491.4L574.2 491.0L574.5 490.2L574.9 487.8L575.3 486.2L575.8 485.0L576.6 483.8L577.0 483.2L577.5 482.7L578.0 482.2L578.7 481.8L579.2 481.4L580.0 481.1L581.2 480.8L582.2 480.7L583.0 480.8L583.8 480.9L584.5 481.1L585.2 481.4L585.9 481.8L586.5 482.2L587.2 482.8L588.0 483.8L588.4 484.2L588.8 485.0L589.2 485.8L589.4 486.5L590.1 488.8L590.3 489.5L590.5 489.8L590.8 490.2L591.2 490.5L591.8 490.7L592.5 490.8L593.2 490.8L594.2 490.8L595.5 490.6L596.5 490.4L597.5 490.1L598.2 489.8L599.2 489.2L600.2 488.4L601.1 487.5L602.0 486.2L602.5 485.2L603.1 484.0L605.2 478.8L606.3 476.2L607.0 475.0L607.8 473.8L608.7 472.5L609.5 471.5L610.6 470.2L611.7 469.2L612.9 468.2L614.2 467.3L615.6 466.5L617.0 465.8L618.5 465.1L620.2 464.5L621.5 464.1L623.0 463.7L626.0 463.1L628.5 462.8L635.2 462.1L643.2 460.9L646.5 460.5L649.0 460.4L651.2 460.6L653.5 460.9L657.2 461.7L658.2 461.8L659.0 461.8L659.5 461.8L660.0 461.6L660.7 461.2L661.5 460.6L662.0 460.0L662.5 459.2L662.8 458.7L663.3 457.2L663.9 455.2L664.3 453.0L664.7 450.0L665.1 446.0L665.6 439.8L666.0 434.8L666.1 430.8L666.3 426.0L666.4 420.2L666.4 414.8L666.2 407.0L665.7 395.8L665.6 391.0L665.6 386.0L665.9 377.0L665.9 373.2L665.9 369.5L665.6 362.0L665.6 358.0L665.8 354.8L666.1 351.2L667.4 340.0L667.8 336.2L668.1 332.8L668.5 325.8L668.7 322.5L669.0 320.5L669.2 318.7L669.6 317.0L669.9 315.5M678.0 315.5L679.2 319.4L679.8 320.6L680.2 321.5L680.8 322.2L681.2 322.8L683.2 324.6L683.8 325.2L684.3 326.0L684.6 326.8L684.9 327.8L685.1 328.8L685.2 329.8L685.1 331.0L684.8 332.2L684.4 333.2L684.0 333.8L683.8 334.1L683.2 334.5L682.5 334.9L681.8 335.1L680.0 335.2L679.2 335.5L678.8 335.8L678.2 336.3L677.8 337.0L677.4 337.8L676.9 338.8L676.5 340.0L676.2 341.2L675.9 342.8L675.7 344.2L675.5 346.0L675.3 350.0L675.0 366.0L675.0 372.0L675.1 376.2L675.6 387.8L676.0 399.8L676.2 403.0L676.4 406.0L677.7 417.0L678.1 422.5L678.4 427.2L678.8 439.5L679.7 457.5L680.0 462.5L680.9 472.2L681.2 476.5L681.2 479.8L681.0 482.8L680.9 484.2L680.6 486.0L679.7 491.0L679.6 492.0L679.7 492.5L679.8 493.0L680.1 493.8L680.5 494.2L681.0 494.6L681.6 495.0L682.9 495.5L686.0 496.4L687.5 496.9L688.8 497.6L689.4 498.0L690.0 498.5L690.5 498.9L691.0 499.5L691.9 500.8L692.6 502.0L693.8 504.5L694.2 505.3L694.8 505.9L695.0 506.1L695.5 506.3L695.8 506.4L696.2 506.4L698.8 505.9L700.0 505.8L701.2 506.0L703.8 506.5L704.5 506.6L705.0 506.5L705.5 506.4L706.2 506.2L708.5 505.1L709.5 504.6L710.5 504.4L711.2 504.3L712.2 504.3L713.2 504.5L714.2 504.9L716.2 505.7L717.0 506.0L717.5 506.0L718.0 506.0L718.8 505.9L720.8 505.1L721.5 504.8L722.5 504.7L723.2 504.8L724.0 505.0L724.5 505.3L725.2 505.8L725.8 506.2L726.9 507.5L728.8 510.1L729.2 510.6L729.5 510.8L729.8 510.8L730.0 510.8L730.5 510.6L731.0 510.2L732.1 509.0L732.8 508.4L733.3 508.0L734.0 507.6L734.8 507.4L735.2 507.4L736.0 507.5L736.5 507.8L737.0 508.2L737.5 508.8L738.1 509.5L738.5 510.5L738.9 511.5L739.1 512.5L739.2 513.2L739.2 514.2L739.1 515.2L738.9 516.5L738.5 517.5L738.1 518.5L737.5 519.2L737.0 519.8L736.5 520.2L735.8 520.5L735.2 520.6L734.8 520.6L734.2 520.5L733.5 520.1L733.0 519.8L732.5 519.4L731.0 517.8L730.5 517.4L730.0 517.1L729.8 517.1L729.5 517.2L729.2 517.3L728.8 517.8L726.8 520.2L725.8 521.4L724.8 522.1L724.2 522.4L723.5 522.7L722.8 522.8L721.8 522.8L720.8 522.5L718.8 521.9L718.0 521.7L717.5 521.7L717.0 521.8L716.2 522.0L714.2 522.8L713.2 523.1L712.2 523.3L711.2 523.4L710.5 523.3L709.8 523.1L706.8 522.2L706.0 522.1L705.5 522.1L705.0 522.2L704.2 522.5L701.0 524.3L700.2 524.6L698.0 525.5L697.5 525.8L697.0 526.3L696.8 526.6L696.5 527.2L696.2 527.9L696.0 529.0L695.5 532.4L695.0 536.2L695.0 537.8L695.0 538.8L695.2 539.6L695.5 540.0L695.7 540.2L696.2 540.7L696.8 540.9L697.5 541.1L698.2 541.2L700.0 541.3L709.2 541.4L711.2 541.5L712.5 541.7L713.8 541.9L714.8 542.2L715.8 542.6L717.0 543.3L717.7 543.8L718.3 544.2L719.2 545.2L719.7 546.0L719.9 546.5L720.1 547.0L720.3 547.8L720.5 549.0L720.5 549.8L720.4 550.5L720.2 551.8L719.8 552.8L719.4 553.5L718.9 554.2L718.4 554.8L717.8 555.2L717.2 555.6L716.5 556.0L715.5 556.3L714.5 556.5L713.8 556.6L712.8 556.7L711.8 556.7L710.0 556.5L706.5 555.7L705.5 555.7L705.0 555.7L704.5 555.8L704.2 556.0L704.0 556.2L703.9 556.5L703.9 556.8L704.0 557.2L704.2 557.8L706.1 561.0L706.9 562.5L707.6 564.0L708.2 565.5L708.6 567.0L708.9 568.2L709.2 569.5L709.4 571.2L709.5 573.5L709.5 576.0L709.2 578.5L708.9 580.5L708.7 581.5L708.4 582.2L708.0 583.2L707.4 584.2L706.5 585.2L705.3 586.2L703.8 587.2L702.2 587.9L700.5 588.6L699.0 588.9L697.2 589.1L695.5 589.1L694.0 588.9L692.8 588.6L691.2 588.1L689.8 587.4L688.8 586.8L687.5 585.9L686.2 584.8L685.2 583.8L683.2 581.6L682.8 581.1L682.2 580.8L682.0 580.8L681.8 580.8L681.5 581.0L681.3 581.2L681.0 582.0L680.7 582.8L679.9 586.0L679.3 588.0L678.6 590.0L677.9 591.8L677.0 593.5L676.1 595.0L675.2 596.2L674.2 597.5M471.5 372.8L470.8 373.0L470.2 372.9L469.8 372.7L469.2 372.5L468.8 372.2L468.3 371.8L467.9 371.2L467.6 370.5L467.4 369.8L467.3 368.8L467.3 367.2L467.2 366.5L467.0 366.0L466.9 365.8L466.5 365.2L466.0 364.8L465.5 364.4L462.2 362.4L460.5 361.2L454.8 356.7L454.0 356.0L453.2 355.3L452.8 354.7L452.2 354.0L451.8 353.2L451.4 352.5L450.7 350.8L450.2 349.0L450.5 347.8L450.9 346.8L451.3 345.8L451.6 345.0L452.1 344.2L452.6 343.5L453.2 342.8L453.7 342.2L455.0 341.1L460.5 336.8L462.2 335.6L465.6 333.5L466.2 333.0L466.7 332.5L467.0 332.0L467.2 331.3L467.3 330.8L467.3 329.2L467.3 328.5L467.5 327.8L467.8 327.0L468.3 326.2L469.0 325.7L469.8 325.2L470.2 325.1L470.8 325.0L471.2 325.1L471.8 325.3L472.5 325.7L473.1 326.2L473.6 327.0L473.9 327.8L474.1 328.5L474.1 329.2L474.1 330.8L474.2 331.5L474.4 332.0L474.8 332.6L475.2 333.0L475.8 333.5L479.0 335.5L480.8 336.7L484.2 339.5L486.5 341.2L487.8 342.3L488.4 343.0L489.0 343.7L489.5 344.5L489.9 345.2L490.3 346.0L490.7 347.0L491.3 349.0L490.7 351.0L490.3 352.0L489.9 352.8L489.5 353.5L489.0 354.3L488.4 355.0L487.8 355.7L486.5 356.8L484.2 358.5L481.0 361.1L479.2 362.3L475.8 364.5L475.2 365.0L474.7 365.5L474.4 366.0L474.1 366.8L474.1 367.2L474.1 369.2L474.0 370.0L473.7 370.8L473.3 371.5L472.8 372.0L472.2 372.4ZM645.0 372.0L643.8 372.1L642.5 372.1L641.2 371.9L640.0 371.7L639.0 371.4L637.8 370.8L636.5 370.2L635.5 369.5L634.5 368.7L633.5 367.8L632.7 366.8L632.1 365.8L631.5 364.8L631.0 363.5L630.7 362.2L630.5 361.2L630.4 360.0L630.4 358.8L630.6 357.5L630.8 356.5L631.3 355.2L631.7 354.2L632.3 353.2L633.0 352.2L633.9 351.2L634.8 350.5L635.8 349.7L636.9 349.0L638.0 348.4L639.2 348.0L640.5 347.6L641.8 347.4L643.0 347.3L644.2 347.3L645.5 347.4L646.8 347.7L648.0 348.1L649.2 348.6L650.5 349.2L651.5 349.9L652.5 350.7L653.3 351.5L654.2 352.5L654.9 353.5L655.4 354.5L656.0 355.8L656.4 357.0L656.6 358.2L656.7 359.5L656.7 360.8L656.5 362.0L656.2 363.0L655.9 364.0L655.3 365.2L654.7 366.2L653.8 367.4L652.8 368.5L651.9 369.2L650.8 370.0L649.8 370.6L648.8 371.1L647.5 371.5L646.2 371.8ZM555.2 373.8L554.0 373.8L552.8 373.8L551.5 373.6L550.5 373.4L549.2 372.9L548.0 372.4L547.0 371.8L546.0 371.0L545.0 370.1L544.2 369.2L543.5 368.2L542.8 367.0L542.3 366.0L541.9 364.8L541.6 363.5L541.4 362.2L541.3 361.0L541.4 359.8L541.5 358.5L541.8 357.2L542.3 356.0L542.8 354.8L543.4 353.8L544.1 352.8L545.0 351.8L546.0 350.9L547.0 350.1L548.0 349.5L549.0 349.1L550.2 348.6L551.2 348.4L552.5 348.2L553.8 348.1L555.0 348.2L556.2 348.4L557.2 348.6L558.5 349.1L559.5 349.6L560.5 350.2L561.5 350.9L562.4 351.8L563.2 352.6L564.0 353.6L564.7 354.8L565.1 355.8L565.6 357.0L565.9 358.2L566.1 359.5L566.2 360.8L566.2 362.0L566.0 363.2L565.7 364.5L565.3 365.8L564.9 366.8L564.2 368.0L563.5 369.0L562.6 370.0L561.8 370.9L560.8 371.6L559.8 372.3L558.8 372.8L557.5 373.3L556.2 373.6ZM635.0 423.3L634.0 423.3L633.0 423.2L632.0 423.0L631.0 422.7L629.9 422.2L628.8 421.7L627.5 420.9L626.3 420.0L624.7 418.8L621.8 416.2L620.5 415.1L619.5 414.0L618.4 412.8L617.6 411.5L617.0 410.4L616.6 409.2L616.4 408.5L616.3 407.5L616.3 406.8L616.5 405.8L616.8 404.8L617.0 404.0L617.5 403.0L618.2 402.0L619.2 400.6L621.0 398.5L622.1 397.2L623.1 396.2L624.0 395.5L625.0 394.8L626.0 394.3L627.0 393.9L628.0 393.7L629.0 393.7L630.0 393.8L631.2 394.0L632.2 394.4L633.5 394.9L634.8 395.6L636.0 396.5L637.8 397.8L640.8 400.3L642.3 401.8L643.5 403.0L644.5 404.2L645.3 405.2L645.9 406.5L646.4 407.8L646.5 408.5L646.6 409.5L646.6 410.5L646.4 411.5L646.1 412.5L645.7 413.5L645.1 414.5L644.5 415.5L643.3 417.0L641.4 419.2L640.2 420.4L639.4 421.2L638.2 422.1L637.2 422.6L636.2 423.0ZM471.5 404.3L471.2 404.4L471.0 404.5L470.8 404.4L470.5 404.3L470.2 404.0L470.1 403.8L469.9 403.2L469.9 402.5L470.0 401.8L470.3 401.2L470.5 401.0L470.8 400.9L471.0 400.9L471.2 400.9L471.5 401.1L471.9 401.5L472.1 402.0L472.1 402.5L472.1 403.2L471.9 403.8L471.8 404.0ZM568.8 410.8L567.8 410.9L566.8 410.8L565.8 410.7L564.8 410.4L563.9 410.0L563.1 409.5L562.4 409.0L561.8 408.2L561.4 407.5L561.1 406.8L561.1 406.0L561.1 405.2L561.4 404.5L561.8 403.8L562.5 403.0L563.2 402.5L563.8 402.1L564.5 401.8L565.8 401.4L566.5 401.3L567.2 401.3L568.0 401.3L568.8 401.4L570.0 401.7L570.8 402.0L571.3 402.2L571.8 402.6L572.3 403.0L572.8 403.5L573.2 404.0L573.4 404.5L573.6 405.0L573.8 405.5L573.8 406.2L573.8 406.8L573.6 407.2L573.4 407.8L573.1 408.2L572.8 408.8L572.3 409.2L571.8 409.7L571.2 410.0L570.7 410.2L570.0 410.5ZM419.8 406.3L419.5 406.4L419.2 406.3L419.0 405.8L418.9 405.2L418.9 404.5L419.0 403.9L419.2 403.3L419.5 403.2L419.8 403.3L419.8 403.5L420.0 403.9L420.1 404.5L420.0 405.5L420.0 405.8ZM737.2 419.3L736.8 419.3L736.2 419.2L735.8 418.9L735.2 418.3L734.9 417.8L734.6 417.0L734.4 416.2L734.3 415.2L734.3 414.2L734.5 413.2L734.7 412.5L735.0 411.8L735.3 411.2L735.8 410.8L736.2 410.4L736.8 410.3L737.2 410.3L737.8 410.5L738.2 411.0L738.7 411.5L739.0 412.1L739.2 412.9L739.4 413.8L739.5 414.5L739.5 415.2L739.4 416.0L739.2 416.8L739.0 417.5L738.7 418.0L738.2 418.7L737.8 419.1ZM409.5 435.4L410.5 434.5L411.5 433.8L412.5 433.2L413.8 432.6L415.0 432.1L416.5 431.6L417.8 431.4L419.2 431.1L421.8 430.9L427.0 430.8L429.8 430.5L432.5 430.1L437.8 429.1L440.8 428.6L443.8 428.1L446.2 427.9L447.8 427.8L450.0 427.8L460.5 428.2L462.8 428.2L464.5 428.1L466.2 428.0L468.0 427.7L469.5 427.5L474.8 426.3L476.5 426.0L478.2 425.8L480.2 425.6L482.2 425.6L484.2 425.6L486.2 425.7L489.0 426.0L491.0 426.5L493.0 427.0L497.6 428.5L500.3 429.2L514.4 432.8L522.0 434.6L524.8 435.3L526.8 436.1L529.0 437.0L531.2 438.2L533.3 439.5L535.4 441.0L537.1 442.5L537.9 443.2L538.6 444.0L539.2 444.8L539.6 445.5L539.8 446.0L539.9 446.5L539.8 447.0L539.6 447.5L539.2 448.2L538.6 449.0L538.0 449.8L536.9 450.8L534.9 452.5L532.9 454.0L530.8 455.3L528.5 456.5L526.2 457.4L524.2 458.1L522.0 458.7L514.4 460.2L506.2 462.1L502.5 462.9L498.8 463.6L495.2 464.2L492.0 464.6L489.2 464.8L488.2 464.8L486.5 464.7L482.5 464.3L478.5 463.8L468.4 462.5L462.0 461.8L457.8 461.4L447.0 460.6L444.8 460.3L441.8 459.8L438.8 459.2L433.0 458.0L430.0 457.4L427.2 457.2L421.2 457.0L419.8 456.8L418.5 456.7L417.2 456.5L416.0 456.1L414.8 455.7L413.5 455.2L412.5 454.7L411.4 454.0L410.3 453.2L409.5 452.5M600.8 448.3L599.8 448.4L598.2 448.3L593.5 447.6L591.8 447.2L590.5 446.9L589.2 446.5L585.8 445.1L584.5 444.6L583.0 444.3L580.2 443.8L579.0 443.6L577.8 443.2L576.7 442.8L576.0 442.3L575.5 441.9L575.0 441.5L574.6 441.0L573.9 440.0L573.7 439.5L573.4 438.8L573.2 437.5L573.1 436.8L573.2 436.0L573.5 434.8L573.7 434.0L574.0 433.5L574.3 433.0L574.8 432.4L575.2 431.8L575.8 431.4L576.8 430.7L577.3 430.5L578.0 430.3L578.5 430.1L579.2 430.0L580.5 430.1L581.8 430.4L582.5 430.7L583.0 430.9L584.0 431.6L585.0 432.4L585.8 433.2L588.0 435.8L588.8 436.5L589.5 437.1L591.0 438.1L594.5 439.9L597.8 441.8L599.9 443.0L601.0 443.7L601.7 444.2L602.2 444.9L602.6 445.5L602.8 446.0L602.8 446.2L602.7 446.8L602.5 447.2L602.0 447.8L601.5 448.1ZM747.5 459.8L746.2 460.8L745.5 461.2L744.8 461.6L743.2 462.2L741.5 462.7L739.8 462.9L738.8 463.0L737.8 463.0L736.0 462.8L734.2 462.4L732.6 461.8L731.1 461.0L730.4 460.5L729.8 460.0L728.7 459.0L728.2 458.4L727.8 457.8L727.1 456.5L726.8 455.8L726.7 455.0L726.5 454.2L726.5 453.5L726.5 452.8L726.6 452.0L726.8 451.2L727.1 450.5L727.8 449.2L728.2 448.6L728.7 448.0L729.2 447.4L730.0 446.8L731.2 445.9L732.8 445.1L734.4 444.5L736.0 444.1L737.8 443.9L739.5 444.0L741.2 444.2L743.0 444.7L743.9 445.0L744.8 445.4L746.2 446.2L747.5 447.2M747.5 519.0L747.1 519.2L746.8 519.4L746.5 519.4L746.0 519.3L745.4 519.0L744.8 518.4L744.4 518.0L744.1 517.5L743.7 516.5L743.4 515.2L743.3 514.0L743.4 512.8L743.7 511.5L744.1 510.5L744.4 510.0L744.8 509.6L745.4 509.0L746.0 508.7L746.5 508.6L746.8 508.6L747.1 508.8L747.5 509.0M457.2 535.3L456.0 535.4L455.2 535.4L454.5 535.3L453.8 535.1L453.0 534.9L452.2 534.5L451.7 534.2L451.0 533.8L450.5 533.3L450.0 532.8L449.6 532.2L449.2 531.7L448.9 531.0L448.7 530.5L448.5 529.8L448.3 528.5L448.3 527.8L448.4 527.0L448.7 525.8L449.0 525.2L449.4 524.5L449.8 523.9L450.2 523.4L451.2 522.5L451.8 522.1L452.5 521.7L453.2 521.4L454.0 521.2L454.8 521.1L455.5 521.0L456.2 521.0L457.0 521.1L457.8 521.2L458.5 521.5L459.1 521.8L459.8 522.1L460.4 522.5L461.0 523.0L461.5 523.5L461.9 524.0L462.2 524.5L462.6 525.2L462.9 526.0L463.1 526.8L463.3 528.0L463.3 528.8L463.2 529.5L463.0 530.2L462.7 531.0L462.3 531.8L462.0 532.2L461.1 533.2L460.6 533.8L460.0 534.2L459.4 534.5L458.8 534.8L458.0 535.1ZM684.8 559.8L685.8 559.0L688.8 556.2L689.7 555.2L690.2 554.5L690.4 554.0L690.3 553.8L690.1 553.2L689.8 552.8L689.3 552.5L688.2 551.9L687.5 551.6L687.0 551.6L686.5 551.6L686.0 551.8L685.5 552.2L685.2 552.5L684.8 553.2L684.5 553.8L684.0 555.2L683.7 556.2L683.5 557.8L683.5 558.8L683.5 559.2L683.8 559.8L684.0 560.0L684.2 560.0ZM727.0 575.0L726.0 575.0L725.2 575.0L724.5 574.8L723.8 574.6L723.0 574.3L722.2 573.9L721.6 573.5L721.0 573.0L720.5 572.5L719.8 571.8L719.3 571.0L718.9 570.2L718.5 569.5L718.3 568.8L718.1 568.0L717.9 567.0L717.8 566.0L717.8 565.0L717.9 564.2L718.1 563.2L718.4 562.2L718.6 561.5L719.0 560.7L719.4 560.0L720.0 559.2L720.4 558.8L721.0 558.3L721.5 557.9L722.2 557.5L723.0 557.2L723.8 557.0L724.5 556.9L725.5 556.8L726.5 556.8L727.5 556.9L728.5 557.2L729.2 557.4L730.2 557.8L731.2 558.3L732.0 558.8L732.8 559.3L733.5 560.0L734.1 560.8L734.7 561.5L735.1 562.2L735.5 563.2L735.8 564.2L735.9 565.0L736.0 565.8L736.0 566.8L735.8 567.8L735.6 568.5L735.2 569.4L734.8 570.2L734.3 571.0L733.8 571.7L733.0 572.5L732.3 573.0L731.5 573.6L730.8 574.0L730.0 574.3L729.0 574.7L728.0 574.9ZM587.8 575.5L587.2 575.5L587.0 575.5L586.5 575.4L586.2 575.2L585.9 575.0L585.5 574.7L585.2 574.2L584.8 573.7L584.2 572.5L583.7 571.0L583.4 569.5L583.3 567.8L583.3 566.0L583.5 564.3L583.9 562.8L584.3 561.5L584.7 560.8L585.0 560.3L585.7 559.5L586.0 559.2L586.5 558.9L586.8 558.8L587.2 558.8L587.8 558.8L588.0 558.9L588.3 559.0L588.8 559.3L589.0 559.5L589.5 560.0L590.1 561.0L590.7 562.2L591.1 563.5L591.3 565.0L591.5 566.8L591.4 568.2L591.2 569.8L590.9 571.2L590.5 572.5L590.0 573.6L589.7 574.0L589.2 574.6L588.8 575.0L588.5 575.2L588.2 575.3ZM659.3 597.5L657.8 596.8L656.2 596.0L654.5 594.9L652.2 593.5L649.9 592.0L648.1 590.8L646.8 589.8L645.7 588.8L644.2 587.2L643.0 585.8L642.0 584.2L639.8 580.5L639.2 579.5L638.5 578.6L637.5 577.5L636.5 576.5L635.2 575.4L634.2 574.7L633.5 574.3L632.8 573.9L632.0 573.7L631.0 573.5L630.2 573.5L629.2 573.5L624.5 574.0L623.2 574.1L622.0 574.1L620.5 574.0L619.2 573.8L618.0 573.5L616.8 573.1L615.5 572.5L614.2 571.8L613.2 571.0L612.3 570.0L611.6 569.0L611.4 568.5L611.0 567.8L610.8 566.8L610.6 565.5L610.6 564.8L610.8 564.0L611.0 563.2L611.3 562.5L611.7 561.8L612.2 561.0L612.6 560.5L613.2 559.9L614.0 559.3L614.8 558.8L615.5 558.4L616.2 558.1L617.0 557.9L618.0 557.6L619.0 557.5L619.8 557.4L621.2 557.5L622.2 557.6L623.0 557.8L624.5 558.2L626.0 558.9L627.5 559.8L628.8 560.7L630.1 561.8L632.2 563.7L633.2 564.5L633.8 564.8L634.5 565.2L635.0 565.4L635.8 565.6L636.5 565.7L637.5 565.7L641.0 565.6L642.8 565.7L644.5 565.8L649.2 566.2L650.8 566.2L652.0 566.2L654.0 566.0L655.8 565.6L657.5 565.0L658.2 564.7L659.0 564.3L659.7 563.8L660.2 563.3L660.8 562.8L661.2 562.2L661.5 561.8L661.9 561.0L662.2 560.1L662.5 559.3L663.0 557.1L663.5 553.8L663.8 550.0L664.0 546.5L664.0 545.0L663.8 543.8L663.5 542.5L663.2 541.5L662.5 540.2L661.2 538.2L660.0 536.5L659.2 535.8L658.8 535.4L658.2 535.2L657.8 535.2L657.2 535.2L656.2 535.5L653.0 536.8L650.5 537.5L649.0 537.8L647.5 538.0L646.0 538.2L644.2 538.4L641.2 538.5L638.0 538.4L634.5 538.1L631.2 537.7L628.8 537.2L626.2 536.7L624.0 536.0L621.8 535.3L620.0 534.6L618.2 533.9L612.3 531.0L610.0 530.0L607.4 529.0L605.0 528.2L602.5 527.6L599.8 527.0L592.2 525.6L589.2 524.9L581.5 523.0L580.5 522.8L579.5 522.7L578.5 522.7L577.8 522.8L576.8 523.1L576.0 523.4L575.5 523.7L574.8 524.3L572.3 526.5L571.2 527.3L569.8 528.2L568.5 528.9L567.8 529.1L567.0 529.3L566.2 529.4L565.5 529.5L564.8 529.4L564.0 529.3L562.8 529.0L562.0 528.7L561.2 528.4L560.5 527.9L559.8 527.4L558.3 526.2L555.5 523.8L554.0 522.4L553.0 521.2L552.1 520.0L551.4 518.8L550.9 517.8L550.5 516.8L550.2 515.8L549.9 514.5L549.5 512.5L549.2 509.2L549.0 507.8L548.6 506.0L547.7 502.8L547.4 501.5L547.1 499.8L547.1 498.2L547.1 497.2L547.3 496.5L547.5 495.5L547.8 494.8L548.2 494.0L548.6 493.2L549.0 492.7L549.6 492.0L550.1 491.5L550.8 490.9L551.5 490.5L552.2 490.1L553.0 489.8L553.8 489.6L554.8 489.4L555.5 489.4L556.2 489.4L557.0 489.6L558.2 489.9L559.5 490.4L560.2 490.8L560.9 491.2L562.2 492.2L563.4 493.5L564.4 494.8L566.0 497.2L566.5 497.8L566.8 498.1L567.2 498.4L567.5 498.4L567.8 498.4L568.2 498.2L569.0 497.7L570.7 496.2L572.0 495.4L572.8 495.0L573.5 494.6L575.3 494.0L575.9 493.8L576.2 493.5L576.5 493.2L576.6 493.0L576.6 492.8L576.6 492.2L576.0 489.8L576.0 489.0L575.9 488.2L576.0 487.5L576.1 486.8L576.3 486.0L576.5 485.2L576.9 484.5L577.4 483.8L578.0 483.1L578.7 482.5L579.5 482.0L580.2 481.7L581.0 481.5L581.8 481.4L582.8 481.4L583.5 481.5L584.2 481.7L585.0 482.0L585.8 482.5L586.5 483.1L587.1 483.8L587.6 484.5L587.9 485.0L588.2 485.8L588.4 486.5L588.6 487.2L588.7 488.0L588.6 489.0L588.5 490.0L588.2 491.8L588.2 492.2L588.3 492.8L588.5 493.0L588.8 493.2L589.0 493.3L589.5 493.4L590.5 493.5L597.5 493.4L599.0 493.4L600.0 493.3L601.0 493.1L601.8 492.9L602.8 492.5L603.2 492.2L603.8 491.8L604.4 491.0L604.9 490.0L605.3 489.0L605.7 487.8L606.9 482.0L607.6 479.2L608.2 477.8L608.7 476.5L609.3 475.2L609.9 474.2L610.6 473.2L611.4 472.2L612.2 471.2L613.3 470.2L614.2 469.4L615.2 468.7L616.5 467.9L617.7 467.2L619.2 466.5L621.0 465.9L623.0 465.3L625.0 464.9L628.0 464.5L633.5 463.9L636.0 463.6L643.5 462.5L646.2 462.2L648.8 462.1L650.0 462.1L651.2 462.2L653.5 462.6L657.0 463.6L658.0 463.8L659.0 464.0L659.8 463.9L660.5 463.7L661.2 463.4L662.0 462.7L662.7 461.8L663.5 460.3L664.2 458.5L664.8 456.4L665.2 454.0L665.7 450.8L666.2 446.0L666.8 439.2L667.2 434.2L667.4 430.0L667.6 424.5L667.8 416.8L667.8 412.0L667.8 409.0L667.7 406.0L667.0 395.5L666.9 390.5L666.9 385.5L667.2 377.0L667.3 373.2L667.3 369.5L667.0 361.5L667.0 359.2L667.0 357.0L667.2 354.0L667.5 350.8L668.0 347.0L668.9 340.8L669.3 337.2L669.5 334.0L669.8 326.5L669.9 324.2L670.1 322.5L670.4 320.2L670.8 318.5L671.2 316.9L671.8 315.5M676.0 315.5L676.3 316.2L676.8 317.4L678.5 323.2L678.8 324.2L679.2 325.3L679.8 326.1L680.2 326.6L680.8 326.9L681.8 327.4L682.2 327.8L682.5 328.1L682.8 328.6L682.9 329.0L682.9 329.5L682.9 330.0L682.7 330.5L682.5 330.8L682.2 331.1L682.0 331.2L681.8 331.2L681.2 331.2L680.2 330.9L679.8 330.8L679.2 330.9L678.8 331.2L678.2 331.6L677.8 332.3L677.2 333.0L676.8 333.9L676.1 335.2L675.6 336.8L675.1 338.2L674.7 339.8L674.4 341.5L674.2 343.0L674.1 344.8L674.0 347.0L673.9 357.2L673.7 368.0L673.6 372.5L673.8 377.0L674.4 388.5L674.6 399.0L674.7 402.2L674.9 405.0L675.1 407.8L676.4 417.8L676.9 422.8L677.1 427.2L677.6 438.5L678.7 457.5L679.1 462.5L680.1 472.0L680.3 474.5L680.4 476.5L680.4 480.0L680.1 483.2L679.9 485.0L679.7 486.5L678.8 490.5L678.6 491.5L678.5 492.5L678.6 493.2L678.9 494.0L679.3 494.5L679.9 495.0L680.5 495.4L681.2 495.7L682.0 496.0L685.5 496.9L687.0 497.4L687.8 497.7L688.5 498.1L689.1 498.5L689.7 499.0L690.7 500.0L691.4 501.0L692.2 502.5L693.8 506.0L694.2 506.8L694.5 507.1L695.0 507.4L695.5 507.6L696.0 507.6L696.5 507.5L698.5 506.9L699.2 506.8L700.0 506.8L701.2 507.0L703.8 507.6L704.5 507.7L705.0 507.7L705.5 507.6L706.2 507.3L708.5 506.0L709.5 505.6L710.2 505.3L711.2 505.2L712.2 505.2L713.2 505.4L714.2 505.8L716.5 506.9L717.0 507.1L717.5 507.1L718.0 507.1L718.8 506.9L720.8 506.0L721.5 505.8L722.0 505.7L722.5 505.7L723.2 505.7L723.8 505.9L724.2 506.1L725.0 506.7L725.8 507.5L726.6 508.5L727.5 510.0L728.1 511.5L728.4 512.2L728.6 513.0L728.6 514.0L728.5 515.0L728.1 516.2L727.5 517.8L726.7 519.0L725.9 520.0L725.2 520.8L724.8 521.1L724.2 521.4L723.5 521.7L722.8 521.9L722.2 521.9L721.8 521.8L720.8 521.6L718.8 520.8L718.0 520.6L717.5 520.6L717.0 520.7L716.5 520.8L714.2 521.8L713.2 522.2L712.2 522.4L711.2 522.5L710.5 522.4L709.5 522.1L706.8 521.1L706.0 520.9L705.5 520.9L705.0 521.0L704.2 521.3L701.8 522.8L700.8 523.3L699.8 523.7L697.5 524.2L696.9 524.5L696.5 524.9L696.2 525.2L696.0 525.7L695.8 526.4L695.5 527.4L695.4 528.2L694.6 533.5L694.0 536.5L693.4 538.5L692.8 540.2L692.2 542.0L691.7 543.0L691.3 543.5L691.0 543.7L690.8 543.8L690.2 543.9L689.2 543.9L686.2 543.8L685.5 543.8L684.8 544.0L684.3 544.2L684.0 544.5L683.6 545.0L683.4 545.5L683.2 546.5L682.9 550.5L682.1 556.2L681.9 559.0L681.8 560.8L681.8 562.0L682.0 562.9L682.2 563.4L682.5 563.5L682.8 563.5L683.2 563.1L685.9 560.2L687.0 559.1L688.5 557.8L690.2 556.6L692.0 555.6L693.5 554.9L694.8 554.4L695.8 554.2L697.2 553.9L697.8 553.9L698.0 553.9L698.5 554.1L699.0 554.4L700.0 555.1L701.5 556.4L702.8 557.6L704.0 559.0L705.0 560.3L705.9 561.8L706.6 563.0L707.1 564.0L707.6 565.2L708.2 566.8L708.6 568.2L708.8 569.8L709.0 571.2L709.1 572.5L709.1 574.0L709.0 575.5L708.9 577.0L708.5 578.8L708.1 580.2L707.7 581.5L707.2 582.5L706.6 583.5L706.0 584.2L705.5 584.8L704.8 585.5L704.0 586.1L703.2 586.6L702.5 587.0L701.8 587.4L700.8 587.8L699.8 588.1L698.8 588.4L697.0 588.6L696.0 588.6L695.2 588.6L694.2 588.4L693.5 588.3L692.0 587.9L691.2 587.6L690.2 587.1L689.0 586.4L687.5 585.2L686.2 584.0L684.9 582.5L683.8 581.0L682.0 578.3L681.5 577.8L681.2 577.7L681.0 577.8L680.8 578.0L680.6 578.2L680.2 579.2L680.0 580.2L678.9 585.0L678.2 587.5L677.4 589.5L676.7 591.2L676.2 592.2L675.5 593.4L674.9 594.2L674.2 595.1L673.5 595.9L672.8 596.5L672.0 597.1L671.4 597.5M470.8 331.9L470.7 331.8L470.6 331.5L469.8 330.3L469.5 329.8L469.2 329.1L469.2 328.5L469.2 328.0L469.3 327.8L469.6 327.2L469.9 327.0L470.2 326.8L470.8 326.6L471.2 326.8L471.5 327.0L471.8 327.2L472.1 327.8L472.2 328.0L472.2 328.5L472.2 329.0L472.0 329.6L471.8 330.1L470.8 331.5ZM470.8 366.0L470.6 365.8L470.0 365.0L469.0 364.2L467.6 363.5L464.5 361.9L463.2 361.2L462.0 360.3L460.6 359.2L457.8 356.9L455.5 355.2L454.7 354.5L454.0 353.8L453.5 353.3L452.8 352.1L452.1 350.8L451.9 350.0L451.6 349.0L451.9 348.0L452.1 347.2L452.8 345.9L453.5 344.7L454.0 344.2L454.7 343.5L455.5 342.8L457.8 341.1L460.6 338.8L462.0 337.7L463.2 336.8L464.5 336.1L467.6 334.5L469.0 333.8L470.0 333.0L470.6 332.2L470.8 332.0L470.8 332.2L471.2 332.8L472.1 333.5L473.3 334.2L477.0 336.2L479.0 337.4L480.8 338.7L483.8 341.3L486.8 343.5L487.5 344.2L487.9 344.8L488.3 345.2L488.8 346.0L489.1 346.8L489.4 347.5L489.9 349.0L489.4 350.5L489.1 351.2L488.8 352.0L488.3 352.8L487.9 353.2L487.5 353.8L486.8 354.5L483.8 356.7L480.8 359.3L479.0 360.6L477.0 361.8L473.3 363.8L472.1 364.5L471.2 365.2L470.8 365.8ZM645.8 370.8L644.8 370.9L643.5 371.0L642.2 370.9L641.2 370.8L640.0 370.5L639.0 370.1L638.0 369.7L637.0 369.1L636.0 368.5L635.2 367.8L634.4 367.0L633.6 366.0L633.0 365.0L632.5 364.0L632.1 363.0L631.8 362.0L631.7 361.0L631.6 360.0L631.6 358.8L631.8 357.8L632.0 356.8L632.3 355.8L632.8 354.8L633.4 353.8L634.1 352.8L634.8 352.0L635.6 351.2L636.5 350.6L637.5 350.0L638.5 349.5L639.5 349.1L640.8 348.7L641.8 348.6L643.0 348.4L644.2 348.5L645.5 348.6L646.8 348.9L647.8 349.2L648.8 349.6L649.8 350.1L650.8 350.8L651.7 351.5L652.5 352.3L653.2 353.2L653.9 354.2L654.5 355.2L654.9 356.2L655.2 357.2L655.3 358.2L655.4 359.5L655.4 360.8L655.2 361.8L655.0 362.8L654.6 363.8L654.2 364.8L653.5 365.8L652.8 366.8L652.0 367.6L651.2 368.3L650.2 369.0L649.2 369.6L648.0 370.1L647.0 370.5ZM555.5 372.5L554.5 372.6L553.2 372.7L552.2 372.6L551.0 372.3L550.0 372.0L549.0 371.6L548.0 371.0L547.0 370.3L546.1 369.5L545.3 368.8L544.7 368.0L544.1 367.0L543.6 366.0L543.2 365.0L542.8 364.0L542.6 362.8L542.5 361.5L542.5 360.5L542.6 359.2L542.8 358.2L543.1 357.0L543.5 356.0L544.0 355.0L544.7 354.0L545.5 353.0L546.2 352.2L547.0 351.6L548.0 350.9L549.0 350.4L550.0 349.9L551.0 349.6L552.2 349.4L553.2 349.3L554.5 349.3L555.5 349.4L556.5 349.6L557.5 349.9L558.5 350.4L559.5 350.9L560.5 351.6L561.5 352.4L562.2 353.2L562.8 354.0L563.5 355.0L564.0 356.0L564.4 357.0L564.7 358.0L565.0 359.2L565.1 360.2L565.1 361.5L565.0 362.8L564.8 363.8L564.4 365.0L564.0 366.0L563.5 367.0L562.8 368.0L562.0 369.0L561.3 369.8L560.5 370.4L559.5 371.1L558.5 371.6L557.5 372.0L556.5 372.3ZM471.0 371.3L470.8 371.4L470.5 371.3L470.0 371.1L469.8 370.9L469.5 370.6L469.3 370.2L469.2 370.0L469.2 369.5L469.2 368.9L469.5 368.2L469.8 367.7L470.6 366.5L470.7 366.2L470.8 366.1L470.8 366.5L471.0 366.8L471.5 367.5L471.9 368.2L472.1 368.8L472.2 369.2L472.2 369.8L472.2 370.0L471.9 370.5L471.8 370.8L471.5 371.0ZM633.8 418.8L633.2 418.8L632.5 418.7L631.8 418.6L631.0 418.3L630.2 418.0L629.5 417.6L628.6 417.0L627.8 416.4L624.8 413.9L623.8 413.0L623.1 412.2L622.3 411.2L621.8 410.5L621.4 409.8L621.2 409.0L621.0 408.2L621.0 407.8L621.0 407.2L621.1 406.5L621.2 406.0L621.5 405.2L622.3 404.0L623.0 403.0L624.2 401.5L625.0 400.7L625.8 399.9L626.2 399.5L627.0 399.0L627.8 398.6L628.5 398.4L629.2 398.2L630.0 398.2L630.8 398.3L631.5 398.5L632.2 398.8L633.0 399.1L633.8 399.6L634.7 400.2L636.0 401.2L638.1 403.0L639.2 404.0L639.9 404.8L640.7 405.8L641.2 406.5L641.6 407.2L641.8 408.0L642.0 408.8L642.0 409.2L642.0 410.0L641.8 410.8L641.6 411.5L641.2 412.2L640.4 413.5L638.2 416.1L637.5 416.8L636.8 417.5L636.0 418.0L635.2 418.4L634.5 418.6ZM409.5 437.2L410.4 436.2L411.3 435.5L412.3 434.8L413.5 434.1L414.8 433.5L416.0 433.0L417.2 432.7L418.8 432.4L420.0 432.2L421.2 432.2L426.8 432.1L428.2 432.0L429.8 431.8L432.5 431.4L438.5 430.2L441.2 429.7L444.0 429.3L446.8 429.0L448.5 429.0L451.0 429.0L461.2 429.4L463.5 429.4L465.5 429.3L467.2 429.0L468.8 428.8L474.8 427.2L476.2 426.9L477.8 426.6L479.5 426.4L481.2 426.3L483.0 426.3L485.0 426.3L487.5 426.6L488.8 426.8L489.8 427.0L492.2 427.8L497.2 429.6L500.0 430.4L514.2 434.0L522.0 435.8L524.0 436.3L526.0 437.0L528.0 437.9L529.8 438.8L531.5 440.0L533.1 441.2L534.7 442.8L535.8 444.0L536.3 444.8L536.6 445.2L536.9 446.0L537.0 446.5L536.9 447.0L536.6 447.8L536.3 448.2L535.9 449.0L535.3 449.8L534.6 450.5L533.6 451.5L532.8 452.2L531.0 453.6L529.2 454.8L527.2 455.8L525.2 456.6L523.5 457.1L521.8 457.6L513.8 459.1L505.2 461.1L500.8 462.1L497.5 462.7L494.2 463.2L491.2 463.5L489.0 463.7L486.2 463.6L482.2 463.2L468.0 461.3L463.0 460.7L458.0 460.2L449.5 459.6L446.8 459.4L444.5 459.1L442.0 458.6L439.2 458.1L432.8 456.6L430.8 456.2L429.2 456.0L426.5 455.8L421.0 455.7L419.8 455.6L418.5 455.5L417.2 455.2L416.0 454.9L414.8 454.4L413.5 453.9L412.4 453.2L411.4 452.5L410.5 451.7L409.5 450.7M593.5 445.0L592.8 445.0L592.0 444.9L590.7 444.5L589.5 444.0L587.0 442.5L586.0 442.1L585.2 442.0L584.5 441.9L581.5 442.0L580.0 441.9L578.8 441.6L578.0 441.3L577.4 441.0L576.7 440.5L576.0 439.8L575.6 439.0L575.2 438.0L575.0 437.0L575.1 436.0L575.4 435.0L575.7 434.2L576.3 433.5L577.0 432.9L577.8 432.4L578.2 432.2L578.8 432.1L579.8 431.9L580.8 432.0L581.8 432.4L582.5 432.7L583.5 433.5L584.4 434.5L585.1 435.5L586.8 438.2L587.2 438.9L587.8 439.4L588.2 439.7L588.8 440.0L591.3 441.0L592.8 441.8L594.0 442.5L594.8 443.2L595.1 443.8L595.2 444.0L595.3 444.2L595.1 444.5L594.8 444.8L594.5 444.9L594.0 445.0ZM747.5 455.3L747.2 456.0L747.0 456.5L746.5 457.2L746.1 457.8L745.6 458.2L745.0 458.8L744.3 459.2L743.8 459.6L743.0 459.9L742.2 460.2L740.8 460.6L740.0 460.8L739.0 460.8L738.0 460.8L737.2 460.8L735.8 460.5L735.0 460.3L734.1 460.0L733.5 459.7L732.8 459.3L732.0 458.8L731.5 458.3L730.9 457.8L730.5 457.2L730.2 456.8L729.8 456.0L729.5 455.3L729.3 454.8L729.2 454.2L729.2 453.5L729.2 452.8L729.3 452.2L729.5 451.7L729.8 451.0L730.2 450.2L730.5 449.8L730.9 449.2L731.5 448.6L732.0 448.2L732.7 447.8L733.2 447.4L734.1 447.0L735.5 446.5L736.5 446.3L737.2 446.2L738.0 446.1L739.0 446.1L740.5 446.3L741.5 446.5L742.2 446.7L743.0 447.0L743.8 447.4L744.3 447.8L745.0 448.2L745.6 448.8L746.1 449.2L746.5 449.8L747.0 450.5L747.2 451.0L747.5 451.7M736.0 519.3L735.8 519.4L735.2 519.5L734.5 519.4L733.8 519.0L733.1 518.5L732.5 517.8L731.8 516.8L731.3 515.5L731.1 514.5L731.1 513.5L731.3 512.5L731.7 511.5L732.3 510.5L732.9 509.8L733.5 509.2L734.2 508.7L735.0 508.5L735.5 508.6L735.8 508.6L736.2 508.9L736.8 509.2L737.2 509.8L737.7 510.5L738.0 511.3L738.3 512.2L738.4 513.2L738.4 514.2L738.4 515.2L738.1 516.2L737.9 517.0L737.5 517.8L737.0 518.5L736.5 519.0ZM747.5 517.4L747.0 517.8L746.8 517.9L746.2 517.9L745.8 517.7L745.2 517.3L744.8 516.5L744.5 515.9L744.3 515.0L744.2 514.0L744.3 513.0L744.5 512.1L744.8 511.5L745.2 510.7L745.8 510.3L746.2 510.1L746.8 510.1L747.0 510.2L747.5 510.6M456.2 533.8L455.5 533.8L455.0 533.7L454.0 533.5L453.0 533.1L452.1 532.5L451.3 531.8L450.9 531.2L450.6 530.8L450.2 529.8L450.0 528.8L450.0 527.8L450.1 527.2L450.2 526.6L450.5 526.0L450.7 525.5L451.2 524.7L452.0 524.0L452.5 523.6L453.0 523.3L454.0 522.9L454.6 522.8L455.2 522.6L456.0 522.6L456.5 522.7L457.5 522.9L458.5 523.3L459.0 523.5L459.5 523.9L460.0 524.3L460.4 524.8L460.7 525.2L461.0 525.7L461.4 526.8L461.6 527.8L461.6 528.5L461.5 529.0L461.3 530.0L460.8 531.0L460.2 531.8L459.5 532.5L458.5 533.1L457.5 533.5L457.0 533.7ZM713.8 555.8L713.0 555.8L712.0 555.8L711.0 555.7L710.0 555.5L708.3 555.0L705.2 553.7L704.5 553.5L703.8 553.3L703.0 553.2L702.0 553.2L699.2 553.2L698.5 553.2L698.0 553.1L697.5 552.9L696.2 552.2L694.5 550.9L693.5 550.0L692.6 549.0L692.2 548.2L692.0 547.8L691.8 547.2L691.8 546.8L691.8 546.2L691.9 545.8L692.0 545.4L692.3 545.0L692.7 544.8L693.2 544.6L694.0 544.5L699.5 543.7L701.5 543.5L705.2 543.3L710.0 542.7L711.5 542.7L713.0 542.8L714.2 543.1L715.5 543.6L716.5 544.2L717.3 544.8L718.0 545.5L718.7 546.5L719.1 547.5L719.3 548.2L719.4 549.2L719.4 550.2L719.1 551.2L718.8 552.2L718.2 553.2L717.5 554.0L716.8 554.6L715.8 555.2L714.8 555.5ZM728.2 573.5L727.5 573.7L726.8 573.7L726.0 573.7L725.2 573.6L724.5 573.4L723.8 573.1L722.6 572.5L722.0 572.1L721.5 571.6L721.0 571.1L720.5 570.5L720.2 570.0L719.8 569.2L719.5 568.5L719.3 567.8L719.1 567.0L719.0 566.2L719.0 565.5L719.1 564.8L719.2 564.0L719.4 563.2L719.7 562.5L720.1 561.8L720.5 561.1L721.0 560.5L721.5 560.0L722.0 559.6L722.5 559.2L723.2 558.8L724.5 558.4L725.2 558.3L726.0 558.2L726.8 558.2L727.8 558.3L728.5 558.5L729.2 558.7L730.0 559.0L730.8 559.4L731.5 559.8L732.0 560.2L732.8 560.9L733.2 561.5L733.6 562.0L734.1 562.8L734.4 563.5L734.6 564.2L734.8 565.0L734.8 565.8L734.8 566.5L734.7 567.2L734.5 568.0L734.3 568.8L733.9 569.5L733.5 570.2L733.1 570.8L732.5 571.3L732.0 571.8L731.2 572.3L730.5 572.8L729.8 573.1L729.0 573.4ZM673.5 331.0L673.2 331.1L673.0 331.1L672.8 330.8L672.5 330.1L672.2 328.5L672.2 326.2L672.2 325.0L672.4 324.0L672.5 323.1L672.7 322.2L673.0 321.5L673.2 321.1L673.5 320.8L673.8 320.7L674.0 320.7L674.2 320.9L674.5 321.2L674.8 321.6L675.0 322.2L675.3 323.8L675.4 324.8L675.4 325.5L675.3 326.5L675.2 327.2L675.0 328.2L674.8 329.0L674.2 330.1L673.8 330.8ZM470.8 362.6L470.0 362.4L468.5 361.9L466.2 360.9L465.2 360.4L464.2 359.8L462.5 358.6L461.1 357.5L458.2 354.8L455.8 352.9L455.0 352.2L454.4 351.5L453.9 350.8L453.6 350.0L453.2 349.0L453.6 348.0L453.9 347.2L454.4 346.5L455.0 345.8L455.8 345.1L458.2 343.2L461.1 340.5L462.5 339.4L464.2 338.2L465.2 337.6L466.2 337.1L468.5 336.1L470.0 335.6L470.8 335.4L473.0 336.2L475.2 337.1L476.2 337.6L477.2 338.2L479.0 339.4L480.5 340.7L483.2 343.3L485.8 345.2L486.5 345.9L487.0 346.5L487.5 347.3L487.8 348.0L488.2 349.0L487.8 350.0L487.5 350.7L487.0 351.5L486.5 352.1L485.8 352.8L483.2 354.7L480.5 357.3L479.0 358.6L477.2 359.8L476.2 360.4L475.2 360.9L473.0 361.8ZM645.5 369.5L644.5 369.7L643.5 369.7L642.5 369.7L641.5 369.5L640.5 369.3L639.5 369.0L638.5 368.5L637.6 368.0L636.8 367.4L636.0 366.8L635.3 366.0L634.7 365.2L634.2 364.5L633.7 363.5L633.4 362.8L633.2 361.8L633.0 360.8L632.9 359.8L633.0 358.8L633.1 357.8L633.4 356.8L633.7 356.0L634.2 355.0L634.6 354.2L635.2 353.5L635.9 352.8L636.8 352.0L637.5 351.5L638.2 351.0L639.2 350.5L640.0 350.3L641.0 350.0L642.0 349.8L643.0 349.7L644.0 349.7L645.2 349.8L646.2 350.0L647.2 350.4L648.2 350.8L649.0 351.2L649.8 351.6L650.5 352.2L651.3 353.0L652.0 353.8L652.5 354.5L653.1 355.5L653.5 356.5L653.8 357.5L654.0 358.5L654.1 359.5L654.0 360.5L653.9 361.5L653.7 362.5L653.3 363.5L652.8 364.5L652.3 365.2L651.7 366.0L651.0 366.8L650.2 367.4L649.4 368.0L648.5 368.5L647.5 369.0L646.5 369.3ZM670.5 368.4L670.2 368.1L670.0 367.2L669.8 365.8L669.5 364.0L669.3 361.0L669.2 358.2L669.3 356.8L669.4 355.2L669.5 354.3L669.8 352.8L670.0 351.8L670.2 351.0L670.5 350.6L670.8 350.4L671.0 350.6L671.2 351.2L671.5 352.4L671.7 355.2L671.8 358.0L671.7 359.8L671.6 361.8L671.2 365.2L671.0 366.8L670.8 367.9ZM555.0 371.3L554.0 371.3L553.0 371.3L552.0 371.2L551.0 370.9L550.0 370.6L549.2 370.2L548.2 369.6L547.5 369.1L546.8 368.4L546.2 367.8L545.6 367.0L545.0 366.0L544.5 365.0L544.2 364.0L543.9 363.0L543.8 362.0L543.7 361.0L543.8 360.0L543.9 359.0L544.2 358.0L544.5 357.0L545.0 356.0L545.4 355.2L546.0 354.4L546.6 353.8L547.3 353.0L548.2 352.3L549.0 351.8L549.8 351.5L550.8 351.1L551.8 350.8L552.8 350.7L553.8 350.6L554.8 350.7L555.8 350.8L556.5 351.0L557.5 351.4L558.2 351.7L559.2 352.2L560.0 352.8L560.8 353.5L561.4 354.2L562.0 355.0L562.6 356.0L562.9 356.8L563.3 357.8L563.6 358.8L563.7 359.8L563.8 360.8L563.8 361.8L563.7 362.8L563.5 363.8L563.1 364.8L562.8 365.5L562.3 366.5L561.8 367.3L561.2 368.0L560.4 368.8L559.5 369.5L558.8 370.0L558.0 370.4L557.0 370.8L556.0 371.1ZM665.5 596.8L663.8 596.6L662.8 596.5L661.8 596.2L660.0 595.6L658.0 594.7L655.8 593.4L653.3 591.8L651.0 590.0L649.1 588.2L648.1 587.2L647.1 586.0L646.3 584.8L645.7 583.5L645.2 582.5L644.8 581.2L643.5 577.4L642.4 574.5L642.2 573.5L642.2 573.0L642.2 572.8L642.3 572.5L642.5 572.2L642.8 572.0L643.0 571.9L643.5 571.6L644.0 571.5L644.8 571.4L649.2 570.9L651.8 570.5L653.2 570.1L654.5 569.7L655.8 569.2L656.8 568.7L658.0 568.0L659.2 567.2L660.5 566.3L661.5 565.5L662.2 564.8L662.7 564.0L663.2 563.2L663.5 562.5L663.9 561.2L664.2 559.5L664.5 557.7L664.8 555.3L665.1 550.8L665.4 547.0L665.4 545.0L665.3 543.5L665.0 542.2L664.7 541.5L664.4 540.8L663.8 539.6L662.4 537.2L661.7 536.0L659.5 531.3L659.0 530.6L658.8 530.3L658.5 530.1L658.0 529.9L657.5 529.8L657.0 529.9L656.0 530.4L652.5 532.3L650.5 533.2L649.2 533.7L648.0 534.1L646.8 534.4L645.2 534.7L642.5 535.1L639.5 535.3L636.5 535.2L633.5 534.9L631.5 534.6L629.5 534.2L627.5 533.8L625.8 533.2L622.5 532.1L616.8 529.8L614.8 529.0L611.9 528.0L609.3 527.2L606.3 526.5L602.8 525.8L593.2 524.1L590.0 523.5L588.2 523.0L586.2 522.5L580.2 520.5L579.0 520.2L577.8 520.1L577.0 520.1L576.2 520.3L575.5 520.7L575.0 521.1L574.0 522.1L572.3 524.2L571.4 525.2L570.2 526.3L569.6 526.8L569.0 527.1L567.8 527.7L567.0 527.9L566.2 528.1L565.5 528.1L564.8 528.1L563.5 527.9L562.5 527.5L561.5 527.0L560.8 526.5L559.8 525.7L557.5 523.6L555.2 521.7L554.2 520.8L553.5 520.0L553.0 519.4L552.1 518.0L551.7 517.2L551.3 516.2L551.0 515.2L550.7 514.2L550.4 512.5L550.1 509.0L549.9 507.5L549.5 505.9L548.6 503.0L548.2 501.5L547.9 500.0L547.8 498.5L547.9 497.2L548.1 496.2L548.4 495.2L548.9 494.2L549.5 493.3L550.2 492.5L551.0 491.8L551.8 491.2L552.8 490.7L553.8 490.4L554.8 490.3L555.8 490.3L556.8 490.4L557.8 490.7L558.8 491.1L559.8 491.6L560.5 492.2L561.1 492.8L561.8 493.5L562.3 494.2L562.8 495.0L563.3 496.0L563.6 497.0L563.9 498.0L564.1 499.5L564.1 500.2L564.0 501.2L563.8 502.5L563.1 505.8L563.0 507.0L563.0 508.2L563.2 509.2L563.5 509.8L563.8 510.1L564.0 510.4L564.5 510.7L565.0 510.8L565.5 510.8L566.5 510.7L567.1 510.5L567.8 510.2L568.5 509.8L569.0 509.4L570.0 508.5L570.5 508.0L571.0 507.2L571.3 506.5L571.4 506.0L571.5 505.5L571.4 504.8L571.1 502.8L571.0 501.8L571.0 500.5L571.3 499.5L571.7 498.5L572.1 498.0L572.5 497.5L573.0 497.1L573.5 496.8L574.0 496.5L574.5 496.3L575.2 496.1L576.0 496.0L576.8 496.0L577.5 496.1L578.2 496.3L578.8 496.5L580.8 497.5L581.5 497.7L582.0 497.7L582.5 497.7L583.2 497.5L585.8 496.6L587.5 496.1L589.2 495.8L591.2 495.6L593.5 495.4L595.8 495.5L598.0 495.8L602.8 496.5L604.0 496.6L605.0 496.6L606.2 496.5L607.5 496.2L608.2 496.0L608.8 495.8L609.6 495.2L610.1 494.8L610.5 494.2L610.8 493.5L610.9 492.8L610.9 492.0L610.9 491.2L610.3 488.0L610.2 486.5L610.1 485.0L610.0 483.5L610.1 481.8L610.4 480.2L610.7 478.8L611.2 477.2L611.8 475.8L612.5 474.5L613.4 473.2L614.5 472.0L615.6 471.0L616.8 470.0L618.0 469.2L619.5 468.5L621.0 467.8L622.5 467.3L624.0 466.9L625.8 466.6L628.5 466.3L633.8 465.9L636.2 465.6L638.8 465.3L644.0 464.3L646.8 464.0L648.2 464.0L649.5 464.0L650.8 464.1L652.0 464.3L654.0 464.8L657.8 466.2L658.5 466.5L659.2 466.6L660.0 466.6L660.8 466.5L661.5 466.1L662.2 465.5L662.8 464.9L663.2 464.2L663.8 463.4L664.3 462.2L664.8 461.1L665.2 459.8L665.6 458.5L665.9 457.0L666.4 454.5L666.8 451.2L668.1 440.0L668.6 435.5L669.0 431.0L669.6 420.5L670.5 410.2L670.6 408.5L670.6 407.0L670.6 405.5L670.4 404.0L669.5 397.8L669.1 394.5L668.9 391.0L668.9 387.2L669.1 384.0L669.5 380.6L670.0 377.5L670.2 376.6L670.5 376.2L670.8 376.6L671.0 377.4L671.5 380.2L672.0 384.2L672.2 387.5L672.4 390.5L672.4 393.2L672.3 397.0L671.9 403.0L671.9 404.5L672.0 406.0L672.1 407.0L672.4 408.5L673.8 414.7L674.2 417.2L674.8 420.3L675.1 423.0L675.4 426.8L676.1 436.8L676.9 447.5L677.7 458.2L678.1 462.5L679.1 471.0L679.4 474.8L679.5 477.0L679.5 479.0L679.4 481.0L679.3 482.8L679.0 484.5L678.7 486.5L678.2 488.2L677.5 491.0L677.2 492.0L677.2 493.0L677.2 493.5L677.4 494.0L677.7 494.5L678.1 495.0L678.8 495.5L679.7 496.0L680.5 496.3L681.5 496.6L685.0 497.5L686.5 497.9L687.2 498.2L688.0 498.6L688.7 499.0L689.2 499.5L689.8 499.9L690.3 500.5L690.8 501.2L691.3 502.0L691.9 503.2L693.2 506.7L693.8 507.8L694.2 508.5L694.5 508.8L695.0 509.0L695.2 509.1L695.8 509.0L696.2 508.9L698.2 508.1L699.0 508.0L699.8 507.9L700.5 508.0L701.2 508.1L703.5 508.9L704.0 509.0L704.8 509.1L705.2 509.0L705.8 508.8L706.2 508.6L708.3 507.2L709.2 506.7L710.2 506.3L711.2 506.1L712.2 506.2L713.2 506.4L714.2 506.9L716.5 508.2L717.0 508.4L717.5 508.5L718.0 508.5L718.8 508.2L720.6 507.2L721.5 506.9L722.2 506.7L723.0 506.8L723.8 507.0L724.6 507.5L725.3 508.2L726.0 509.2L726.7 510.5L727.1 511.8L727.3 513.0L727.4 514.0L727.3 515.0L727.1 516.0L726.6 517.2L726.1 518.2L725.5 519.1L724.8 519.9L724.0 520.4L723.2 520.7L722.5 520.8L722.0 520.8L721.5 520.7L720.5 520.3L718.8 519.5L718.0 519.3L717.5 519.2L717.0 519.3L716.5 519.5L714.2 520.7L713.2 521.2L712.2 521.4L711.2 521.5L710.5 521.4L709.8 521.1L708.8 520.8L706.8 519.8L706.0 519.5L705.5 519.5L705.0 519.6L704.2 519.9L701.8 521.6L701.0 522.0L700.5 522.2L700.0 522.4L699.2 522.6L698.5 522.6L697.2 522.7L696.8 522.8L696.2 523.0L696.0 523.2L695.8 523.5L695.5 523.9L695.3 524.5L695.0 525.6L694.2 531.8L693.9 533.2L693.6 534.5L693.2 535.8L692.8 537.0L692.2 538.0L691.8 538.8L691.2 539.5L690.5 540.2L689.8 540.7L689.0 541.0L688.2 541.3L687.5 541.4L684.0 541.9L683.4 542.0L682.8 542.2L682.2 542.6L681.8 543.0L681.5 543.5L681.3 544.0L681.2 544.8L681.1 545.8L681.2 549.5L681.1 552.0L680.6 559.8L680.4 562.8L680.4 565.5L680.4 569.5L680.3 571.0L680.2 572.2L678.7 580.0L678.1 582.8L677.3 585.8L676.8 587.2L676.3 588.5L675.4 590.5L674.8 591.5L674.3 592.2L673.2 593.5L672.8 594.0L672.0 594.7L671.2 595.2L670.5 595.6L669.8 596.0L669.0 596.2L668.2 596.5L667.2 596.6ZM630.5 407.5L630.2 407.6L629.8 407.6L629.2 407.4L629.0 407.2L628.8 407.0L628.5 406.5L628.4 406.0L628.4 405.8L628.6 405.2L629.0 404.8L629.5 404.5L630.0 404.4L630.2 404.4L630.8 404.6L631.2 405.0L631.5 405.5L631.6 405.8L631.6 406.2L631.4 406.8L631.3 407.0L631.0 407.3ZM409.5 439.7L410.3 438.5L411.1 437.5L412.2 436.5L413.2 435.8L414.5 435.0L415.8 434.5L417.0 434.1L418.5 433.8L419.8 433.6L421.0 433.5L422.5 433.5L427.0 433.5L428.5 433.4L430.0 433.3L432.8 432.8L438.5 431.6L441.2 431.0L444.2 430.6L446.8 430.3L448.5 430.2L451.0 430.3L461.8 430.7L464.2 430.6L466.2 430.5L468.0 430.2L469.5 429.9L471.0 429.5L474.8 428.2L476.2 427.8L477.5 427.5L479.0 427.3L480.8 427.1L482.2 427.0L484.0 427.1L486.5 427.3L487.8 427.5L489.0 427.8L491.1 428.5L496.2 430.5L499.2 431.5L513.5 435.2L522.0 437.0L523.8 437.5L525.2 438.1L527.0 438.8L528.5 439.7L530.0 440.7L531.3 441.8L532.6 443.0L533.5 444.2L533.9 445.0L534.2 445.5L534.3 446.0L534.4 446.5L534.3 447.0L534.1 447.8L533.9 448.2L533.5 449.0L532.9 449.8L532.3 450.5L531.1 451.8L529.8 452.9L528.2 453.9L526.5 454.8L524.8 455.5L523.5 455.9L521.8 456.4L519.5 456.8L515.2 457.5L513.0 458.0L504.0 460.1L499.5 461.1L496.5 461.6L493.5 462.1L491.0 462.4L489.0 462.6L486.0 462.4L482.0 462.0L469.2 460.2L463.2 459.5L458.2 459.0L449.5 458.4L446.8 458.1L444.5 457.8L442.0 457.3L439.0 456.7L433.0 455.2L431.2 454.9L429.5 454.6L428.2 454.5L426.8 454.4L421.0 454.4L419.5 454.3L418.2 454.1L416.8 453.8L415.5 453.3L414.2 452.8L413.0 452.0L412.0 451.2L411.0 450.3L410.1 449.2L409.5 448.3M581.2 439.3L580.8 439.4L580.2 439.4L579.8 439.4L579.2 439.3L578.8 439.1L578.3 438.8L578.0 438.5L577.7 438.0L577.4 437.2L577.3 436.8L577.4 436.2L577.5 435.8L577.8 435.4L578.0 435.0L578.5 434.6L579.0 434.4L579.5 434.3L580.0 434.3L580.5 434.3L581.0 434.5L581.5 434.8L582.0 435.2L582.3 435.8L582.6 436.2L582.8 437.0L582.8 437.5L582.6 438.0L582.4 438.5L582.1 438.8L581.8 439.0ZM740.2 457.5L739.5 457.7L738.5 457.7L737.5 457.7L736.8 457.5L736.0 457.2L735.0 456.8L734.4 456.2L733.9 455.8L733.6 455.2L733.3 454.5L733.1 453.8L733.2 453.0L733.4 452.2L733.6 451.8L734.1 451.0L734.7 450.5L735.5 450.0L736.0 449.7L736.6 449.5L737.8 449.3L739.0 449.3L740.2 449.5L741.2 449.8L741.8 450.1L742.2 450.5L742.6 450.8L743.1 451.2L743.5 452.0L743.7 452.5L743.8 453.0L743.9 453.5L743.8 454.0L743.7 454.5L743.5 455.0L743.0 455.8L742.2 456.5L741.8 456.9L741.2 457.1ZM583.5 493.3L582.5 493.4L581.5 493.4L580.5 493.1L580.0 492.9L579.5 492.6L578.8 492.0L578.2 491.4L577.9 491.0L577.4 490.0L577.1 489.2L577.0 488.8L576.9 488.2L576.9 487.5L577.0 486.5L577.3 485.5L577.8 484.5L578.5 483.7L579.3 483.0L580.2 482.5L581.2 482.2L582.2 482.1L583.2 482.2L584.2 482.5L584.8 482.7L585.2 483.0L586.0 483.7L586.7 484.5L587.2 485.5L587.5 486.5L587.6 487.5L587.6 488.2L587.5 488.8L587.2 489.8L586.8 490.8L586.4 491.2L586.0 491.8L585.2 492.4L584.5 492.9L584.0 493.1ZM735.8 517.9L735.2 518.0L734.8 517.9L734.2 517.7L733.8 517.3L733.3 516.8L732.9 516.0L732.6 515.2L732.5 514.5L732.5 513.8L732.6 513.0L732.8 512.2L733.1 511.5L733.5 511.0L734.0 510.4L734.5 510.1L735.0 510.0L735.5 510.0L735.8 510.1L736.2 510.4L736.5 510.8L736.9 511.2L737.1 511.8L737.4 512.5L737.5 513.2L737.5 514.0L737.5 514.8L737.4 515.5L737.2 516.0L736.9 516.8L736.5 517.2L736.2 517.6ZM746.8 515.3L746.5 515.4L746.2 515.3L746.0 515.1L745.8 514.8L745.7 514.2L745.7 513.5L745.9 513.0L746.2 512.7L746.5 512.6L746.8 512.7L747.0 513.0L747.2 513.8L747.2 514.2L747.1 514.8L747.0 515.0ZM456.8 531.3L456.2 531.4L455.5 531.4L454.8 531.3L454.2 531.1L453.8 530.7L453.2 530.3L452.9 529.8L452.6 529.2L452.5 528.8L452.5 528.0L452.6 527.2L452.8 526.8L453.1 526.2L453.6 525.8L454.2 525.3L454.8 525.1L455.4 525.0L456.0 525.0L456.8 525.1L457.2 525.3L457.8 525.6L458.2 526.0L458.6 526.5L459.0 527.2L459.1 527.8L459.1 528.5L459.0 529.2L458.7 529.8L458.4 530.2L457.8 530.8L457.2 531.1ZM712.5 555.0L711.8 555.0L711.0 554.8L710.2 554.7L709.5 554.4L708.7 554.0L708.0 553.6L707.2 553.0L706.5 552.5L705.5 551.5L704.5 550.5L703.8 549.8L703.3 549.0L703.1 548.5L703.2 548.0L703.4 547.5L703.6 547.2L704.2 546.8L704.9 546.2L706.1 545.5L707.0 545.0L708.0 544.6L708.8 544.3L709.5 544.1L710.5 543.9L711.5 543.8L712.2 543.8L713.0 543.8L713.8 544.0L714.5 544.2L715.2 544.6L716.0 545.0L716.5 545.4L717.1 546.0L717.6 546.8L718.0 547.5L718.2 548.2L718.4 549.0L718.4 550.0L718.2 550.8L718.0 551.5L717.6 552.2L717.1 553.0L716.5 553.6L715.8 554.1L715.0 554.5L714.2 554.8L713.5 554.9ZM697.5 588.0L696.0 588.1L694.8 588.0L693.5 587.8L692.0 587.4L690.5 586.7L689.2 586.0L688.0 585.0L686.9 584.0L685.8 582.8L684.9 581.5L683.9 580.0L683.2 578.5L682.4 576.5L681.9 575.0L681.4 573.0L681.3 571.8L681.3 570.8L681.4 569.8L681.9 568.2L682.3 567.0L683.1 565.5L684.1 563.8L685.1 562.2L686.1 561.0L687.2 559.8L688.2 558.9L689.2 558.2L690.5 557.4L692.0 556.6L693.2 556.2L694.5 555.9L695.5 555.8L696.8 555.8L697.8 555.9L698.8 556.2L700.0 556.7L701.2 557.5L702.2 558.2L703.2 559.1L704.2 560.3L705.2 561.5L706.1 563.0L706.9 564.5L707.4 565.8L707.9 567.2L708.3 568.8L708.5 570.2L708.7 571.8L708.7 573.5L708.6 575.0L708.4 576.5L708.2 578.0L707.8 579.2L707.4 580.5L706.8 581.8L706.0 583.0L705.2 584.0L704.2 585.0L703.2 585.8L702.2 586.4L701.0 587.1L700.0 587.5L698.8 587.8ZM622.8 572.8L621.0 572.8L619.5 572.6L618.0 572.3L616.8 571.8L615.5 571.2L614.9 570.8L614.3 570.2L613.8 569.8L613.4 569.2L612.7 568.2L612.3 567.2L612.1 566.8L612.0 566.0L612.0 565.2L612.0 564.8L612.2 564.0L612.3 563.5L612.6 562.8L612.9 562.2L613.7 561.2L614.5 560.5L615.1 560.0L615.8 559.6L616.6 559.2L617.5 559.0L618.5 558.7L619.5 558.6L620.5 558.6L621.8 558.7L622.8 559.0L623.8 559.3L624.8 559.7L625.8 560.2L626.5 560.8L627.5 561.5L628.2 562.2L629.1 563.2L629.7 564.0L630.3 565.0L630.7 565.8L630.9 566.5L631.1 567.2L631.2 568.0L631.1 568.5L630.9 569.0L630.6 569.5L630.2 570.0L629.6 570.5L628.8 571.0L627.8 571.5L627.0 571.8L626.0 572.2L625.0 572.4L624.0 572.6ZM728.5 572.0L727.2 572.2L726.0 572.2L725.2 572.0L724.8 571.9L723.8 571.4L722.8 570.8L722.0 570.0L721.3 569.0L721.0 568.3L720.8 567.8L720.7 567.2L720.5 566.5L720.5 565.2L720.7 564.5L720.8 564.0L721.2 563.0L721.8 562.0L722.3 561.5L722.8 561.1L723.2 560.7L723.8 560.4L724.8 560.0L725.2 559.9L726.0 559.7L727.2 559.7L728.0 559.8L728.7 560.0L729.2 560.2L729.9 560.5L730.5 560.8L731.1 561.2L731.5 561.6L732.0 562.2L732.4 562.8L732.7 563.2L733.2 564.2L733.3 564.8L733.4 565.5L733.4 566.2L733.4 566.8L733.2 567.4L733.1 568.0L732.6 569.0L732.2 569.5L731.8 570.1L731.2 570.6L730.8 571.0L729.8 571.6L729.2 571.8ZM471.0 360.5L470.8 360.6L469.8 360.4L468.5 360.0L467.2 359.5L466.2 359.0L465.2 358.5L464.2 357.8L463.5 357.3L462.3 356.2L461.1 355.0L458.5 352.0L456.9 350.2L456.4 349.5L456.1 349.0L456.4 348.5L456.9 347.8L458.5 346.0L461.1 343.0L462.3 341.8L463.5 340.8L465.0 339.7L466.8 338.7L467.8 338.3L468.8 337.9L470.0 337.6L470.8 337.4L472.8 338.0L473.8 338.4L474.8 338.8L476.5 339.7L478.0 340.8L479.2 341.9L480.5 343.2L482.8 345.9L484.6 348.0L485.3 349.0L484.6 350.0L482.8 352.1L480.5 354.8L479.2 356.1L478.0 357.2L476.5 358.3L474.8 359.2L473.0 359.9ZM645.5 368.0L644.8 368.1L643.8 368.2L642.8 368.2L642.0 368.1L641.0 367.9L640.2 367.6L639.5 367.3L638.8 366.9L638.1 366.5L637.4 366.0L636.8 365.3L636.2 364.7L635.7 364.0L635.3 363.2L635.0 362.5L634.8 361.8L634.6 361.0L634.5 360.2L634.5 359.2L634.6 358.5L634.7 357.8L635.0 357.0L635.3 356.2L635.7 355.5L636.2 354.8L636.8 354.1L637.3 353.5L637.9 353.0L638.8 352.5L639.5 352.1L640.2 351.8L641.0 351.5L641.8 351.3L642.8 351.2L643.8 351.2L644.5 351.2L645.5 351.4L646.2 351.6L647.2 352.0L648.0 352.3L648.8 352.8L649.4 353.2L650.0 353.8L650.6 354.5L651.2 355.2L651.6 356.0L651.9 356.8L652.2 357.5L652.4 358.2L652.5 359.0L652.5 360.0L652.4 360.8L652.2 361.8L652.0 362.5L651.7 363.2L651.2 364.0L650.7 364.8L650.1 365.5L649.5 366.0L648.8 366.6L648.0 367.1L647.2 367.4L646.4 367.8ZM554.8 369.8L554.0 369.8L553.0 369.8L552.0 369.6L551.2 369.4L550.5 369.1L549.8 368.8L549.0 368.3L548.3 367.8L547.8 367.2L547.1 366.5L546.6 365.8L546.2 365.0L545.8 364.2L545.6 363.5L545.4 362.8L545.3 361.8L545.2 360.8L545.3 360.0L545.4 359.0L545.6 358.2L545.9 357.5L546.3 356.8L546.7 356.0L547.2 355.3L547.8 354.7L548.5 354.0L549.0 353.6L549.8 353.2L550.5 352.8L551.2 352.5L552.0 352.3L553.0 352.2L554.0 352.1L554.8 352.2L555.5 352.3L556.2 352.5L557.0 352.8L557.8 353.2L558.5 353.6L559.2 354.2L559.8 354.7L560.3 355.2L560.8 356.0L561.3 356.8L561.6 357.5L561.9 358.2L562.1 359.0L562.3 360.0L562.3 360.8L562.3 361.8L562.2 362.8L562.0 363.5L561.7 364.2L561.4 365.0L561.0 365.8L560.5 366.5L559.8 367.2L559.3 367.8L558.7 368.2L558.0 368.7L557.2 369.1L556.5 369.4L555.8 369.6ZM630.2 406.3L630.0 406.4L629.7 406.2L629.6 406.0L629.8 405.7L630.0 405.6L630.3 405.8L630.4 406.0ZM490.2 461.3L489.0 461.4L488.5 461.3L485.0 461.1L480.8 460.6L469.8 459.0L463.9 458.2L458.8 457.7L449.8 457.1L447.0 456.8L444.5 456.4L442.0 455.9L439.0 455.2L432.8 453.6L431.0 453.2L429.5 453.0L428.2 452.9L426.8 452.9L422.5 453.0L421.0 452.9L419.5 452.8L418.0 452.6L417.0 452.3L416.2 452.0L415.2 451.6L414.5 451.2L413.8 450.7L413.0 450.1L412.4 449.5L411.7 448.8L411.2 448.0L410.8 447.2L410.5 446.5L410.2 445.8L410.1 445.0L410.0 444.0L410.0 443.2L410.2 442.5L410.6 441.2L411.2 440.0L412.0 438.9L413.0 437.9L414.1 437.0L415.5 436.2L416.8 435.7L418.2 435.3L419.5 435.1L421.0 435.0L422.5 435.0L427.0 435.1L428.5 435.0L430.0 434.9L431.2 434.7L432.8 434.4L438.5 433.0L441.5 432.4L444.5 431.9L447.0 431.6L448.8 431.6L451.2 431.6L459.5 432.0L462.2 432.0L465.0 432.0L467.2 431.9L469.0 431.6L470.8 431.1L472.2 430.6L475.5 429.2L476.8 428.8L477.8 428.5L479.0 428.3L480.2 428.1L481.5 428.0L483.0 428.0L484.2 428.1L485.8 428.2L487.0 428.4L488.2 428.7L489.0 429.0L490.0 429.3L493.2 430.8L494.8 431.4L496.4 432.0L498.0 432.5L505.0 434.3L512.8 436.4L515.2 437.0L521.0 438.1L522.8 438.6L524.0 439.0L525.5 439.6L526.8 440.2L528.0 441.0L529.0 441.8L529.8 442.5L530.7 443.5L531.4 444.5L531.9 445.5L532.0 446.0L532.1 446.5L532.1 447.0L531.9 447.5L531.6 448.2L531.4 448.8L530.9 449.5L530.3 450.2L529.8 450.9L529.1 451.5L527.8 452.6L526.2 453.5L524.5 454.2L522.8 454.8L521.0 455.2L519.2 455.5L514.8 456.2L512.0 456.7L503.8 458.8L499.2 459.9L494.5 460.7L492.2 461.0ZM667.5 594.0L666.2 594.2L665.0 594.2L663.5 594.1L662.2 593.9L661.0 593.5L659.8 593.0L658.4 592.2L657.0 591.4L655.5 590.3L654.3 589.2L653.1 588.0L652.0 586.8L651.4 585.8L650.7 584.5L650.3 583.5L650.1 582.2L650.0 581.5L650.0 580.8L650.2 579.5L650.5 578.8L650.7 578.2L651.3 577.2L651.9 576.5L652.7 575.8L656.2 572.7L659.4 569.8L662.5 567.0L663.5 566.0L664.3 565.0L664.8 564.0L665.2 562.8L665.5 561.5L665.8 559.8L665.9 557.8L666.7 546.8L666.8 544.5L666.6 543.0L666.3 541.8L665.9 540.8L665.3 539.8L663.4 536.8L662.8 535.8L662.4 534.8L661.6 532.8L660.2 528.0L659.8 526.9L659.2 526.2L658.8 525.8L658.2 525.7L657.8 525.6L657.0 525.8L656.2 526.1L653.0 527.4L648.2 529.1L645.8 529.9L643.5 530.4L641.5 530.7L639.5 530.9L637.5 531.0L635.2 530.9L633.8 530.8L632.0 530.5L628.8 529.9L615.7 526.5L611.3 525.5L607.4 524.8L603.8 524.1L593.2 522.5L590.8 522.0L588.5 521.4L586.8 520.9L585.0 520.2L583.2 519.4L581.8 518.6L580.3 517.8L578.9 516.8L577.6 515.8L576.9 515.0L576.5 514.2L576.2 513.5L576.1 512.8L576.1 512.0L576.1 511.2L576.3 510.2L577.2 507.2L577.4 506.5L577.5 505.8L577.4 505.2L577.2 504.9L576.9 504.5L575.0 503.5L574.5 503.1L574.2 502.8L573.8 502.2L573.5 501.8L573.4 501.2L573.3 500.5L573.4 500.0L573.5 499.5L573.8 499.1L574.1 498.8L574.3 498.5L574.8 498.2L575.2 498.0L575.8 498.0L576.2 498.0L576.8 498.1L577.2 498.2L577.7 498.5L578.0 498.8L578.6 499.2L579.8 500.8L580.0 501.0L580.2 501.2L580.8 501.2L581.2 501.2L582.0 500.9L585.4 499.0L586.2 498.6L587.2 498.1L588.2 497.8L589.2 497.5L590.2 497.3L591.5 497.1L592.8 497.1L594.0 497.0L595.2 497.1L596.5 497.3L599.0 497.8L603.2 498.9L604.8 499.3L606.5 499.5L608.2 499.6L609.8 499.5L611.2 499.4L613.0 499.1L614.5 498.8L615.6 498.5L617.0 498.0L618.2 497.5L619.1 497.0L619.7 496.5L620.0 496.2L620.3 495.8L620.4 495.2L620.4 495.0L620.3 494.5L620.0 493.8L619.6 493.0L617.2 490.0L616.2 488.6L615.5 487.3L615.0 486.2L614.7 485.5L614.3 484.5L614.0 483.0L613.9 481.2L613.9 480.2L614.0 479.5L614.1 478.5L614.3 477.8L614.9 476.2L615.3 475.5L615.7 474.8L616.7 473.5L617.2 472.9L618.0 472.2L619.2 471.3L620.8 470.5L622.5 469.7L624.5 469.2L626.8 468.8L629.0 468.6L634.0 468.4L636.5 468.2L639.0 467.8L643.5 466.9L645.2 466.6L647.0 466.4L648.5 466.3L649.8 466.4L651.0 466.6L652.2 466.9L653.2 467.2L654.0 467.5L655.0 468.0L656.0 468.6L658.2 470.0L659.0 470.4L659.5 470.6L660.0 470.6L660.5 470.6L661.0 470.5L661.5 470.2L662.0 469.8L662.8 468.9L663.2 468.2L664.0 466.9L664.7 465.5L665.3 464.2L665.8 462.8L666.4 461.0L667.1 458.5L667.6 456.0L668.1 453.5L669.2 446.0L669.8 443.3L670.2 440.9L670.8 438.8L671.2 437.1L671.8 435.9L672.0 435.6L672.2 435.5L672.5 435.5L672.8 435.8L673.0 436.3L673.5 437.9L674.2 441.3L674.8 444.2L675.4 449.2L676.6 460.2L678.0 471.0L678.4 475.0L678.5 477.2L678.5 479.2L678.4 481.2L678.2 483.0L677.8 485.2L677.3 487.2L676.8 489.0L675.7 491.8L675.5 492.5L675.4 493.2L675.4 493.8L675.6 494.2L675.9 494.8L676.3 495.2L676.9 495.8L677.8 496.2L678.5 496.6L679.5 496.9L680.6 497.2L684.5 498.1L686.2 498.6L687.0 498.9L687.8 499.3L688.5 499.8L689.0 500.2L689.5 500.7L690.0 501.3L690.5 502.0L690.9 502.8L691.7 504.5L693.0 508.3L693.5 509.5L694.0 510.4L694.2 510.7L694.5 510.9L694.8 511.0L695.0 511.1L695.2 511.1L695.8 510.9L697.2 509.9L698.2 509.5L699.0 509.3L699.8 509.2L700.5 509.3L701.5 509.6L702.2 509.9L703.8 510.7L704.2 510.9L704.8 511.0L705.2 510.9L705.8 510.7L706.2 510.4L708.1 508.8L709.2 508.0L710.2 507.5L710.8 507.4L711.2 507.3L711.8 507.3L712.2 507.3L712.8 507.4L713.5 507.7L714.5 508.3L716.5 509.9L717.0 510.1L717.5 510.3L718.0 510.2L718.5 510.1L719.0 509.8L720.5 508.7L721.2 508.3L722.0 508.0L722.8 508.0L723.5 508.2L724.2 508.7L724.8 509.2L725.3 510.0L725.8 511.0L726.1 512.0L726.3 513.0L726.4 514.0L726.3 515.0L726.0 516.0L725.7 517.0L725.2 517.7L724.8 518.4L724.2 518.9L723.7 519.2L723.0 519.5L722.2 519.6L721.8 519.5L721.2 519.3L720.5 518.9L719.0 517.9L718.5 517.6L718.0 517.5L717.5 517.4L717.0 517.6L716.5 517.8L714.6 519.2L713.5 519.9L712.8 520.1L712.2 520.3L711.8 520.3L711.0 520.3L710.2 520.1L709.2 519.7L708.5 519.2L706.8 518.1L706.2 517.8L705.8 517.6L705.2 517.6L704.8 517.7L704.2 518.0L701.8 520.1L701.0 520.6L700.2 520.9L699.5 521.1L698.8 521.2L698.0 521.1L696.5 520.8L696.0 520.7L695.8 520.8L695.5 520.9L695.2 521.1L695.0 521.5L694.8 522.0L694.5 523.2L694.2 524.8L693.7 530.2L693.5 531.8L693.2 533.0L692.8 534.2L692.4 535.5L691.9 536.5L691.4 537.2L690.8 538.1L690.1 538.8L689.2 539.3L688.5 539.7L687.8 539.9L686.8 540.1L683.0 540.6L682.2 540.8L681.5 541.1L681.0 541.3L680.5 541.8L680.1 542.2L679.7 543.0L679.5 544.0L679.4 545.0L679.7 550.2L679.7 552.2L679.6 554.2L679.4 558.8L678.8 568.0L678.5 572.5L678.1 575.5L677.6 578.5L677.1 581.2L676.3 584.0L675.4 586.5L675.0 587.5L674.5 588.5L674.0 589.3L673.4 590.2L672.8 591.0L672.2 591.6L671.5 592.2L670.8 592.8L670.0 593.2L669.2 593.5L668.5 593.8ZM582.2 491.8L581.2 491.6L580.5 491.4L579.8 490.9L579.2 490.5L578.6 489.8L578.3 489.0L578.0 488.2L577.9 487.2L578.1 486.2L578.4 485.5L578.8 484.8L579.2 484.2L580.0 483.6L580.7 483.2L581.5 483.0L582.2 483.0L583.0 483.0L583.8 483.2L584.5 483.6L585.2 484.2L585.8 484.8L586.1 485.5L586.4 486.2L586.5 487.2L586.4 488.2L586.2 489.0L585.8 489.8L585.2 490.5L584.8 490.9L584.0 491.4L583.2 491.6L582.8 491.7ZM660.4 501.2L661.0 500.9L661.8 500.3L662.5 499.5L664.6 497.0L665.2 496.2L665.8 495.5L666.1 494.8L666.2 494.2L666.2 493.5L665.9 492.8L665.5 492.0L664.8 490.9L663.8 489.6L662.8 488.6L662.0 488.0L661.5 487.9L661.0 487.9L660.8 488.0L660.2 488.5L659.8 489.1L659.2 490.1L658.6 491.8L658.1 493.5L657.7 495.0L657.5 496.5L657.4 497.5L657.5 498.5L657.8 499.5L658.1 500.2L658.5 500.7L658.8 500.9L659.2 501.2L659.8 501.4L660.0 501.3ZM566.5 526.3L566.0 526.3L565.2 526.4L564.5 526.3L564.0 526.2L563.5 526.0L562.9 525.8L562.2 525.4L561.8 525.0L560.9 524.2L559.2 522.5L558.5 521.8L557.5 521.0L555.5 519.7L554.8 519.1L554.2 518.7L553.7 518.0L553.1 517.2L552.7 516.5L552.3 515.5L551.9 514.2L551.6 513.0L551.4 511.8L551.1 508.8L550.9 507.2L550.5 505.8L549.4 502.8L549.0 501.2L548.7 499.8L548.7 498.2L548.8 497.0L549.1 496.0L549.5 495.0L549.9 494.2L550.5 493.4L551.2 492.7L552.0 492.1L553.0 491.6L553.5 491.5L554.2 491.3L554.8 491.2L555.5 491.2L556.2 491.3L557.0 491.4L557.8 491.7L558.2 491.9L559.2 492.6L559.8 493.0L560.3 493.5L560.8 494.0L561.2 494.8L561.9 496.0L562.2 497.0L562.4 498.0L562.5 499.0L562.4 500.2L562.3 501.2L562.1 502.2L561.1 505.2L560.8 506.5L560.7 507.5L560.6 508.8L560.7 510.5L561.0 512.0L561.4 513.2L561.8 514.0L562.2 514.5L562.5 514.7L563.0 514.9L563.5 515.0L564.5 515.1L566.5 515.1L567.5 515.1L568.5 515.3L569.5 515.5L570.2 515.9L570.8 516.2L571.3 516.8L571.6 517.5L571.8 518.0L571.8 518.8L571.7 520.0L571.6 520.8L571.3 521.5L571.0 522.2L570.6 523.0L570.1 523.8L569.7 524.2L569.3 524.8L568.8 525.2L567.8 525.8L567.2 526.0ZM735.5 515.3L735.2 515.4L735.0 515.4L734.8 515.3L734.5 515.0L734.3 514.2L734.3 513.8L734.4 513.2L734.5 513.0L734.7 512.8L735.0 512.6L735.2 512.6L735.6 512.8L735.8 513.0L736.0 513.6L736.0 514.0L736.0 514.5L735.8 515.1ZM713.5 554.0L712.5 554.1L711.5 554.0L710.6 553.8L709.8 553.4L708.8 552.8L708.0 552.0L707.5 551.2L707.1 550.5L706.9 549.8L706.8 549.0L706.9 548.2L707.2 547.5L707.8 546.8L708.3 546.2L709.0 545.8L709.8 545.3L710.8 545.0L711.2 544.9L712.0 544.8L713.0 544.9L714.0 545.1L715.0 545.6L715.8 546.1L716.2 546.5L716.5 546.9L717.0 547.8L717.2 548.2L717.3 548.8L717.4 549.8L717.2 550.8L717.0 551.2L716.8 551.8L716.2 552.5L715.8 553.0L715.4 553.2L714.5 553.7ZM697.2 587.5L696.0 587.6L694.5 587.5L693.2 587.2L692.0 586.8L690.8 586.3L689.5 585.6L688.2 584.6L687.3 583.8L686.4 582.8L685.5 581.5L684.7 580.2L683.9 578.8L683.3 577.2L682.9 575.8L682.6 574.2L682.5 572.8L682.4 571.5L682.6 570.0L682.8 568.5L683.2 567.2L683.7 566.0L684.4 564.5L685.2 563.2L686.1 562.0L687.1 560.8L688.2 559.7L689.2 558.9L690.5 558.1L691.5 557.6L692.8 557.1L694.0 556.8L695.2 556.6L696.5 556.6L697.8 556.8L699.0 557.1L700.0 557.6L701.0 558.1L702.0 558.8L703.0 559.7L704.0 560.7L704.8 561.8L705.6 563.0L706.3 564.2L706.9 565.5L707.4 567.0L707.8 568.5L708.1 570.0L708.3 571.5L708.3 573.0L708.2 574.8L708.1 576.0L707.8 577.5L707.4 579.0L706.9 580.2L706.4 581.2L705.6 582.5L704.9 583.5L704.0 584.4L703.0 585.2L702.0 585.9L701.0 586.4L699.8 587.0L698.5 587.3ZM621.8 571.3L620.5 571.2L619.5 571.1L618.2 570.8L617.2 570.4L616.2 569.8L615.5 569.2L614.8 568.4L614.2 567.5L613.9 566.8L613.8 565.8L613.8 564.8L614.1 563.8L614.3 563.2L614.6 562.8L615.2 562.0L616.2 561.2L617.1 560.8L617.8 560.5L618.5 560.3L619.2 560.2L620.0 560.1L620.8 560.1L621.5 560.2L622.2 560.4L623.0 560.6L623.8 560.9L624.5 561.4L625.1 561.8L625.7 562.2L626.2 562.8L626.9 563.5L627.2 564.0L627.6 564.8L627.9 565.5L628.0 566.0L628.0 566.5L628.0 567.0L627.9 567.5L627.7 568.0L627.5 568.5L627.1 569.0L626.8 569.4L626.2 569.8L625.8 570.1L625.0 570.5L624.2 570.8L623.5 571.0L622.8 571.2ZM727.2 570.3L726.2 570.2L725.5 570.0L724.8 569.7L724.0 569.2L723.5 568.7L723.0 567.9L722.6 567.0L722.5 566.2L722.6 565.2L722.7 564.5L723.1 563.8L723.5 563.2L724.0 562.7L724.8 562.2L725.5 561.9L726.5 561.7L727.5 561.7L728.2 561.9L729.2 562.2L729.9 562.8L730.5 563.4L731.0 564.1L731.3 565.0L731.5 565.8L731.4 566.5L731.2 567.3L730.9 568.0L730.4 568.8L729.8 569.3L729.0 569.8L728.2 570.1ZM471.2 358.5L470.8 358.7L470.5 358.6L469.2 358.3L468.0 357.8L467.0 357.4L466.2 357.0L465.2 356.3L464.5 355.7L463.8 355.1L463.0 354.3L462.3 353.5L461.8 352.8L461.2 351.8L460.6 350.8L459.9 349.0L460.6 347.2L461.6 345.5L462.8 344.0L463.4 343.2L464.2 342.5L465.0 341.9L465.8 341.3L467.2 340.5L469.0 339.8L470.0 339.5L470.8 339.3L472.5 339.8L474.2 340.6L475.8 341.4L476.5 341.9L477.2 342.6L478.0 343.2L478.7 344.0L479.8 345.5L480.8 347.2L481.5 349.0L480.8 350.8L479.8 352.5L478.7 354.0L477.5 355.2L476.2 356.2L474.8 357.2L474.0 357.6L473.0 358.0ZM644.8 366.3L644.0 366.4L643.2 366.4L642.0 366.2L640.8 365.9L640.0 365.5L639.5 365.2L638.9 364.8L638.3 364.2L637.9 363.8L637.5 363.2L637.0 362.2L636.8 361.6L636.6 361.0L636.5 360.5L636.4 359.8L636.5 359.0L636.6 358.5L636.8 357.8L636.9 357.2L637.2 356.6L637.6 356.0L638.0 355.5L638.5 355.0L639.5 354.2L640.0 353.9L640.8 353.5L642.0 353.2L643.2 353.0L644.0 353.0L644.8 353.1L645.5 353.3L646.2 353.5L647.0 353.9L647.5 354.2L648.5 355.0L649.0 355.5L649.4 356.0L649.8 356.6L650.1 357.2L650.2 357.8L650.4 358.5L650.5 359.0L650.6 359.8L650.5 360.5L650.4 361.0L650.2 361.6L650.0 362.2L649.8 362.8L649.3 363.5L648.9 364.0L648.4 364.5L647.8 365.0L647.2 365.4L646.8 365.6L646.0 365.9ZM555.2 367.8L554.0 367.9L552.8 367.8L552.2 367.7L551.5 367.5L550.9 367.2L550.2 366.9L549.7 366.5L549.2 366.0L548.7 365.5L548.3 365.0L548.0 364.5L547.6 363.8L547.2 362.5L547.1 361.2L547.1 360.5L547.2 359.8L547.5 358.5L547.8 357.9L548.1 357.2L548.5 356.7L549.0 356.1L549.5 355.6L550.0 355.2L550.5 354.9L551.2 354.6L551.8 354.4L552.5 354.2L553.8 354.0L555.0 354.2L555.8 354.4L556.2 354.5L557.0 354.9L557.5 355.2L558.5 356.0L558.9 356.5L559.3 357.0L559.6 357.5L560.0 358.2L560.3 359.5L560.5 360.8L560.5 361.5L560.4 362.2L560.0 363.5L559.8 364.2L559.4 364.8L559.0 365.4L558.5 365.9L557.5 366.8L556.5 367.3L556.0 367.5ZM490.0 460.0L489.0 460.1L488.0 460.1L486.0 459.9L483.5 459.6L479.5 459.1L468.8 457.5L462.8 456.7L457.9 456.2L449.2 455.6L446.8 455.3L444.2 454.9L441.8 454.3L439.0 453.6L432.8 451.8L431.0 451.4L429.5 451.1L428.2 451.0L426.8 451.0L422.8 451.2L421.2 451.2L419.8 451.1L418.5 450.9L417.0 450.4L416.2 450.1L415.5 449.7L414.8 449.2L414.2 448.8L413.7 448.2L413.3 447.8L413.0 447.2L412.6 446.5L412.3 446.0L412.1 445.2L412.0 444.5L412.0 444.0L412.0 443.5L412.1 442.8L412.4 441.8L413.0 440.8L413.7 439.8L414.5 439.0L415.5 438.3L416.5 437.7L417.5 437.3L418.8 437.0L420.0 436.8L421.2 436.8L422.8 436.8L427.2 437.0L428.8 436.9L430.0 436.8L431.2 436.6L432.8 436.3L438.5 434.7L441.2 434.0L444.2 433.5L447.0 433.1L448.8 433.1L451.2 433.1L460.0 433.5L463.2 433.5L466.3 433.5L469.0 433.3L471.2 432.9L473.0 432.4L474.5 431.8L477.2 430.4L478.2 430.0L478.9 429.8L480.0 429.5L481.0 429.3L482.0 429.3L483.0 429.3L484.0 429.3L485.2 429.5L487.2 430.0L489.0 430.6L491.2 431.7L492.5 432.2L494.7 433.0L497.2 433.7L504.2 435.6L511.2 437.6L513.0 438.1L514.8 438.4L520.8 439.5L522.0 439.8L523.2 440.2L524.5 440.7L525.5 441.2L526.5 441.9L527.4 442.5L528.2 443.2L528.8 444.0L529.3 444.8L529.7 445.5L529.8 446.0L529.9 446.5L529.9 447.0L529.8 447.5L529.6 448.0L529.2 448.8L528.5 449.8L527.5 450.8L526.2 451.7L525.0 452.5L523.5 453.1L522.0 453.6L520.5 453.9L519.0 454.1L514.8 454.7L512.0 455.2L509.8 455.8L502.8 457.7L500.0 458.3L497.8 458.8L493.5 459.6ZM671.5 492.8L671.0 492.9L670.5 492.8L669.8 492.3L669.0 491.7L668.0 490.7L667.2 489.8L666.5 488.8L665.7 487.5L665.2 486.5L664.6 485.2L664.1 484.0L663.7 482.5L663.4 481.2L663.2 480.2L663.1 479.2L663.0 478.0L663.1 476.8L663.3 475.2L663.6 474.0L664.2 472.2L664.9 470.2L666.9 465.2L667.9 462.5L668.8 459.8L670.2 455.2L670.8 453.8L671.2 452.8L671.5 452.4L671.8 452.2L672.0 452.1L672.2 452.2L672.5 452.4L672.8 452.8L673.0 453.3L673.5 454.8L674.2 457.9L675.8 465.1L676.5 469.1L677.0 472.5L677.3 475.5L677.3 478.5L677.2 481.0L676.9 483.2L676.4 485.5L675.8 487.4L675.3 488.5L674.9 489.2L674.2 490.2L673.8 490.9L673.2 491.5L672.5 492.2L672.0 492.6ZM666.2 591.0L665.2 591.1L664.2 591.0L663.2 590.8L662.5 590.7L661.5 590.3L660.8 590.0L659.8 589.5L659.1 589.0L658.5 588.5L657.6 587.8L657.0 587.0L656.4 586.2L656.0 585.5L655.7 584.8L655.4 584.0L655.3 583.0L655.3 582.2L655.3 581.5L655.5 580.8L655.7 580.0L656.3 578.5L658.4 574.2L658.9 573.2L659.6 572.2L660.7 570.8L662.0 569.4L665.0 566.8L665.5 566.2L666.0 565.5L666.5 564.5L666.9 563.5L667.1 562.2L667.3 560.5L667.8 552.2L668.3 545.2L668.3 544.0L668.2 542.8L667.9 541.8L667.4 540.8L666.8 539.8L664.6 536.8L663.9 535.5L663.4 534.5L662.9 533.2L662.4 531.8L662.1 530.5L661.4 527.0L661.0 525.6L660.5 524.3L660.2 523.8L659.8 523.2L659.5 523.0L659.0 522.7L658.5 522.6L658.0 522.7L657.0 523.0L654.5 524.0L653.2 524.4L652.0 524.7L649.2 525.1L645.2 526.0L644.2 526.2L643.0 526.4L640.5 526.5L635.5 526.5L631.2 526.5L629.0 526.3L627.8 526.1L623.8 525.4L620.0 525.0L618.8 524.8L614.0 523.8L611.2 523.3L602.5 522.1L594.5 521.1L592.2 520.8L590.2 520.3L588.5 519.7L586.8 519.0L585.2 518.2L583.7 517.2L582.5 516.2L581.6 515.2L580.9 514.2L580.6 513.8L580.3 513.0L580.0 512.0L579.9 511.0L579.9 510.0L580.1 508.8L580.4 507.5L580.9 506.2L581.4 505.2L582.0 504.2L582.8 503.2L583.5 502.5L584.5 501.6L585.5 500.9L586.5 500.2L587.8 499.6L589.0 499.2L590.0 498.9L591.5 498.6L593.0 498.5L594.5 498.5L596.0 498.7L597.5 499.0L599.0 499.4L600.5 499.9L603.5 501.0L605.5 501.6L606.5 501.8L607.8 502.0L609.0 502.1L610.5 502.1L612.0 502.0L613.5 501.9L615.0 501.7L617.8 501.2L619.0 501.0L620.2 500.8L622.5 500.7L623.5 500.6L625.0 500.3L628.0 499.4L629.5 499.2L630.2 499.1L631.2 499.2L634.2 499.5L635.8 499.6L637.2 499.6L638.7 499.5L639.8 499.3L640.8 499.0L641.5 498.7L642.1 498.2L642.5 497.8L642.7 497.5L642.9 497.0L643.0 496.5L643.1 496.0L643.1 495.2L643.0 494.5L642.7 493.5L642.0 491.0L641.5 489.7L641.0 488.5L640.5 487.6L640.0 486.8L639.5 486.3L639.0 485.9L638.5 485.6L638.0 485.5L637.5 485.4L636.8 485.4L635.5 485.6L632.2 486.7L630.5 487.1L629.5 487.3L628.5 487.3L627.5 487.3L626.8 487.2L625.8 487.0L624.8 486.8L623.8 486.4L622.8 485.9L622.0 485.4L621.2 484.8L620.6 484.2L620.0 483.5L619.5 482.8L619.1 482.0L618.9 481.2L618.7 480.5L618.6 479.5L618.6 478.8L618.8 478.0L619.0 477.2L619.3 476.5L619.8 475.8L620.2 475.2L620.9 474.5L621.5 474.0L622.3 473.5L623.2 473.0L624.0 472.7L625.0 472.4L626.0 472.2L627.0 472.0L628.2 472.0L630.5 472.0L635.2 472.4L636.5 472.4L637.8 472.3L638.8 472.1L640.0 471.8L644.0 470.5L645.2 470.2L646.5 469.9L647.8 469.7L649.0 469.7L650.0 469.8L651.2 470.1L652.2 470.5L653.2 471.1L654.0 471.8L654.8 472.5L655.5 473.4L656.1 474.5L656.6 475.5L656.9 476.5L657.2 477.8L657.3 479.2L657.3 481.0L657.2 483.0L656.9 485.5L656.6 487.8L656.3 489.8L654.9 496.0L654.7 497.0L654.7 498.0L654.7 498.8L654.9 499.5L655.1 500.2L655.4 500.8L655.7 501.2L656.2 502.0L656.9 502.8L657.4 503.2L658.2 503.9L659.0 504.2L659.5 504.2L659.8 504.2L660.2 504.0L660.5 503.9L661.0 503.5L661.5 503.0L664.1 499.8L665.0 498.8L666.0 497.9L667.5 496.7L669.5 495.3L670.5 494.8L671.0 494.7L671.2 494.6L671.5 494.7L672.0 494.8L675.4 496.5L676.6 497.0L677.8 497.4L679.8 498.0L684.8 499.0L686.0 499.4L687.0 499.8L687.8 500.2L688.2 500.6L688.8 501.0L689.4 501.8L689.9 502.5L690.4 503.2L691.1 505.0L691.6 506.5L693.0 511.4L694.1 515.0L694.3 516.0L694.2 517.2L693.8 519.8L693.7 521.5L693.3 527.0L693.1 529.0L692.9 531.0L692.4 533.0L691.9 534.5L691.5 535.3L691.1 536.0L690.2 537.0L689.8 537.5L689.1 538.0L688.5 538.3L688.0 538.6L686.8 538.9L685.5 539.1L682.5 539.4L681.5 539.6L680.8 539.9L679.9 540.2L679.2 540.8L678.5 541.5L678.1 542.2L677.9 542.8L677.8 543.2L677.7 544.5L677.8 545.8L678.1 549.2L678.2 551.5L678.2 554.5L678.1 558.2L677.0 574.0L676.6 576.5L676.2 578.8L675.8 580.0L675.4 581.5L674.4 584.0L673.4 586.0L672.8 587.0L672.2 587.7L671.8 588.3L671.0 589.0L670.2 589.6L669.5 590.1L668.8 590.4L668.0 590.7L667.2 590.9ZM583.0 490.0L582.5 490.1L581.8 490.1L581.2 490.0L580.8 489.7L580.2 489.4L579.9 489.0L579.6 488.5L579.4 488.0L579.3 487.5L579.4 486.8L579.5 486.2L579.7 485.8L580.1 485.2L580.5 484.9L581.0 484.6L581.5 484.4L582.2 484.3L582.8 484.3L583.2 484.5L583.8 484.7L584.2 485.1L584.6 485.5L584.9 486.0L585.0 486.5L585.1 487.0L585.1 487.8L584.9 488.2L584.7 488.8L584.3 489.2L584.0 489.5L583.5 489.8ZM557.2 516.9L556.8 517.0L556.2 517.0L555.8 516.8L555.2 516.6L554.8 516.2L554.2 515.6L553.9 515.0L553.5 514.3L553.2 513.2L552.9 512.2L552.5 508.8L552.3 507.2L551.8 505.8L550.7 503.2L550.2 502.0L549.9 500.8L549.7 499.5L549.7 498.2L549.8 497.0L550.0 496.3L550.2 495.8L550.8 494.8L551.5 493.9L552.0 493.4L552.5 493.1L553.5 492.6L554.0 492.5L554.8 492.3L555.2 492.3L556.0 492.4L557.0 492.6L558.0 493.1L558.5 493.4L559.0 493.9L559.8 494.8L560.4 495.8L560.6 496.2L560.8 497.0L561.1 498.2L561.1 499.0L561.1 499.8L560.8 501.2L560.4 502.8L559.1 506.0L558.9 507.0L558.7 507.8L558.6 508.5L558.6 509.5L558.6 513.5L558.5 515.0L558.3 515.8L558.0 516.2L557.8 516.6ZM712.5 518.8L711.8 518.9L711.2 518.9L710.8 518.8L710.0 518.5L709.1 518.0L708.3 517.2L707.5 516.2L707.1 515.5L706.9 515.0L706.8 514.5L706.8 513.8L706.8 513.2L707.0 512.8L707.4 511.8L708.1 510.8L708.8 510.0L709.2 509.6L709.7 509.2L710.5 508.8L711.2 508.7L712.0 508.7L712.8 508.9L713.5 509.3L714.2 509.8L715.1 510.8L715.8 511.8L716.2 512.5L716.3 513.0L716.4 513.5L716.4 514.2L716.3 514.8L715.9 515.8L715.4 516.5L714.8 517.2L714.0 518.0L713.2 518.5ZM723.2 517.8L722.8 517.9L722.5 517.9L722.0 517.9L721.5 517.7L720.8 517.2L720.0 516.5L719.5 515.8L719.1 515.0L718.9 514.2L718.9 513.5L719.1 512.8L719.5 512.0L720.0 511.2L720.5 510.6L721.0 510.2L721.7 509.8L722.2 509.6L722.8 509.6L723.2 509.8L723.8 510.1L724.2 510.5L724.5 511.0L724.8 511.5L725.0 512.2L725.2 513.0L725.2 513.8L725.2 514.5L725.0 515.2L724.8 516.0L724.5 516.6L724.2 517.0L723.8 517.5ZM700.0 519.3L699.2 519.4L698.5 519.3L697.8 519.0L697.2 518.6L696.6 518.0L696.1 517.2L695.7 516.5L695.6 515.8L695.6 515.0L695.9 514.2L696.3 513.2L696.9 512.5L697.5 511.8L698.2 511.3L698.8 511.0L699.5 510.9L700.2 510.9L700.8 511.1L701.5 511.5L702.2 512.0L702.6 512.5L703.1 513.2L703.4 514.0L703.4 514.5L703.4 515.2L703.1 516.0L702.8 516.8L702.3 517.5L701.8 518.1L701.2 518.6L700.6 519.0ZM566.2 523.0L565.8 523.2L565.5 523.2L565.0 523.2L564.5 523.1L564.2 522.9L563.8 522.5L563.5 522.0L563.3 521.5L563.3 521.2L563.3 520.8L563.4 520.5L563.6 520.2L563.9 520.0L564.2 519.7L564.8 519.6L565.2 519.5L565.8 519.5L566.2 519.6L566.5 519.7L566.9 520.0L567.1 520.2L567.3 520.5L567.4 521.0L567.4 521.2L567.3 521.8L567.2 522.0L566.9 522.5L566.7 522.8ZM713.0 553.0L712.2 553.0L711.5 552.9L710.8 552.6L710.2 552.3L709.6 551.8L709.2 551.2L708.9 550.8L708.6 550.0L708.6 549.2L708.7 548.8L708.9 548.0L709.2 547.5L709.7 547.0L710.2 546.6L710.8 546.4L711.5 546.1L712.2 546.0L713.0 546.1L713.8 546.2L714.5 546.6L715.1 547.0L715.5 547.5L715.8 548.0L716.1 548.8L716.2 549.5L716.2 550.2L715.9 551.0L715.6 551.5L715.2 552.0L714.5 552.5L713.8 552.9ZM697.0 587.0L695.8 587.1L694.5 587.0L693.2 586.7L692.0 586.3L691.0 585.9L689.8 585.2L688.8 584.4L687.7 583.5L686.8 582.5L685.9 581.2L685.1 580.0L684.4 578.5L683.9 577.2L683.6 576.0L683.3 574.8L683.1 573.0L683.1 571.5L683.2 570.2L683.4 568.8L683.8 567.2L684.3 566.0L684.9 564.8L685.6 563.5L686.3 562.5L687.2 561.4L688.2 560.4L689.2 559.6L690.5 558.8L691.8 558.1L693.0 557.7L694.2 557.4L695.2 557.3L696.5 557.3L697.5 557.4L698.5 557.7L699.8 558.2L700.8 558.7L701.8 559.3L702.8 560.2L703.8 561.2L704.6 562.2L705.4 563.5L706.1 564.8L706.7 566.0L707.1 567.2L707.4 568.5L707.7 570.0L707.9 571.5L707.9 573.0L707.8 574.5L707.6 576.0L707.4 577.2L706.9 578.8L706.4 580.0L705.9 581.0L705.1 582.2L704.3 583.2L703.5 584.1L702.5 584.9L701.5 585.6L700.5 586.1L699.2 586.6L698.0 586.9ZM622.2 568.8L621.8 568.9L621.0 568.9L620.2 568.9L619.6 568.8L619.0 568.6L618.4 568.2L618.0 568.0L617.5 567.5L617.2 567.0L616.9 566.5L616.8 566.0L616.8 565.5L616.9 565.0L617.0 564.5L617.3 564.0L617.8 563.5L618.5 563.0L619.2 562.7L620.0 562.6L621.0 562.6L622.0 562.9L622.8 563.2L623.5 563.7L624.0 564.2L624.3 564.8L624.6 565.5L624.7 566.2L624.5 567.0L624.2 567.5L623.8 568.0L623.0 568.5ZM471.0 356.5L470.8 356.6L470.0 356.4L469.0 356.1L468.2 355.8L467.5 355.4L466.8 354.9L465.5 354.0L464.6 353.0L463.6 351.8L463.0 350.5L462.4 349.0L463.0 347.5L463.6 346.2L464.5 345.1L465.5 344.0L466.8 343.1L468.0 342.4L469.5 341.8L470.8 341.4L472.2 341.9L473.7 342.5L474.9 343.2L476.0 344.1L477.0 345.2L477.8 346.2L478.4 347.5L479.0 349.0L478.4 350.5L477.8 351.8L477.0 352.8L476.0 353.9L474.9 354.8L473.8 355.5L472.5 356.0ZM644.5 363.5L643.8 363.6L643.0 363.6L642.2 363.5L641.5 363.2L640.8 362.8L640.2 362.2L639.8 361.5L639.5 360.8L639.3 360.0L639.3 359.2L639.5 358.5L639.9 357.8L640.2 357.2L640.8 356.7L641.5 356.2L642.2 355.9L643.0 355.8L644.0 355.8L644.8 355.9L645.5 356.2L646.2 356.7L646.8 357.2L647.2 357.9L647.5 358.5L647.6 359.0L647.7 359.5L647.6 360.2L647.4 361.0L647.1 361.8L646.5 362.5L646.0 362.9L645.2 363.3ZM554.8 365.0L554.0 365.1L553.2 365.1L552.5 364.9L551.8 364.6L551.0 364.0L550.6 363.5L550.2 362.8L549.9 362.0L549.8 361.2L549.8 360.2L550.0 359.5L550.4 358.8L551.0 358.0L551.5 357.6L552.2 357.2L553.0 356.9L553.8 356.8L554.5 356.9L555.2 357.1L555.9 357.5L556.5 357.9L557.0 358.5L557.4 359.2L557.7 360.0L557.8 360.8L557.8 361.5L557.6 362.2L557.2 363.1L556.8 363.8L556.2 364.3L555.5 364.7ZM491.2 458.5L489.0 458.7L487.5 458.7L485.2 458.5L480.8 457.9L469.0 456.0L463.8 455.3L458.8 454.8L450.0 454.1L447.0 453.8L444.2 453.2L441.2 452.5L438.2 451.5L432.2 449.4L430.8 449.0L429.2 448.7L428.0 448.6L426.8 448.6L423.0 448.9L421.5 449.0L420.2 448.9L419.3 448.8L418.2 448.5L417.2 448.0L416.4 447.5L415.6 446.8L415.1 446.0L414.9 445.5L414.7 445.0L414.6 444.5L414.6 444.0L414.7 443.2L414.9 442.5L415.3 441.8L415.8 441.2L416.5 440.5L417.2 440.0L418.0 439.6L418.8 439.4L419.8 439.2L421.0 439.0L422.2 439.1L426.0 439.4L427.2 439.5L428.5 439.5L429.8 439.3L431.0 439.1L432.2 438.7L438.0 436.8L441.0 435.9L444.2 435.2L445.8 434.9L447.0 434.8L448.8 434.7L451.2 434.7L460.5 435.1L464.2 435.2L468.0 435.1L471.5 434.8L473.7 434.5L475.8 434.1L477.6 433.5L481.0 432.2L482.0 431.9L483.2 431.8L484.2 431.9L485.2 432.1L489.0 432.9L491.0 433.6L493.0 434.2L499.5 435.8L502.5 436.7L505.0 437.4L510.2 439.1L512.5 439.7L515.0 440.2L519.8 441.0L521.0 441.3L522.0 441.5L523.0 441.9L523.8 442.2L524.7 442.8L525.4 443.2L526.0 443.8L526.7 444.5L527.0 445.0L527.4 445.8L527.6 446.5L527.5 447.2L527.3 447.8L527.1 448.2L526.5 449.1L525.8 449.9L524.8 450.6L523.8 451.2L522.5 451.7L521.2 452.1L519.8 452.4L514.8 453.0L512.2 453.4L510.0 454.0L503.8 455.8L499.8 456.9L495.2 457.9ZM671.2 488.5L670.8 488.5L670.2 488.3L669.8 488.1L669.2 487.7L668.8 487.2L668.2 486.6L667.8 486.0L667.4 485.2L667.1 484.5L666.8 483.5L666.3 481.8L666.0 479.8L665.9 477.8L666.0 475.8L666.4 473.8L667.0 471.5L667.8 469.3L668.8 467.0L669.2 466.0L669.8 465.2L670.2 464.5L670.8 464.0L671.2 463.7L671.5 463.7L671.8 463.7L672.0 463.7L672.2 463.9L672.6 464.2L673.0 464.7L673.4 465.5L673.8 466.2L674.4 468.2L675.0 470.5L675.5 473.0L675.8 475.5L675.9 478.0L675.8 480.2L675.5 482.2L675.1 484.0L674.5 485.5L674.1 486.2L673.8 486.8L673.0 487.7L672.2 488.2L671.8 488.4ZM650.2 494.1L650.0 494.1L649.8 494.0L649.2 493.8L648.8 493.2L648.2 492.3L647.8 491.2L647.5 490.0L647.3 488.8L647.2 487.2L647.1 485.5L647.2 483.5L647.4 481.8L647.7 480.5L648.0 479.6L648.2 479.2L648.5 478.8L649.0 478.4L649.5 478.3L649.8 478.3L650.2 478.4L650.8 478.8L651.2 479.4L651.8 480.2L652.2 481.5L652.5 482.5L652.8 484.0L652.9 485.8L652.9 487.2L652.8 488.8L652.6 490.0L652.3 491.2L651.8 492.5L651.2 493.3L650.8 493.8ZM555.8 506.8L555.5 506.9L555.2 506.9L555.0 506.8L554.5 506.5L553.8 505.6L552.8 504.2L552.0 502.9L551.4 501.5L551.0 500.2L550.9 499.0L550.9 498.0L551.1 497.0L551.5 496.0L552.0 495.3L552.5 494.7L553.2 494.2L554.0 493.9L554.5 493.8L555.0 493.7L555.5 493.7L556.0 493.8L556.8 494.0L557.5 494.5L558.1 495.0L558.8 495.7L559.2 496.5L559.5 497.5L559.6 498.5L559.6 499.5L559.5 500.5L559.2 501.5L558.8 502.6L558.0 504.0L557.0 505.5L556.2 506.5ZM667.5 586.0L666.8 586.1L665.8 586.1L665.0 586.0L664.2 585.8L663.5 585.5L662.8 585.0L662.2 584.6L661.8 584.1L661.3 583.5L660.9 582.8L660.6 582.0L660.3 581.0L660.1 580.0L659.9 579.0L659.9 578.0L659.9 577.0L660.1 575.5L660.4 574.2L661.0 573.0L661.7 571.8L662.6 570.8L663.5 569.8L664.5 569.0L666.5 567.5L667.4 566.8L667.8 566.2L668.2 565.8L668.4 565.2L668.7 564.5L668.9 563.5L669.1 562.0L669.3 555.8L669.5 552.2L669.8 549.2L670.5 545.2L670.5 544.2L670.5 543.5L670.4 542.8L670.2 542.2L669.9 541.5L669.6 541.0L668.8 540.0L666.8 537.7L665.8 536.5L664.9 535.2L664.3 534.0L663.7 532.5L663.2 530.8L662.8 529.2L662.1 525.2L661.6 523.2L661.2 522.2L660.8 521.2L660.5 520.8L660.0 520.2L659.7 520.0L659.2 519.8L659.0 519.7L658.5 519.8L657.8 520.1L655.8 521.3L655.0 521.8L654.2 522.1L653.5 522.3L652.8 522.5L652.0 522.5L649.8 522.5L648.8 522.6L647.8 522.8L645.2 523.5L644.0 523.7L643.0 523.8L642.0 523.7L638.2 523.3L636.5 523.2L634.5 523.3L631.2 523.7L629.8 523.7L628.0 523.6L625.2 523.0L624.0 522.8L623.0 522.8L620.5 522.9L619.0 522.8L617.5 522.5L614.0 521.6L612.0 521.3L606.8 520.7L602.0 520.1L595.0 519.6L593.5 519.4L592.0 519.1L590.5 518.7L589.0 518.2L587.5 517.5L586.2 516.7L585.2 515.9L584.2 515.0L583.5 514.0L583.1 513.2L582.9 512.8L582.5 511.8L582.3 510.5L582.4 509.2L582.6 508.0L583.0 506.8L583.6 505.5L584.4 504.2L585.3 503.2L586.1 502.5L587.0 501.8L587.8 501.4L588.8 500.9L589.8 500.5L590.8 500.2L591.8 500.1L593.0 499.9L594.0 499.9L595.2 500.0L596.5 500.3L597.8 500.6L599.8 501.3L603.8 503.1L604.8 503.4L605.5 503.6L606.8 503.9L608.0 504.1L609.8 504.3L611.2 504.4L612.8 504.3L614.0 504.2L615.0 504.0L617.5 503.3L619.0 503.1L620.5 503.1L623.0 503.2L624.0 503.2L625.0 503.0L627.5 502.1L628.2 502.0L629.0 501.8L630.0 501.8L631.0 501.9L632.0 502.2L634.0 502.8L635.0 503.0L636.2 503.2L637.5 503.2L638.5 503.1L639.5 503.0L643.0 502.3L646.6 501.8L648.8 501.3L649.5 501.2L650.0 501.2L650.8 501.3L651.5 501.6L652.2 501.9L653.0 502.3L654.0 503.0L655.0 503.7L657.2 505.8L658.0 506.4L658.8 506.9L659.2 507.0L659.5 507.0L659.8 507.0L660.2 506.7L661.0 506.1L661.8 505.1L663.3 502.8L664.2 501.5L665.2 500.3L666.2 499.4L667.5 498.5L668.8 497.9L669.5 497.6L670.2 497.4L671.5 497.3L672.5 497.3L673.8 497.5L678.7 498.8L683.2 499.6L684.8 499.9L686.0 500.3L686.9 500.8L687.8 501.3L688.5 502.0L689.1 502.8L689.7 503.8L690.3 505.0L690.8 506.2L691.2 507.8L691.7 510.0L692.2 512.5L692.5 514.5L692.6 516.2L692.7 518.2L692.6 525.5L692.6 527.2L692.4 529.0L692.2 530.5L691.9 531.8L691.6 532.8L691.3 533.5L690.7 534.8L690.2 535.4L689.8 536.0L689.2 536.5L688.8 536.9L687.8 537.4L686.5 537.8L685.2 538.0L682.5 538.2L681.5 538.4L680.2 538.7L679.3 539.0L678.8 539.3L678.0 539.7L677.0 540.5L676.4 541.2L676.0 541.8L675.8 542.2L675.6 542.8L675.5 543.2L675.5 544.2L675.6 545.5L676.1 548.8L676.3 550.5L676.5 553.0L676.5 555.5L676.4 557.8L676.3 560.0L675.6 567.2L675.5 573.8L675.4 575.0L675.2 576.2L674.8 578.0L674.1 579.8L673.8 580.6L673.2 581.5L672.2 583.0L671.2 584.1L670.8 584.5L670.0 585.1L669.5 585.3L668.8 585.7L668.2 585.8ZM712.5 516.8L712.0 516.9L711.5 517.0L711.0 516.9L710.5 516.7L710.0 516.3L709.5 515.8L709.2 515.2L709.0 514.5L709.0 514.0L709.0 513.2L709.2 512.5L709.5 512.0L709.8 511.5L710.2 511.1L710.8 510.8L711.2 510.6L711.8 510.6L712.2 510.7L712.8 511.0L713.0 511.1L713.4 511.5L713.7 512.0L713.9 512.5L714.1 513.0L714.2 513.8L714.2 514.2L714.1 514.8L713.9 515.2L713.6 515.8L713.2 516.2L712.9 516.5ZM722.8 514.8L722.5 514.9L722.2 514.9L722.0 514.8L721.8 514.3L721.7 514.0L721.7 513.5L721.8 513.2L721.9 513.0L722.0 512.8L722.2 512.7L722.5 512.6L722.8 512.7L723.0 512.9L723.2 513.5L723.2 514.0L723.2 514.2L723.0 514.6ZM699.8 515.9L699.5 515.9L699.2 515.9L699.0 515.6L698.9 515.2L698.9 515.0L699.0 514.6L699.2 514.3L699.5 514.2L699.8 514.2L700.0 514.4L700.2 514.8L700.2 515.0L700.2 515.2L700.1 515.5L700.0 515.7ZM713.2 551.5L712.5 551.6L712.0 551.5L711.8 551.4L711.4 551.2L711.1 551.0L710.8 550.6L710.6 550.2L710.5 550.0L710.4 549.5L710.5 549.0L710.6 548.8L710.8 548.5L711.0 548.2L711.2 548.0L711.8 547.7L712.2 547.6L712.8 547.6L713.5 547.8L713.9 548.0L714.2 548.2L714.5 548.7L714.6 549.0L714.7 549.2L714.7 549.8L714.6 550.2L714.5 550.5L714.2 550.9L714.0 551.1L713.8 551.3ZM696.8 586.5L695.5 586.5L694.2 586.4L693.0 586.1L692.0 585.8L690.8 585.2L689.8 584.6L688.8 583.8L687.9 583.0L687.0 582.0L686.1 580.8L685.4 579.5L684.9 578.5L684.4 577.2L684.1 576.0L683.8 574.5L683.6 573.0L683.6 571.5L683.7 570.2L683.9 569.0L684.3 567.5L684.8 566.2L685.4 565.0L686.1 563.8L686.8 562.8L687.6 561.8L688.5 560.9L689.5 560.1L690.5 559.4L691.5 558.9L692.8 558.4L694.0 558.1L695.2 557.9L696.2 557.9L697.5 558.1L698.8 558.4L699.8 558.8L700.8 559.3L701.8 560.0L702.8 560.9L703.6 561.8L704.4 562.8L705.1 563.8L705.6 564.8L706.3 566.2L706.8 567.8L707.1 569.0L707.4 570.5L707.5 571.8L707.5 573.2L707.4 574.5L707.2 576.0L706.9 577.2L706.4 578.8L705.9 580.0L705.3 581.0L704.6 582.0L703.8 583.0L703.1 583.8L702.2 584.4L701.2 585.1L700.2 585.6L699.0 586.1L697.8 586.4ZM471.2 354.0L470.8 354.2L469.8 353.9L468.5 353.3L467.5 352.6L466.8 351.9L466.0 351.0L465.4 350.0L465.1 349.0L465.4 348.0L466.0 347.0L466.6 346.2L467.2 345.6L468.0 345.0L468.8 344.5L469.8 344.1L470.8 343.8L471.8 344.1L472.8 344.6L473.5 345.1L474.2 345.7L475.0 346.5L475.6 347.2L476.0 348.0L476.3 349.0L476.0 350.0L475.6 350.8L475.0 351.5L474.5 352.1L473.8 352.8L473.0 353.3L472.2 353.7ZM489.8 457.3L489.0 457.3L487.5 457.2L485.5 457.0L483.0 456.7L479.0 456.1L468.3 454.2L463.1 453.5L458.2 453.0L449.0 452.2L447.0 451.9L445.8 451.7L443.0 450.9L440.3 450.0L437.9 449.0L435.5 447.8L434.2 447.0L433.5 446.5L432.9 446.0L432.4 445.5L432.0 445.0L431.7 444.5L431.6 444.0L431.6 443.8L431.7 443.5L432.1 443.0L432.6 442.5L433.6 441.8L435.6 440.5L437.5 439.5L439.5 438.7L441.8 437.9L444.0 437.2L446.2 436.8L447.8 436.6L450.2 436.6L453.0 436.6L461.8 437.0L464.8 437.0L467.8 436.9L470.8 436.7L473.8 436.5L476.5 436.1L481.8 435.4L483.8 435.1L486.0 435.0L488.2 435.0L489.2 435.1L492.0 435.6L496.0 436.5L499.2 437.4L503.2 438.6L510.2 441.1L512.8 441.8L515.0 442.3L519.0 442.9L520.8 443.3L522.0 443.8L522.8 444.2L523.2 444.5L524.0 445.2L524.4 445.8L524.6 446.2L524.6 446.5L524.6 446.8L524.5 447.2L524.2 447.8L523.8 448.4L523.2 448.9L522.5 449.4L521.8 449.7L521.0 450.0L520.0 450.3L519.0 450.4L514.8 450.9L512.5 451.3L511.2 451.6L509.8 452.1L503.0 454.4L499.2 455.4L496.8 456.0L494.2 456.6L492.0 457.0ZM671.8 483.0L671.2 483.1L670.8 483.0L670.2 482.6L669.8 482.0L669.5 481.5L669.2 480.5L669.0 479.5L668.9 478.5L668.9 477.5L669.0 476.2L669.2 475.0L669.5 474.1L669.9 473.2L670.2 472.6L670.8 472.1L671.0 472.0L671.2 471.9L671.5 471.9L671.7 472.0L672.0 472.2L672.5 472.8L672.8 473.3L673.0 474.0L673.3 475.0L673.5 476.2L673.5 477.2L673.5 478.2L673.5 479.2L673.3 480.2L673.1 481.0L672.8 481.8L672.5 482.3L672.1 482.8ZM555.5 502.5L555.0 502.5L554.5 502.4L554.0 502.0L553.8 501.8L553.4 501.2L553.0 500.5L552.8 499.8L552.7 499.2L552.7 498.5L552.8 498.0L553.0 497.5L553.3 497.0L553.5 496.7L554.0 496.3L554.5 496.1L555.0 496.0L555.5 496.0L556.0 496.1L556.5 496.4L556.8 496.6L557.1 497.0L557.4 497.5L557.5 498.0L557.7 498.8L557.7 499.2L557.5 500.0L557.3 500.8L557.0 501.2L556.7 501.8L556.2 502.2L556.0 502.3ZM674.0 539.8L673.5 539.9L673.0 540.0L672.2 539.9L671.2 539.5L670.2 538.9L668.8 537.8L667.5 536.7L666.4 535.5L665.6 534.2L665.2 533.5L664.7 532.5L664.4 531.5L664.1 530.5L663.7 528.5L662.8 523.2L662.5 522.0L662.0 520.3L661.2 518.3L660.5 516.7L660.0 516.0L659.8 515.7L659.5 515.6L659.2 515.6L659.0 515.7L658.8 515.9L658.2 516.4L656.6 518.5L655.5 519.5L655.0 519.9L654.2 520.3L653.8 520.5L653.0 520.6L652.5 520.7L651.8 520.7L649.8 520.3L649.2 520.2L648.8 520.3L648.2 520.3L647.8 520.5L646.0 521.2L645.0 521.5L644.2 521.7L643.2 521.8L642.5 521.7L641.8 521.6L640.8 521.3L638.2 520.5L637.2 520.3L636.5 520.3L635.8 520.3L635.0 520.4L634.2 520.6L631.5 521.4L630.8 521.5L630.0 521.6L629.0 521.6L628.0 521.4L625.2 520.7L624.2 520.5L623.2 520.5L620.5 521.0L619.8 521.0L619.0 521.0L618.2 520.8L617.5 520.6L616.8 520.4L614.2 519.3L613.2 519.0L612.5 518.9L611.2 518.8L608.2 518.8L606.8 518.7L605.5 518.6L602.5 518.0L601.2 517.9L596.8 517.9L594.8 517.8L593.5 517.6L592.2 517.4L591.0 517.0L590.0 516.7L588.5 515.9L587.8 515.5L587.2 515.0L586.6 514.5L586.1 514.0L585.8 513.5L585.3 512.8L585.0 512.2L584.8 511.5L584.6 510.8L584.5 510.0L584.5 509.2L584.6 508.5L584.9 507.2L585.5 506.0L586.0 505.2L586.4 504.8L587.3 503.8L588.5 502.9L589.8 502.3L590.5 502.0L591.2 501.8L592.8 501.6L594.2 501.5L595.0 501.6L596.0 501.8L597.0 502.0L598.0 502.4L599.8 503.1L602.8 504.7L603.5 505.1L604.2 505.3L605.2 505.5L608.2 506.0L611.2 506.6L612.2 506.7L613.2 506.7L614.0 506.6L614.8 506.3L616.7 505.5L617.5 505.2L618.2 505.0L619.0 504.9L619.8 504.8L620.5 504.9L623.2 505.4L623.8 505.5L624.2 505.4L625.2 505.1L627.0 504.3L627.8 504.0L628.5 503.8L629.2 503.7L630.2 503.8L631.2 504.0L632.2 504.4L634.2 505.4L635.0 505.7L636.0 506.0L636.8 506.1L637.5 506.1L638.2 505.9L639.0 505.7L641.5 504.9L642.5 504.7L643.2 504.6L644.0 504.6L645.0 504.6L647.5 505.1L648.2 505.2L649.2 505.1L651.2 504.7L652.0 504.7L652.5 504.7L653.0 504.9L653.8 505.1L654.5 505.6L655.2 506.2L656.0 506.9L656.7 507.8L658.8 510.6L659.0 510.8L659.2 511.0L659.5 511.0L659.8 511.0L660.0 510.8L660.2 510.5L660.8 509.8L661.5 508.5L663.6 504.5L664.4 503.2L665.1 502.2L666.0 501.3L667.0 500.4L668.0 499.8L669.0 499.4L670.0 499.1L671.0 498.9L672.2 498.8L673.5 498.9L675.0 499.2L679.0 499.9L683.0 500.6L684.2 500.8L685.2 501.1L686.2 501.6L687.2 502.2L688.1 503.0L688.8 503.9L689.3 505.0L689.8 506.2L690.3 507.8L690.7 509.5L691.1 512.2L691.5 515.2L691.7 518.5L691.8 523.0L691.8 525.8L691.7 528.0L691.4 530.0L691.1 531.5L690.8 532.5L690.4 533.2L690.0 534.0L689.6 534.5L689.2 535.0L688.6 535.5L688.0 535.9L687.5 536.2L686.5 536.6L685.5 536.8L684.5 536.9L681.5 537.1L680.5 537.3L679.5 537.5L678.7 537.8L677.8 538.1L675.0 539.4ZM696.5 586.0L695.5 586.0L694.2 585.9L693.0 585.6L692.0 585.2L691.0 584.8L690.0 584.1L689.0 583.4L688.1 582.5L687.2 581.5L686.5 580.5L685.9 579.5L685.3 578.2L684.9 577.0L684.5 575.8L684.3 574.5L684.1 573.0L684.1 571.5L684.3 570.0L684.5 568.8L684.9 567.5L685.3 566.2L685.9 565.0L686.5 564.0L687.2 563.0L688.0 562.1L688.9 561.2L689.8 560.5L690.8 559.9L691.8 559.4L693.0 558.9L694.2 558.6L695.2 558.5L696.5 558.5L697.5 558.7L698.5 558.9L699.5 559.3L700.5 559.8L701.5 560.5L702.4 561.2L703.2 562.1L704.2 563.2L704.8 564.2L705.4 565.2L705.9 566.5L706.4 567.8L706.7 569.0L706.9 570.2L707.1 571.8L707.1 573.0L707.0 574.5L706.7 576.0L706.4 577.2L706.1 578.2L705.6 579.5L705.0 580.5L704.4 581.5L703.6 582.5L702.8 583.2L702.0 583.9L701.0 584.6L700.0 585.1L698.8 585.6L697.5 585.9ZM668.2 581.8L667.5 581.8L666.8 581.8L666.0 581.6L665.5 581.5L664.8 581.1L664.2 580.8L663.8 580.4L663.2 579.8L662.8 579.2L662.5 578.7L662.2 578.0L662.0 577.2L661.9 576.8L661.9 576.0L661.9 575.2L662.1 574.5L662.3 573.8L662.5 573.2L663.1 572.2L664.0 571.2L665.0 570.4L665.8 569.9L666.5 569.4L668.8 568.4L670.5 567.8L671.0 567.7L671.5 567.7L672.0 567.9L672.2 568.1L672.6 568.5L673.1 569.5L673.5 570.8L673.8 572.2L673.8 573.5L673.8 574.8L673.6 576.0L673.2 577.2L672.8 578.2L672.2 579.2L671.6 580.0L670.8 580.7L670.0 581.2L669.2 581.5ZM470.8 351.0L470.5 351.0L470.1 350.8L469.4 350.2L468.9 349.8L468.5 349.0L468.9 348.2L469.4 347.8L470.1 347.2L470.5 347.0L470.8 347.0L471.5 347.3L472.0 347.8L472.5 348.3L472.9 349.0L472.5 349.7L472.0 350.2L471.5 350.7ZM491.0 455.5L489.5 455.7L488.8 455.7L487.0 455.6L485.0 455.4L480.0 454.6L468.8 452.4L463.8 451.6L458.5 450.9L449.8 450.1L447.0 449.7L445.2 449.2L443.4 448.5L441.8 447.8L440.5 446.9L439.7 446.2L439.1 445.5L438.8 445.0L438.7 444.5L438.6 444.0L438.7 443.8L438.9 443.2L439.2 442.8L439.5 442.4L440.3 441.8L441.5 441.0L442.8 440.4L444.2 439.8L445.8 439.3L447.0 439.1L448.5 438.9L450.5 438.9L461.0 439.1L464.0 439.1L466.8 439.0L469.8 438.8L473.0 438.5L484.5 437.1L487.0 436.9L489.0 436.9L491.8 437.3L495.2 438.1L498.5 439.0L501.5 439.9L503.7 440.8L505.8 441.6L512.2 444.7L516.2 446.2L516.5 446.5L516.3 446.8L515.9 447.0L512.2 448.4L505.8 451.2L504.0 452.0L502.0 452.7L499.2 453.6L496.5 454.4L493.5 455.1ZM674.5 537.5L673.2 537.7L672.2 537.6L671.2 537.4L670.0 536.8L668.8 536.0L667.8 535.1L667.0 534.2L666.2 533.0L665.8 532.2L665.4 531.2L665.1 530.2L664.9 529.2L664.6 527.8L663.8 522.5L663.3 520.5L662.4 516.8L662.2 515.5L662.1 514.5L662.0 513.2L662.1 512.2L662.3 511.0L662.6 509.8L663.1 508.2L663.8 506.8L664.4 505.5L665.1 504.2L665.8 503.4L666.5 502.6L667.2 501.9L668.0 501.4L668.8 501.0L669.8 500.6L670.5 500.4L671.5 500.3L673.0 500.3L674.5 500.4L683.0 501.8L684.2 502.1L685.2 502.5L686.0 502.9L686.8 503.4L687.5 504.2L688.1 505.0L688.7 506.2L689.2 507.5L689.6 509.0L689.9 511.0L690.2 513.0L690.5 515.8L690.8 519.8L690.9 523.0L691.0 525.2L690.9 527.2L690.6 529.2L690.3 530.8L689.8 532.1L689.1 533.2L688.5 534.0L687.8 534.6L687.0 535.0L686.0 535.4L685.2 535.5L684.5 535.6L681.2 535.9L679.8 536.0L678.2 536.4L675.5 537.3ZM644.5 519.8L643.8 519.9L643.0 519.9L642.2 519.8L641.5 519.5L640.9 519.2L640.2 518.9L637.8 517.1L637.0 516.7L636.5 516.7L636.0 516.7L635.2 517.0L634.5 517.4L632.8 518.5L631.5 519.2L630.8 519.4L630.2 519.6L629.2 519.6L628.5 519.5L627.8 519.3L627.0 519.0L625.2 518.1L624.8 518.0L624.2 517.9L623.8 517.9L623.2 518.1L621.5 518.8L620.5 519.1L619.5 519.2L618.5 519.1L617.6 518.8L616.8 518.3L616.0 517.8L614.0 516.0L613.5 515.7L613.0 515.6L612.5 515.6L612.0 515.7L610.0 516.4L609.0 516.7L608.0 516.9L607.2 516.9L606.2 516.8L605.2 516.6L604.5 516.4L602.5 515.6L601.8 515.4L601.2 515.3L600.2 515.3L597.5 515.7L596.0 515.8L594.5 515.8L593.0 515.5L591.5 515.1L590.2 514.5L589.7 514.2L589.1 513.8L588.2 513.0L587.9 512.5L587.6 512.0L587.2 511.3L587.1 510.8L586.9 509.8L586.9 509.2L587.0 508.5L587.3 507.5L587.8 506.5L588.5 505.6L589.2 505.0L590.2 504.3L591.2 503.9L592.5 503.6L593.8 503.5L594.8 503.6L595.8 503.7L596.8 504.0L597.5 504.3L598.9 505.0L601.5 506.7L602.5 507.2L603.0 507.3L603.5 507.4L606.5 507.4L607.5 507.5L608.2 507.7L609.0 507.9L609.8 508.2L612.2 509.7L612.8 509.9L613.0 509.9L613.5 509.9L614.0 509.7L614.5 509.3L616.1 508.0L616.8 507.5L617.6 507.0L618.5 506.7L619.2 506.6L619.8 506.6L620.2 506.6L621.2 506.9L623.2 507.8L623.8 507.9L624.2 507.9L624.8 507.7L625.2 507.5L626.8 506.4L627.5 506.0L628.5 505.6L629.2 505.5L629.8 505.5L630.2 505.6L631.0 505.8L631.5 506.1L632.2 506.5L632.8 507.0L634.5 508.5L635.2 509.1L636.0 509.5L636.5 509.6L637.0 509.6L637.8 509.3L638.5 508.9L640.1 507.8L641.0 507.2L642.0 506.8L643.0 506.6L644.0 506.5L645.0 506.7L646.0 507.1L647.5 507.8L648.2 508.0L648.8 508.0L649.2 507.9L651.2 507.0L651.8 506.8L652.2 506.8L653.0 506.8L653.5 507.0L654.0 507.2L654.5 507.6L655.0 508.1L655.4 508.5L655.8 509.1L656.1 509.8L656.6 511.0L656.8 511.8L656.9 512.5L656.9 513.2L656.9 514.0L656.6 515.2L656.4 515.8L656.0 516.5L655.3 517.5L654.8 518.1L654.0 518.6L653.5 518.8L652.8 518.9L652.2 518.9L651.8 518.8L651.0 518.6L649.5 517.9L649.0 517.8L648.5 517.8L647.8 518.1L646.2 519.0L645.5 519.4ZM697.8 585.3L696.8 585.4L695.5 585.5L694.5 585.4L693.2 585.1L692.2 584.8L691.2 584.3L690.2 583.7L689.2 582.9L688.5 582.2L687.7 581.2L686.9 580.2L686.2 579.0L685.7 577.8L685.3 576.8L684.9 575.2L684.7 574.0L684.6 572.8L684.7 571.2L684.8 570.0L685.0 568.8L685.4 567.5L685.9 566.2L686.4 565.2L687.1 564.0L687.9 563.0L688.8 562.1L689.5 561.4L690.5 560.7L691.5 560.1L692.5 559.7L693.5 559.4L694.8 559.1L695.8 559.1L696.8 559.1L697.8 559.3L698.8 559.6L699.8 560.0L700.8 560.6L701.8 561.3L702.5 562.0L703.2 562.8L704.0 563.8L704.6 564.8L705.1 565.8L705.7 567.0L706.1 568.2L706.3 569.5L706.5 570.8L706.6 572.0L706.6 573.2L706.5 574.5L706.3 575.8L706.1 576.8L705.7 578.0L705.1 579.2L704.6 580.2L703.9 581.2L703.2 582.0L702.5 582.8L701.5 583.6L700.8 584.1L699.8 584.6L698.8 585.0ZM668.8 579.1L668.0 579.2L667.5 579.2L667.0 579.2L666.5 579.1L666.0 578.9L665.3 578.5L664.7 578.0L664.2 577.2L663.9 576.5L663.8 576.0L663.7 575.5L663.8 575.0L663.8 574.5L664.1 573.8L664.5 573.0L665.2 572.2L666.0 571.6L666.8 571.2L667.8 570.9L668.8 570.8L669.5 570.9L670.0 571.0L670.5 571.3L671.0 571.8L671.3 572.2L671.6 573.0L671.8 573.8L671.9 574.5L671.8 575.2L671.6 576.0L671.3 576.8L671.0 577.3L670.5 577.9L670.0 578.4L669.5 578.8ZM490.8 453.8L489.2 454.0L488.5 454.0L486.2 453.8L483.5 453.4L481.0 452.9L478.0 452.3L467.5 449.8L463.0 448.8L459.0 448.1L452.0 447.1L449.8 446.7L448.8 446.5L448.0 446.2L447.5 446.0L447.0 445.7L446.6 445.2L446.4 444.8L446.3 444.2L446.4 444.0L446.5 443.8L446.7 443.5L447.0 443.2L447.2 443.1L448.4 442.8L449.8 442.5L452.2 442.4L460.2 442.2L462.5 442.1L464.8 441.9L467.2 441.6L470.2 441.2L480.0 439.6L483.5 439.1L486.8 438.8L489.0 438.7L490.0 438.8L491.5 439.1L494.8 439.9L497.8 440.8L500.5 441.8L503.0 443.0L504.0 443.6L505.0 444.2L505.7 444.8L506.3 445.2L506.7 445.8L507.0 446.2L507.1 446.5L506.9 447.0L506.5 447.5L505.7 448.2L505.0 448.8L504.0 449.3L502.8 450.0L501.8 450.5L499.3 451.5L496.5 452.4L493.5 453.2ZM675.0 535.5L673.8 535.7L672.5 535.7L671.5 535.5L670.5 535.1L669.5 534.5L668.6 533.8L667.9 533.0L667.2 532.0L666.8 531.2L666.5 530.5L666.2 529.5L665.9 528.5L665.6 527.0L664.9 522.5L663.8 517.2L663.5 515.2L663.4 514.0L663.5 512.8L663.6 511.5L663.8 510.5L664.1 509.2L664.6 508.0L665.1 506.8L665.7 505.8L666.2 505.0L666.8 504.2L667.5 503.5L668.2 503.0L669.0 502.5L669.8 502.2L670.5 502.0L671.5 501.8L673.0 501.8L674.5 501.9L681.8 503.1L683.0 503.3L684.0 503.6L684.8 504.0L685.5 504.4L686.2 505.0L686.9 505.8L687.5 506.8L687.9 507.8L688.3 509.0L688.7 510.5L688.9 512.2L689.2 514.2L689.8 522.0L689.9 524.2L689.9 526.0L689.8 527.8L689.5 529.2L689.3 530.0L689.0 530.8L688.5 531.8L687.9 532.5L687.2 533.1L686.5 533.6L685.5 533.9L684.8 534.1L684.0 534.2L681.0 534.3L679.5 534.5L678.0 534.8ZM595.8 512.8L595.0 512.8L594.5 512.8L594.0 512.7L593.2 512.5L592.5 512.2L592.1 512.0L591.8 511.7L591.3 511.2L591.0 510.8L590.9 510.5L590.8 510.0L590.8 509.5L590.9 509.0L591.1 508.5L591.5 508.0L591.8 507.8L592.5 507.3L593.2 507.0L594.0 506.9L595.0 506.9L595.8 507.0L596.8 507.4L597.5 507.9L598.1 508.5L598.5 509.0L598.8 509.8L598.9 510.2L598.9 510.5L598.7 511.0L598.6 511.2L598.2 511.6L597.8 512.0L597.5 512.2L596.8 512.5ZM630.5 517.3L629.8 517.5L629.0 517.4L628.2 517.2L627.4 516.8L626.6 516.0L625.8 515.0L625.3 514.2L625.1 513.8L624.9 513.0L624.8 512.8L624.9 512.2L625.2 511.5L625.7 510.5L626.3 509.5L627.0 508.7L627.8 508.1L628.3 507.8L629.0 507.5L629.8 507.5L630.5 507.7L631.2 508.2L631.8 508.7L632.4 509.5L632.8 510.2L633.1 511.0L633.4 512.0L633.4 512.8L633.3 513.5L633.2 514.2L632.8 515.0L632.4 515.8L631.8 516.5L631.1 517.0ZM620.2 517.1L619.5 517.2L619.0 517.1L618.2 516.9L617.7 516.5L617.2 516.0L616.6 515.2L616.3 514.5L616.0 513.5L616.0 512.5L616.1 511.8L616.4 511.0L616.8 510.2L617.4 509.5L618.0 509.0L618.5 508.7L619.2 508.5L619.8 508.5L620.5 508.7L621.2 509.2L621.8 509.6L622.3 510.2L623.0 511.2L623.4 512.0L623.6 512.8L623.5 513.2L623.4 513.8L622.9 514.8L622.3 515.5L621.9 516.0L621.3 516.5L620.8 516.9ZM643.8 518.0L643.0 518.0L642.2 517.8L641.5 517.3L640.9 516.8L640.3 516.0L639.9 515.2L639.6 514.2L639.5 513.5L639.6 512.5L639.8 511.8L640.2 510.8L640.8 510.0L641.2 509.5L642.0 508.9L642.8 508.6L643.5 508.5L644.2 508.6L644.8 508.8L645.5 509.2L646.2 509.8L646.8 510.5L647.5 511.5L647.8 512.2L647.9 512.5L648.0 513.0L647.9 513.8L647.6 514.5L647.0 515.5L646.3 516.5L645.8 517.1L645.0 517.6L644.5 517.8ZM653.5 516.8L653.0 516.9L652.8 517.0L652.2 516.9L651.8 516.7L651.0 516.2L650.3 515.5L649.8 514.8L649.4 514.0L649.2 513.2L649.2 512.8L649.4 512.0L649.9 511.0L650.4 510.2L651.0 509.6L651.5 509.2L652.0 509.0L652.5 508.9L653.0 508.9L653.5 509.1L654.0 509.4L654.3 509.8L654.7 510.2L655.0 510.9L655.2 511.5L655.3 512.2L655.4 513.0L655.3 513.8L655.2 514.5L655.0 515.0L654.8 515.6L654.5 516.0L654.0 516.5ZM607.8 515.0L607.2 515.1L606.5 515.1L606.0 514.9L605.5 514.7L605.0 514.5L604.4 514.0L603.9 513.5L603.6 513.0L603.4 512.5L603.2 512.0L603.2 511.5L603.3 511.2L603.4 511.0L603.7 510.5L604.2 510.0L604.5 509.8L605.2 509.4L606.0 509.2L606.8 509.1L607.5 509.2L608.2 509.5L608.8 509.8L609.3 510.2L609.7 510.8L610.0 511.2L610.2 512.0L610.1 512.8L610.0 513.2L609.8 513.7L609.5 514.0L609.0 514.5L608.5 514.8ZM697.2 584.8L696.2 584.9L695.0 584.9L694.0 584.7L693.0 584.4L692.0 584.1L691.0 583.5L690.0 582.8L689.2 582.2L688.5 581.4L687.7 580.5L687.1 579.5L686.4 578.2L685.9 577.0L685.6 576.0L685.3 574.8L685.2 573.5L685.1 572.2L685.2 571.0L685.4 569.8L685.6 568.5L685.9 567.5L686.4 566.2L687.0 565.2L687.6 564.2L688.4 563.2L689.2 562.3L690.0 561.7L691.0 561.0L692.0 560.5L693.0 560.1L694.0 559.9L695.0 559.7L696.0 559.7L697.0 559.8L698.0 560.0L699.0 560.3L700.0 560.8L700.8 561.3L701.7 562.0L702.5 562.8L703.1 563.5L703.9 564.5L704.5 565.5L704.9 566.5L705.3 567.5L705.7 568.8L705.9 569.8L706.1 571.0L706.2 572.2L706.1 573.5L706.0 574.5L705.8 575.8L705.5 576.8L705.1 578.0L704.7 579.0L704.1 580.0L703.4 581.0L702.8 581.8L702.0 582.5L701.0 583.2L700.2 583.7L699.2 584.2L698.2 584.6ZM667.8 575.8L667.4 575.8L667.2 575.7L667.0 575.5L666.9 575.2L666.9 575.0L666.9 574.8L667.0 574.5L667.3 574.2L667.8 574.1L668.0 574.2L668.2 574.3L668.4 574.5L668.5 574.8L668.5 575.0L668.4 575.2L668.3 575.5L668.0 575.7ZM490.5 451.8L489.0 452.0L488.0 451.9L486.5 451.7L484.8 451.4L483.0 451.1L481.0 450.6L479.0 450.1L475.6 449.0L473.5 448.2L472.3 447.8L471.3 447.2L470.5 446.8L470.3 446.5L470.2 446.2L470.2 446.0L470.4 445.8L470.9 445.2L471.5 444.8L472.1 444.5L474.0 443.8L476.4 443.0L479.5 442.2L483.0 441.5L486.2 441.0L487.8 440.8L488.8 440.8L489.2 440.8L490.2 441.0L492.2 441.4L494.2 442.0L496.2 442.8L498.0 443.6L499.5 444.5L500.5 445.2L500.9 445.8L501.1 446.0L501.2 446.2L501.3 446.5L501.2 446.8L500.9 447.2L500.4 447.8L500.0 448.1L499.4 448.5L498.6 449.0L496.8 449.9L494.8 450.6L492.7 451.2ZM675.2 533.3L674.0 533.5L673.0 533.5L672.0 533.3L671.2 533.1L670.2 532.6L669.5 532.0L668.8 531.2L668.3 530.5L667.8 529.2L667.2 527.5L666.2 522.2L665.1 517.5L664.8 515.5L664.7 514.2L664.7 513.2L664.8 512.2L664.9 511.2L665.2 510.2L665.5 509.2L665.9 508.2L666.4 507.2L666.8 506.5L667.5 505.7L668.0 505.2L668.8 504.6L669.5 504.2L670.2 503.9L671.0 503.7L671.8 503.5L673.0 503.5L674.2 503.6L675.8 503.8L678.0 504.2L680.8 504.9L682.3 505.2L683.5 505.7L684.4 506.2L685.0 506.8L685.7 507.5L686.1 508.2L686.5 509.0L686.9 510.2L687.2 511.5L687.5 513.0L687.7 514.8L688.5 522.0L688.6 523.8L688.6 525.2L688.5 526.8L688.2 528.2L687.9 529.2L687.4 530.2L686.8 531.0L686.2 531.4L685.5 531.9L684.8 532.1L683.5 532.3L680.5 532.4L679.2 532.5L678.0 532.7ZM630.0 514.0L629.8 514.2L629.5 514.2L629.2 514.2L629.0 514.2L628.8 514.0L628.5 513.7L628.2 513.3L628.2 513.0L628.1 512.2L628.3 511.5L628.5 511.1L628.8 510.9L629.0 510.7L629.2 510.6L629.5 510.6L629.8 510.7L630.0 510.8L630.2 511.0L630.5 511.5L630.7 512.0L630.7 512.8L630.6 513.2L630.3 513.8ZM643.8 515.3L643.3 515.2L643.0 515.1L642.8 515.0L642.5 514.8L642.2 514.2L642.1 513.5L642.1 512.8L642.2 512.3L642.4 512.0L642.6 511.8L642.9 511.5L643.2 511.4L643.5 511.3L644.0 511.4L644.2 511.6L644.5 511.8L644.8 512.2L645.0 513.0L645.0 513.8L644.7 514.5L644.5 514.8L644.2 515.0ZM619.8 513.3L619.5 513.5L619.2 513.4L619.1 513.2L619.0 513.1L619.0 512.6L619.2 512.2L619.5 512.2L619.8 512.3L619.8 512.5L619.9 512.8L619.9 513.0ZM696.5 584.3L695.5 584.3L694.5 584.2L693.5 584.0L692.5 583.6L691.5 583.2L690.8 582.7L689.9 582.0L689.1 581.2L688.4 580.5L687.7 579.5L687.1 578.5L686.7 577.5L686.3 576.5L686.0 575.2L685.8 574.2L685.7 573.0L685.7 571.8L685.7 570.8L685.9 569.8L686.2 568.5L686.6 567.2L687.0 566.2L687.6 565.2L688.3 564.2L689.0 563.4L689.8 562.7L690.5 562.1L691.5 561.4L692.2 561.1L693.2 560.7L694.2 560.4L695.2 560.3L696.2 560.3L697.2 560.5L698.2 560.7L699.2 561.1L700.2 561.7L701.0 562.2L701.8 562.8L702.4 563.5L703.0 564.2L703.7 565.2L704.3 566.2L704.7 567.2L705.1 568.5L705.4 569.5L705.6 570.8L705.6 571.8L705.7 573.0L705.6 574.0L705.4 575.2L705.2 576.2L704.8 577.2L704.4 578.2L703.9 579.2L703.3 580.2L702.7 581.0L701.9 581.8L701.2 582.3L700.2 583.0L699.5 583.4L698.5 583.8L697.5 584.1ZM489.2 449.3L488.5 449.3L487.0 449.1L485.5 448.7L484.0 448.2L482.8 447.8L481.8 447.2L481.2 446.8L481.0 446.5L481.1 446.2L481.2 446.0L481.5 445.8L482.0 445.4L482.7 445.0L483.9 444.5L485.2 444.1L486.7 443.8L488.0 443.5L489.0 443.5L489.8 443.6L490.8 443.9L491.7 444.2L492.5 444.6L493.1 445.0L493.9 445.5L494.4 446.0L494.5 446.2L494.6 446.5L494.5 446.8L494.3 447.0L493.7 447.5L493.0 448.0L492.2 448.3L491.2 448.8L490.2 449.0ZM675.2 530.0L674.2 530.2L673.5 530.2L672.8 530.2L672.2 530.0L671.6 529.8L671.0 529.3L670.5 528.8L670.1 528.2L669.6 527.2L669.2 526.0L668.2 522.5L666.8 518.0L666.4 516.8L666.2 515.7L666.1 514.0L666.1 513.0L666.2 512.2L666.4 511.2L666.6 510.5L666.9 509.8L667.2 508.9L667.8 508.1L668.2 507.5L668.8 507.0L669.2 506.6L669.8 506.2L670.5 505.9L671.0 505.7L671.8 505.6L673.0 505.5L674.2 505.6L675.8 506.0L677.5 506.5L679.3 507.2L680.9 508.0L682.1 508.8L683.0 509.6L683.5 510.2L684.0 511.0L684.4 512.0L684.7 513.0L685.0 514.8L686.1 521.5L686.3 522.8L686.3 524.0L686.3 525.0L686.2 525.8L686.0 526.8L685.8 527.4L685.4 528.0L685.0 528.4L684.8 528.6L684.2 528.8L683.5 529.0L682.5 529.1L680.0 529.1L679.0 529.1L677.8 529.4ZM697.0 583.5L696.0 583.6L695.0 583.6L694.0 583.4L693.2 583.2L692.2 582.8L691.5 582.4L690.8 581.9L689.9 581.2L689.2 580.5L688.5 579.6L687.9 578.8L687.4 577.8L687.0 576.8L686.7 575.8L686.4 574.5L686.3 573.5L686.2 572.2L686.3 571.2L686.4 570.2L686.6 569.0L686.9 568.0L687.3 567.0L687.8 566.0L688.5 565.0L689.0 564.2L689.8 563.5L690.5 562.8L691.5 562.2L692.5 561.6L693.2 561.4L694.2 561.1L695.0 561.0L695.8 561.0L696.8 561.1L697.5 561.2L698.5 561.5L699.5 562.0L700.2 562.4L701.0 563.0L701.8 563.7L702.5 564.5L703.0 565.2L703.6 566.2L704.0 567.0L704.4 568.0L704.7 569.0L704.9 570.0L705.1 571.2L705.1 572.2L705.1 573.5L704.9 574.8L704.7 575.8L704.4 576.8L704.0 577.8L703.7 578.5L703.1 579.5L702.5 580.2L701.8 581.1L701.0 581.7L700.3 582.2L699.5 582.7L698.8 583.1L697.8 583.4ZM674.0 521.6L673.5 521.7L673.0 521.7L672.2 521.5L671.5 521.2L671.0 520.8L670.5 520.4L670.0 519.8L669.5 519.1L668.8 517.8L668.2 516.5L668.0 515.8L667.9 515.0L667.8 513.8L667.9 512.5L668.2 511.3L668.7 510.2L669.3 509.5L669.8 509.0L670.1 508.8L671.0 508.3L672.0 508.0L672.5 508.0L673.2 508.0L673.8 508.1L674.5 508.3L675.7 508.8L676.8 509.4L677.6 510.2L678.1 510.8L678.4 511.2L678.9 512.2L679.1 513.0L679.2 513.5L679.2 514.0L679.2 514.8L679.0 516.0L678.6 517.2L678.0 518.2L677.5 519.0L677.0 519.5L676.0 520.5L675.0 521.1L674.5 521.4ZM697.2 582.8L696.5 582.9L695.5 582.9L694.8 582.9L693.8 582.6L692.8 582.3L692.0 581.9L691.2 581.5L690.5 580.9L689.8 580.2L689.2 579.5L688.7 578.8L688.1 577.8L687.6 576.8L687.3 575.8L687.1 574.8L686.9 573.8L686.8 572.8L686.8 571.5L686.9 570.5L687.1 569.5L687.4 568.5L687.8 567.5L688.2 566.5L688.7 565.8L689.3 565.0L690.0 564.2L690.8 563.5L691.5 563.0L692.2 562.5L693.0 562.2L694.0 561.9L694.8 561.8L695.5 561.7L696.2 561.7L697.2 561.9L698.0 562.1L698.8 562.4L699.5 562.7L700.2 563.2L701.0 563.8L701.7 564.5L702.3 565.2L702.8 566.0L703.3 567.0L703.7 567.8L704.0 568.8L704.3 569.8L704.4 570.8L704.5 571.8L704.5 572.8L704.5 573.8L704.3 574.8L704.1 575.8L703.8 576.8L703.3 577.8L702.9 578.5L702.4 579.2L701.9 580.0L701.2 580.6L700.5 581.3L699.8 581.8L699.0 582.2L698.0 582.6ZM673.2 515.8L672.8 515.9L672.5 515.9L672.0 515.8L671.6 515.5L671.4 515.2L671.2 515.0L671.0 514.5L670.9 514.0L670.9 513.5L671.0 513.1L671.1 512.8L671.5 512.2L671.9 512.0L672.2 511.9L672.5 511.9L673.0 511.9L673.5 512.1L674.0 512.5L674.2 512.9L674.4 513.2L674.5 513.5L674.5 514.0L674.3 514.8L674.0 515.2L673.8 515.5ZM697.0 582.0L696.2 582.1L695.2 582.1L694.5 582.0L693.8 581.8L693.0 581.6L692.2 581.2L691.5 580.7L690.8 580.1L690.1 579.5L689.5 578.8L689.0 578.0L688.6 577.2L688.3 576.5L687.9 575.5L687.7 574.5L687.5 573.5L687.5 572.5L687.5 571.5L687.6 570.5L687.8 569.8L688.0 568.8L688.3 568.0L688.8 567.0L689.2 566.2L689.8 565.5L690.5 564.8L691.0 564.2L691.8 563.7L692.5 563.3L693.2 562.9L694.2 562.6L695.0 562.5L695.8 562.5L696.5 562.5L697.2 562.7L698.0 562.9L698.8 563.2L699.5 563.6L700.2 564.2L700.9 564.8L701.5 565.4L702.0 566.1L702.5 566.9L702.9 567.8L703.2 568.5L703.5 569.5L703.7 570.2L703.8 571.2L703.9 572.2L703.9 573.2L703.7 574.2L703.6 575.0L703.3 576.0L703.0 576.8L702.7 577.5L702.2 578.3L701.8 579.0L701.2 579.6L700.8 580.1L700.0 580.7L699.2 581.2L698.5 581.6L697.8 581.8ZM697.2 581.0L696.5 581.2L695.8 581.2L695.0 581.2L694.2 581.1L693.5 580.8L692.8 580.5L692.0 580.0L691.5 579.7L691.0 579.2L690.3 578.5L689.8 577.8L689.4 577.0L689.0 576.2L688.7 575.5L688.5 574.8L688.3 573.8L688.3 573.0L688.2 572.0L688.3 571.0L688.4 570.2L688.7 569.2L689.0 568.5L689.3 567.8L689.7 567.0L690.2 566.2L690.8 565.6L691.4 565.0L692.0 564.6L692.5 564.2L693.2 563.9L694.0 563.6L694.8 563.5L695.5 563.4L696.2 563.4L697.0 563.5L697.5 563.7L698.2 563.9L698.8 564.2L699.5 564.7L700.0 565.1L700.5 565.5L701.1 566.2L701.5 566.8L701.9 567.5L702.3 568.2L702.6 569.0L702.8 569.8L703.0 570.8L703.1 571.5L703.1 572.5L703.1 573.5L703.0 574.2L702.6 575.8L702.3 576.5L701.9 577.2L701.5 578.0L701.0 578.6L700.5 579.2L699.8 579.8L699.2 580.2L698.5 580.6L698.0 580.8ZM697.0 580.0L696.5 580.1L695.8 580.2L695.0 580.1L694.4 580.0L693.8 579.8L693.1 579.5L692.5 579.2L692.0 578.8L691.5 578.3L691.0 577.8L690.5 577.1L690.2 576.5L689.8 575.8L689.5 575.0L689.3 574.2L689.2 573.5L689.1 572.8L689.1 571.8L689.2 571.0L689.4 570.2L689.6 569.5L689.8 568.8L690.5 567.5L691.0 566.8L691.5 566.3L692.0 565.8L692.5 565.5L693.0 565.2L693.8 564.8L694.2 564.7L695.0 564.5L695.5 564.5L696.2 564.5L697.0 564.6L697.5 564.8L698.2 565.1L698.8 565.4L699.2 565.7L699.8 566.2L700.2 566.7L700.7 567.2L701.0 567.8L701.4 568.5L701.9 569.8L702.1 570.5L702.2 571.2L702.2 572.8L702.2 573.5L702.1 574.2L701.9 575.0L701.6 575.8L701.0 577.0L700.2 578.0L699.8 578.5L699.2 578.9L698.2 579.6L697.8 579.8ZM696.2 578.8L695.5 578.8L695.0 578.7L694.0 578.5L693.5 578.2L693.0 577.9L692.2 577.2L691.5 576.4L691.1 575.8L690.9 575.2L690.5 574.0L690.3 572.8L690.3 571.5L690.6 570.2L691.0 569.1L691.6 568.0L692.1 567.5L692.5 567.1L693.3 566.5L693.8 566.2L694.5 566.0L695.0 565.9L695.5 565.8L696.5 565.9L697.5 566.2L698.0 566.5L698.5 566.8L699.3 567.5L700.0 568.4L700.6 569.5L700.9 570.8L701.1 572.0L701.1 573.2L700.8 574.5L700.4 575.5L699.8 576.5L699.5 577.0L699.0 577.5L698.2 578.0L697.8 578.3L697.2 578.5ZM696.8 576.5L696.0 576.7L695.2 576.7L694.5 576.5L693.8 576.0L693.2 575.5L692.8 574.9L692.3 574.0L692.1 573.2L692.0 572.2L692.1 571.5L692.3 570.8L692.6 570.0L693.0 569.3L693.6 568.8L694.2 568.3L695.0 568.0L695.8 567.9L696.5 568.1L697.0 568.2L697.8 568.7L698.2 569.2L698.6 569.8L699.0 570.5L699.2 571.2L699.3 572.0L699.3 573.0L699.2 573.8L698.9 574.5L698.5 575.1L698.0 575.7L697.3 576.2Z" fill="none" stroke="#0505ff" stroke-width="0.50" stroke-linejoin="round"/>
<path d="M471.5 335.5 Q493 350 477.5 363" fill="none" stroke="#2a2ae8" stroke-width="0.9"/>
<text x="412.78" y="338.90" font-size="22.24">D</text>
<text x="489.22" y="355.60" font-size="13.00" fill="#636363">TW</text>
<text x="581.43" y="335.20" font-size="12.00" fill="#1ac2ea">Amβp6</text>
<line x1="554.10" y1="360.40" x2="590.00" y2="335.70" stroke="#2a2a2a" stroke-width="1.00"/>
<line x1="643.80" y1="360.90" x2="610.50" y2="335.20" stroke="#2a2a2a" stroke-width="1.00"/>
<line x1="580.00" y1="438.00" x2="568.70" y2="454.70" stroke="#2a2a2a" stroke-width="1.00"/>
<text x="554.04" y="465.80" font-size="13.00" fill="#636363">Fuc5</text>
<line x1="488.60" y1="447.30" x2="474.50" y2="471.50" stroke="#2a2a2a" stroke-width="1.00"/>
<text x="459.95" y="484.60" font-size="12.20" fill="#b3b3b3">Thrβ</text>
<line x1="455.40" y1="528.70" x2="452.00" y2="541.40" stroke="#2a2a2a" stroke-width="1.00"/>
<text x="436.45" y="552.10" font-size="13.00" fill="#636363">Man3_2</text>
<line x1="554.00" y1="497.80" x2="533.10" y2="506.30" stroke="#2a2a2a" stroke-width="1.00"/>
<text x="504.72" y="515.40" font-size="12.00" fill="#1ac2ea">Amβp5</text>
<line x1="602.70" y1="510.50" x2="597.10" y2="534.80" stroke="#2a2a2a" stroke-width="1.00"/>
<text x="573.84" y="545.70" font-size="12.00" fill="#1ac2ea">Amβp4</text>
<line x1="652.80" y1="514.10" x2="639.40" y2="538.80" stroke="#2a2a2a" stroke-width="1.00"/>
<text x="615.83" y="554.00" font-size="12.00" fill="#1ac2ea">Amβp3</text>
<rect x="409.00" y="315.00" width="339.00" height="1.00" fill="#333"/>
<rect x="409.00" y="315.00" width="1.00" height="283.00" fill="#1a1a1a"/>
<rect x="747.00" y="315.00" width="1.00" height="283.00" fill="#333"/>
<rect x="748.00" y="315.00" width="0.60" height="283.00" fill="#aaa"/>
<rect x="409.00" y="597.00" width="339.00" height="1.00" fill="#1a1a1a"/>
<text transform="translate(13.50 108.30) rotate(-90)" text-anchor="middle" font-size="11.6" xml:space="preserve"><tspan font-size="9" dy="-3.9">13</tspan><tspan dy="3.9">C  (ppm)</tspan></text>
<text transform="translate(13.50 421.70) rotate(-90)" text-anchor="middle" font-size="11.6" xml:space="preserve"><tspan font-size="9" dy="-3.9">13</tspan><tspan dy="3.9">C  (ppm)</tspan></text>
<text x="216.80" y="623.80" font-size="11.4" xml:space="preserve"><tspan font-size="8.2" dy="-4.8">1</tspan><tspan dy="4.8" dx="0.3">H  (ppm)</tspan></text>
<text x="589.60" y="625.30" font-size="11.4" xml:space="preserve"><tspan font-size="8.2" dy="-4.8">1</tspan><tspan dy="4.8" dx="0.3">H  (ppm)</tspan></text>
</svg></body></html>
